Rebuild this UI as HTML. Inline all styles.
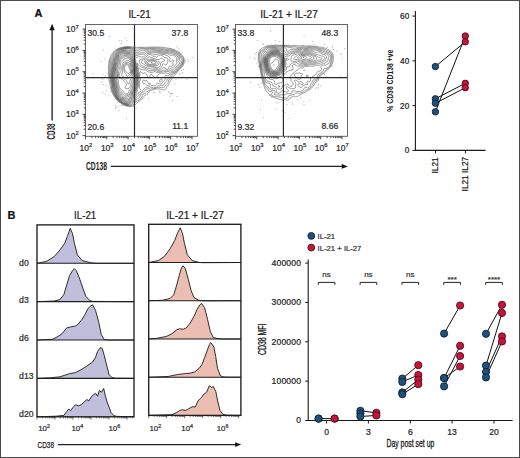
<!DOCTYPE html><html><head><meta charset="utf-8"><style>html,body{margin:0;padding:0;background:#fff}svg{display:block}text{font-family:"Liberation Sans",sans-serif}</style></head><body><svg width="520" height="458" viewBox="0 0 520 458"><rect x="0.5" y="0.5" width="519" height="457" fill="#fff" stroke="#4a4a4a" stroke-width="1"/><text x="34.6" y="17.4" font-size="11" text-anchor="start" font-weight="bold" fill="#111" stroke="#111" stroke-width="0.22" >A</text><text x="139.5" y="17.7" font-size="10.0" text-anchor="middle" font-weight="normal" fill="#222" stroke="#222" stroke-width="0.22" textLength="22.2" lengthAdjust="spacingAndGlyphs">IL-21</text><text x="289" y="17.6" font-size="10.0" text-anchor="middle" font-weight="normal" fill="#222" stroke="#222" stroke-width="0.22" textLength="57.5" lengthAdjust="spacingAndGlyphs">IL-21 + IL-27</text><path d="M52.1,120.6V29" stroke="#222" stroke-width="1.35"/><path d="M52.1,23.8L49.4,30.2L54.8,30.2Z" fill="#111"/><text transform="translate(55.2,131.6) rotate(-90)" font-size="10.2" font-weight="bold" text-anchor="middle" fill="#222" textLength="16.0" lengthAdjust="spacingAndGlyphs">CD38</text><path d="M110.8,166.4H342" stroke="#222" stroke-width="1.3"/><path d="M347.8,166.4L341.8,164L341.8,168.8Z" fill="#111"/><text x="86.0" y="169.5" font-size="10.6" font-weight="bold" fill="#222" textLength="21.0" lengthAdjust="spacingAndGlyphs">CD138</text><path d="M131.0,106.5L130.5,106.6L130.0,106.7L129.5,106.6L129.2,106.5L128.8,106.4L128.2,106.4L128.0,106.2L127.5,106.2L127.0,106.1L126.5,106.0L126.2,106.0L125.8,105.8L125.5,105.7L125.0,105.5L124.8,105.4L124.2,105.3L124.0,105.1L123.8,105.0L123.3,104.8L123.0,104.6L122.8,104.5L122.3,104.2L122.0,104.0L121.8,103.9L121.5,103.7L121.0,103.5L120.8,103.3L120.5,103.1L120.2,103.0L120.0,102.8L119.7,102.5L119.3,102.2L119.0,102.0L118.8,101.8L118.5,101.6L118.2,101.3L118.0,101.1L117.8,101.0L117.5,100.8L117.2,100.5L117.0,100.2L116.8,100.0L116.5,99.6L116.3,99.2L116.1,99.0L115.8,98.8L115.6,98.5L115.5,98.2L115.2,97.9L115.0,97.6L114.8,97.2L114.6,97.0L114.4,96.8L114.2,96.5L114.0,96.0L113.8,95.8L113.6,95.5L113.5,95.2L113.3,94.8L113.1,94.5L113.0,94.2L112.8,93.8L112.6,93.5L112.5,93.2L112.2,92.8L112.1,92.5L112.0,92.2L111.8,91.8L111.7,91.5L111.5,91.0L111.5,90.8L111.3,90.2L111.1,90.0L111.0,89.5L110.9,89.2L110.8,88.8L110.7,88.5L110.6,88.0L110.5,87.6L110.5,87.2L110.4,86.8L110.3,86.2L110.3,85.8L110.2,85.5L110.1,85.0L110.0,84.6L109.9,84.2L109.8,83.8L109.7,83.5L109.5,83.1L109.5,82.8L109.4,82.2L109.3,81.8L109.2,81.5L109.2,81.0L109.2,80.5L109.1,80.0L109.0,79.8L108.9,79.2L108.9,78.8L108.9,78.2L108.8,77.8L108.7,77.5L108.7,77.0L108.6,76.5L108.6,76.0L108.6,75.5L108.6,75.0L108.5,74.7L108.3,74.2L108.3,73.8L108.3,73.2L108.3,72.8L108.4,72.2L108.4,71.8L108.4,71.2L108.4,70.8L108.5,70.2L108.5,69.8L108.4,69.2L108.4,68.8L108.4,68.2L108.4,67.8L108.4,67.2L108.4,66.8L108.4,66.2L108.5,66.0L108.6,65.5L108.7,65.0L108.7,64.5L108.7,64.0L108.8,63.6L108.9,63.2L108.8,62.8L108.8,62.2L109.0,61.8L109.0,61.5L109.1,61.0L109.2,60.6L109.3,60.2L109.4,59.8L109.5,59.4L109.6,59.0L109.8,58.8L109.8,58.2L110.0,57.9L110.1,57.5L110.2,57.2L110.5,56.8L110.6,56.5L110.8,56.2L111.0,55.8L111.1,55.5L111.2,55.2L111.5,54.8L111.6,54.5L111.8,54.2L112.0,53.9L112.2,53.5L112.4,53.2L112.5,53.0L112.8,52.7L113.0,52.4L113.2,52.1L113.5,51.8L113.7,51.5L114.0,51.3L114.2,51.2L114.5,51.0L114.8,50.7L115.0,50.5L115.4,50.2L115.7,50.0L115.9,49.8L116.2,49.5L116.5,49.4L116.8,49.2L117.2,49.0L117.5,48.8L117.8,48.7L118.2,48.5L118.5,48.4L118.8,48.2L119.2,48.0L119.5,48.0L120.0,47.8L120.2,47.7L120.8,47.7L121.2,47.5L121.5,47.5L122.0,47.4L122.3,47.2L122.8,47.2L123.2,47.1L123.5,47.0L124.0,46.9L124.5,46.9L125.0,46.9L125.5,46.9L126.0,46.8L126.2,46.7L126.8,46.7L127.2,46.7L127.8,46.7L128.2,46.7L128.8,46.7L129.2,46.7L129.8,46.7L130.0,46.8L130.5,46.8L131.0,46.8L131.5,46.8L132.0,46.9L132.5,47.0L132.8,47.1L133.2,47.2L133.8,47.2L134.2,47.2L134.8,47.2L135.0,47.3L135.5,47.3L136.0,47.3L136.5,47.3L136.8,47.2L137.1,47.2L137.5,47.3L138.0,47.4L138.5,47.4L139.0,47.3L139.5,47.3L140.0,47.3L140.5,47.3L141.0,47.3L141.5,47.3L142.0,47.3L142.5,47.3L143.0,47.4L143.5,47.4L144.0,47.4L144.5,47.4L145.0,47.4L145.5,47.4L146.0,47.4L146.4,47.2L146.8,47.2L147.2,47.2L147.8,47.2L148.2,47.1L148.8,47.1L149.2,47.1L149.8,47.1L150.2,47.1L150.8,47.1L151.2,47.1L151.8,47.1L152.2,47.1L152.8,47.1L153.2,47.1L153.8,47.1L154.2,47.1L154.8,47.1L155.2,47.1L155.8,47.1L156.2,47.1L156.8,47.1L157.2,47.1L157.8,47.1L158.2,47.1L158.8,47.1L159.2,47.1L159.8,47.1L160.2,47.1L160.8,47.1L161.2,47.2L161.5,47.3L162.0,47.3L162.5,47.3L163.0,47.3L163.5,47.3L164.0,47.4L164.3,47.5L164.8,47.6L165.2,47.7L165.8,47.7L166.0,47.8L166.5,48.0L166.8,48.0L167.2,48.0L167.8,48.1L168.2,48.2L168.8,48.2L169.0,48.3L169.5,48.3L170.0,48.4L170.4,48.5L170.8,48.6L171.2,48.7L171.5,48.8L172.0,48.9L172.2,49.0L172.8,49.1L173.2,49.2L173.5,49.3L173.9,49.5L174.2,49.7L174.5,49.8L175.0,49.9L175.2,50.1L175.6,50.2L176.0,50.5L176.2,50.6L176.5,50.8L177.0,51.0L177.2,51.1L177.6,51.2L178.0,51.5L178.2,51.6L178.5,51.8L178.9,52.0L179.2,52.2L179.5,52.4L179.8,52.6L180.0,52.9L180.2,53.1L180.5,53.3L180.8,53.5L181.0,53.8L181.2,54.1L181.5,54.4L181.7,54.8L181.9,55.0L182.1,55.2L182.4,55.5L182.5,55.8L182.8,56.0L183.0,56.3L183.2,56.7L183.4,57.0L183.6,57.2L183.7,57.8L183.9,58.0L184.0,58.5L184.1,58.8L184.2,59.2L184.2,59.8L184.2,60.2L184.2,60.8L184.2,61.2L184.2,61.8L184.1,62.2L184.0,62.5L184.0,63.0L183.9,63.5L183.8,63.9L183.7,64.2L183.5,64.5L183.3,65.0L183.2,65.2L183.0,65.5L182.8,65.9L182.5,66.2L182.3,66.5L182.1,66.8L181.9,67.0L181.7,67.2L181.4,67.5L181.2,67.8L180.9,68.0L180.7,68.2L180.4,68.5L180.2,68.8L179.9,69.0L179.7,69.2L179.4,69.5L179.2,69.8L179.0,70.0L178.8,70.4L178.5,70.7L178.2,70.9L178.0,71.2L177.9,71.5L177.7,71.8L177.4,72.0L177.1,72.2L177.0,72.5L176.8,72.8L176.5,73.1L176.2,73.3L176.0,73.5L175.8,73.9L175.5,74.2L175.2,74.4L175.0,74.6L174.8,74.9L174.5,75.2L174.2,75.4L174.0,75.7L173.8,76.0L173.6,76.2L173.5,76.5L173.2,76.8L173.0,77.1L172.8,77.5L172.6,77.8L172.4,78.0L172.2,78.3L172.0,78.6L171.8,78.9L171.6,79.2L171.4,79.5L171.2,79.8L171.0,80.0L170.8,80.4L170.6,80.8L170.4,81.0L170.2,81.4L170.1,81.8L169.9,82.0L169.8,82.4L169.5,82.7L169.4,83.0L169.2,83.3L169.0,83.8L168.9,84.0L168.7,84.2L168.5,84.7L168.3,85.0L168.2,85.2L168.0,85.5L167.8,85.8L167.5,86.1L167.2,86.3L167.0,86.7L166.8,87.0L166.6,87.2L166.5,87.5L166.3,88.0L166.2,88.2L166.0,88.6L165.8,88.9L165.5,89.2L165.2,89.5L165.0,89.6L164.8,89.8L164.2,89.9L163.8,89.9L163.3,89.8L163.0,89.7L162.5,89.5L162.2,89.4L161.8,89.3L161.2,89.3L161.0,89.2L160.5,89.2L160.0,89.1L159.5,89.0L159.0,89.0L158.5,89.0L158.2,89.0L157.8,88.8L157.2,88.8L156.8,88.8L156.3,89.0L156.0,89.1L155.5,89.1L155.0,89.2L154.8,89.3L154.2,89.4L153.9,89.5L153.5,89.6L153.0,89.8L152.8,89.8L152.2,90.0L152.0,90.1L151.7,90.2L151.3,90.5L151.0,90.7L150.8,90.8L150.5,91.0L150.2,91.2L149.8,91.5L149.5,91.7L149.2,91.9L149.0,92.1L148.8,92.3L148.4,92.5L148.1,92.8L147.9,93.0L147.6,93.2L147.3,93.5L147.0,93.7L146.8,93.9L146.5,94.1L146.2,94.3L146.0,94.5L145.7,94.8L145.3,95.0L145.0,95.2L144.8,95.5L144.5,95.7L144.3,96.0L144.1,96.2L143.8,96.5L143.5,96.8L143.3,97.0L143.2,97.2L143.0,97.5L142.7,97.8L142.5,98.0L142.2,98.3L142.0,98.6L141.8,98.8L141.5,99.1L141.2,99.3L141.0,99.6L140.8,99.8L140.5,100.1L140.2,100.3L140.0,100.5L139.8,100.8L139.5,101.0L139.2,101.2L139.0,101.5L138.6,101.8L138.2,101.9L138.0,102.1L137.8,102.3L137.5,102.5L137.1,102.8L136.9,103.0L136.6,103.2L136.4,103.5L136.0,103.8L135.8,104.0L135.6,104.2L135.4,104.5L135.2,104.8L134.8,105.0L134.5,105.1L134.2,105.3L134.0,105.5L133.6,105.8L133.2,105.9L132.8,106.0L132.5,106.1L132.2,106.3L131.8,106.4L131.2,106.4L131.0,106.5ZM130.5,105.8L130.0,105.9L129.5,105.8L129.2,105.7L128.8,105.7L128.2,105.6L127.8,105.6L127.2,105.5L126.8,105.5L126.5,105.5L126.0,105.3L125.7,105.2L125.2,105.1L125.0,105.0L124.5,104.8L124.2,104.7L123.9,104.5L123.5,104.3L123.2,104.2L122.9,104.0L122.5,103.8L122.2,103.6L122.0,103.4L121.7,103.2L121.2,103.0L121.0,102.8L120.8,102.7L120.4,102.5L120.1,102.2L119.8,102.0L119.5,101.8L119.2,101.6L119.0,101.4L118.8,101.2L118.5,100.9L118.2,100.7L117.9,100.5L117.6,100.2L117.4,100.0L117.2,99.8L117.0,99.4L116.8,99.0L116.6,98.8L116.4,98.5L116.2,98.2L116.0,97.9L115.8,97.6L115.5,97.3L115.3,97.0L115.2,96.8L115.0,96.5L114.8,96.1L114.6,95.8L114.4,95.5L114.2,95.2L114.0,94.8L113.9,94.5L113.7,94.2L113.5,93.8L113.3,93.5L113.2,93.2L113.0,92.9L112.8,92.5L112.7,92.2L112.5,91.8L112.4,91.5L112.2,91.2L112.1,90.8L112.0,90.3L111.9,90.0L111.8,89.5L111.7,89.2L111.6,88.8L111.5,88.2L111.5,88.0L111.4,87.5L111.4,87.0L111.4,86.5L111.3,86.0L111.3,85.5L111.3,85.0L111.2,84.8L111.1,84.2L111.0,84.0L110.9,83.5L110.8,83.2L110.6,82.8L110.5,82.3L110.5,82.0L110.3,81.5L110.2,81.1L110.2,80.8L110.2,80.2L110.2,79.8L110.1,79.2L110.1,78.8L110.0,78.2L110.0,78.0L109.8,77.5L109.7,77.2L109.6,76.8L109.5,76.3L109.5,76.0L109.4,75.5L109.3,75.0L109.3,74.5L109.2,74.2L109.1,73.8L109.1,73.2L109.2,72.8L109.2,72.2L109.3,72.0L109.3,71.5L109.4,71.0L109.5,70.5L109.5,70.0L109.5,69.5L109.5,69.0L109.4,68.5L109.3,68.0L109.3,67.5L109.2,67.2L109.2,66.8L109.3,66.5L109.5,66.0L109.5,65.8L109.6,65.2L109.6,64.8L109.7,64.2L109.7,63.8L109.8,63.5L109.7,63.2L109.7,62.8L109.7,62.2L109.7,61.8L109.8,61.5L109.9,61.0L110.0,60.5L110.0,60.2L110.2,59.8L110.3,59.5L110.5,59.1L110.6,58.8L110.8,58.3L110.9,58.0L111.1,57.8L111.2,57.5L111.5,57.1L111.7,56.8L111.9,56.5L112.0,56.2L112.2,55.8L112.4,55.5L112.5,55.2L112.8,54.8L112.8,54.5L113.0,54.1L113.2,53.8L113.3,53.5L113.5,53.1L113.8,52.8L114.0,52.5L114.2,52.2L114.5,52.0L114.8,51.9L115.0,51.6L115.2,51.4L115.5,51.2L115.8,51.0L116.0,50.8L116.3,50.5L116.5,50.2L116.9,50.0L117.2,49.8L117.5,49.6L117.8,49.4L118.0,49.2L118.5,49.0L118.8,48.9L119.1,48.8L119.5,48.5L119.8,48.5L120.2,48.3L120.5,48.2L121.0,48.1L121.4,48.0L121.8,47.9L122.2,47.8L122.5,47.7L123.0,47.6L123.5,47.5L123.8,47.4L124.2,47.3L124.8,47.3L125.2,47.3L125.8,47.3L126.0,47.2L126.5,47.1L127.0,47.1L127.5,47.1L128.0,47.2L128.5,47.2L129.0,47.2L129.4,47.2L129.8,47.3L130.2,47.3L130.8,47.4L131.2,47.5L131.5,47.5L132.0,47.7L132.2,47.8L132.8,48.0L133.0,48.0L133.5,48.1L133.8,48.2L134.2,48.4L134.5,48.5L134.9,48.8L135.2,48.9L135.5,49.0L136.0,49.1L136.5,49.1L137.0,49.1L137.5,49.0L137.8,48.9L138.1,48.8L138.5,48.5L138.8,48.4L139.1,48.2L139.5,48.1L140.0,48.0L140.5,48.0L141.0,48.0L141.5,48.0L142.0,48.1L142.5,48.1L143.0,48.2L143.5,48.2L143.9,48.2L144.2,48.3L144.8,48.3L145.2,48.3L145.8,48.3L146.2,48.3L146.5,48.2L147.0,48.1L147.5,48.1L148.0,48.0L148.4,48.0L148.8,48.0L149.2,47.9L149.8,47.9L150.2,47.9L150.8,47.9L151.2,47.9L151.8,47.9L152.2,47.9L152.8,47.9L153.2,47.9L153.8,47.9L154.2,47.9L154.8,47.9L155.2,48.0L155.8,47.9L156.2,47.9L156.8,47.9L157.2,47.9L157.8,47.9L158.2,47.9L158.8,48.0L159.1,48.0L159.5,48.0L160.0,48.1L160.5,48.1L161.0,48.2L161.2,48.3L161.8,48.3L162.2,48.3L162.8,48.3L163.2,48.3L163.8,48.3L164.1,48.5L164.5,48.7L164.8,48.8L165.2,48.9L165.6,49.0L166.0,49.2L166.5,49.2L167.0,49.2L167.5,49.2L168.0,49.2L168.5,49.1L169.0,49.2L169.5,49.2L169.9,49.2L170.2,49.3L170.8,49.4L171.0,49.5L171.5,49.6L171.9,49.8L172.2,49.8L172.8,49.9L173.1,50.0L173.5,50.1L173.8,50.2L174.2,50.5L174.5,50.6L174.8,50.8L175.2,51.0L175.5,51.2L175.8,51.4L176.0,51.5L176.4,51.8L176.8,51.9L177.0,52.0L177.5,52.2L177.8,52.3L178.1,52.5L178.5,52.7L178.8,52.8L179.1,53.0L179.4,53.2L179.6,53.5L179.8,53.8L180.1,54.0L180.4,54.2L180.5,54.5L180.8,54.9L180.9,55.2L181.1,55.5L181.2,55.8L181.5,56.0L181.8,56.3L182.0,56.6L182.2,56.8L182.5,57.1L182.8,57.4L182.9,57.8L183.0,58.0L183.2,58.5L183.3,58.8L183.5,59.2L183.5,59.8L183.5,60.2L183.4,60.8L183.4,61.2L183.4,61.8L183.3,62.2L183.3,62.8L183.2,63.1L183.1,63.5L183.0,64.0L182.9,64.2L182.8,64.6L182.5,65.0L182.4,65.2L182.2,65.5L182.0,65.8L181.8,66.1L181.5,66.5L181.3,66.8L181.0,67.0L180.8,67.2L180.5,67.5L180.3,67.8L180.0,68.0L179.8,68.2L179.5,68.5L179.2,68.7L179.0,68.9L178.8,69.2L178.5,69.4L178.3,69.8L178.1,70.0L177.9,70.2L177.7,70.5L177.5,70.8L177.2,71.1L177.0,71.4L176.8,71.7L176.5,71.9L176.2,72.2L176.0,72.5L175.8,72.7L175.5,72.8L175.2,73.0L175.0,73.2L174.5,73.5L174.2,73.6L173.9,73.8L173.5,73.9L173.2,74.1L173.0,74.3L172.7,74.5L172.5,74.8L172.2,75.1L172.1,75.5L172.0,75.8L171.8,76.2L171.6,76.5L171.5,76.8L171.2,77.2L171.1,77.5L170.9,77.8L170.6,78.0L170.4,78.2L170.2,78.5L169.9,78.8L169.5,79.0L169.3,79.2L169.1,79.5L168.9,79.8L168.8,80.1L168.6,80.5L168.5,81.0L168.5,81.3L168.4,81.8L168.3,82.2L168.2,82.5L168.0,82.8L167.8,83.2L167.5,83.5L167.2,83.7L167.0,83.9L166.8,84.0L166.5,84.3L166.2,84.5L166.0,84.8L165.8,85.1L165.5,85.5L165.3,85.8L165.1,86.0L165.0,86.2L164.8,86.5L164.5,87.0L164.3,87.2L164.1,87.5L163.9,87.8L163.5,87.8L163.2,87.7L162.8,87.5L162.5,87.5L162.0,87.4L161.5,87.4L161.0,87.5L160.8,87.5L160.2,87.5L159.8,87.6L159.2,87.6L158.8,87.7L158.2,87.6L157.8,87.6L157.2,87.7L157.0,87.8L156.5,87.9L156.2,88.0L155.8,88.2L155.5,88.3L155.0,88.3L154.5,88.5L154.2,88.5L153.8,88.6L153.2,88.7L152.8,88.7L152.2,88.7L152.0,88.8L151.5,88.9L151.2,89.0L150.9,89.2L150.6,89.5L150.2,89.7L150.0,89.8L149.7,90.0L149.3,90.2L149.0,90.4L148.8,90.5L148.3,90.8L148.0,90.9L147.8,91.0L147.3,91.2L147.0,91.5L146.9,91.8L146.7,92.0L146.4,92.2L146.0,92.5L145.8,92.7L145.5,92.9L145.2,93.1L144.8,93.2L144.5,93.4L144.2,93.5L143.8,93.7L143.5,93.9L143.2,94.1L143.0,94.3L142.8,94.5L142.5,94.8L142.2,95.1L142.1,95.5L142.0,96.0L142.0,96.2L141.9,96.8L141.8,97.2L141.7,97.5L141.5,97.8L141.2,98.1L141.0,98.4L140.8,98.7L140.5,98.9L140.2,99.1L140.0,99.3L139.8,99.5L139.4,99.8L139.1,100.0L138.8,100.2L138.5,100.4L138.2,100.5L137.8,100.7L137.5,100.8L137.0,101.0L136.8,101.1L136.5,101.3L136.2,101.5L135.9,101.8L135.6,102.0L135.2,102.2L135.0,102.5L134.8,102.7L134.6,103.0L134.5,103.2L134.2,103.7L134.0,104.0L133.8,104.2L133.5,104.5L133.3,104.8L133.0,104.9L132.8,105.0L132.2,105.2L132.0,105.4L131.7,105.5L131.2,105.6L130.8,105.7L130.5,105.8ZM130.2,105.1L129.8,105.1L129.2,105.1L128.8,105.1L128.2,105.1L127.8,105.1L127.2,105.0L126.8,105.0L126.5,105.0L126.0,104.9L125.5,104.8L125.2,104.6L124.9,104.5L124.5,104.4L124.2,104.2L123.8,104.0L123.5,103.8L123.2,103.7L122.9,103.5L122.5,103.2L122.2,103.1L122.0,102.9L121.7,102.8L121.3,102.5L121.0,102.3L120.8,102.2L120.5,102.0L120.2,101.8L119.8,101.5L119.5,101.3L119.2,101.1L119.0,100.9L118.8,100.7L118.5,100.4L118.2,100.2L117.9,100.0L117.7,99.8L117.5,99.5L117.2,99.1L117.1,98.8L116.9,98.5L116.7,98.2L116.5,98.0L116.2,97.6L116.0,97.2L115.8,97.0L115.7,96.8L115.5,96.4L115.2,96.0L115.1,95.8L115.0,95.5L114.8,95.1L114.5,94.8L114.4,94.5L114.2,94.1L114.1,93.8L113.9,93.5L113.8,93.1L113.5,92.8L113.4,92.5L113.2,92.2L113.0,91.8L113.0,91.5L112.8,91.0L112.7,90.8L112.6,90.2L112.5,90.0L112.4,89.5L112.3,89.0L112.2,88.7L112.2,88.2L112.1,87.8L112.0,87.2L112.0,87.0L112.0,86.5L112.0,86.0L111.9,85.5L111.9,85.0L111.8,84.5L111.7,84.2L111.6,83.8L111.5,83.4L111.4,83.0L111.2,82.6L111.2,82.2L111.1,81.8L111.0,81.2L111.0,81.0L110.9,80.5L110.9,80.0L110.9,79.5L110.8,79.0L110.8,78.7L110.7,78.2L110.6,77.8L110.5,77.4L110.4,77.0L110.2,76.6L110.2,76.2L110.1,75.8L110.0,75.2L110.0,75.0L110.0,74.5L109.9,74.0L109.8,73.5L109.9,73.0L110.0,72.5L110.0,72.2L110.1,71.8L110.2,71.2L110.2,70.8L110.3,70.5L110.3,70.0L110.4,69.5L110.3,69.0L110.3,68.5L110.3,68.0L110.2,67.8L110.2,67.2L110.2,66.8L110.2,66.4L110.4,66.0L110.5,65.5L110.5,65.2L110.6,64.8L110.6,64.2L110.6,63.8L110.6,63.2L110.5,62.8L110.5,62.5L110.5,62.2L110.5,61.8L110.6,61.2L110.7,60.8L110.8,60.5L111.0,60.1L111.2,59.8L111.4,59.5L111.5,59.2L111.7,58.8L111.9,58.5L112.0,58.2L112.2,57.9L112.5,57.5L112.7,57.2L112.8,57.0L113.0,56.6L113.2,56.2L113.3,56.0L113.5,55.7L113.7,55.2L113.8,55.0L113.9,54.5L114.0,54.1L114.1,53.8L114.3,53.5L114.5,53.2L114.8,52.8L115.0,52.6L115.2,52.4L115.5,52.1L115.8,51.9L116.0,51.7L116.2,51.5L116.5,51.2L116.8,50.9L117.0,50.7L117.2,50.5L117.6,50.2L117.9,50.0L118.2,49.8L118.5,49.6L118.8,49.4L119.1,49.2L119.5,49.1L119.8,48.9L120.2,48.8L120.5,48.7L121.0,48.6L121.3,48.5L121.8,48.4L122.2,48.3L122.5,48.2L123.0,48.1L123.3,48.0L123.8,47.9L124.1,47.8L124.5,47.7L125.0,47.7L125.5,47.7L126.0,47.7L126.5,47.5L127.0,47.5L127.5,47.6L128.0,47.6L128.5,47.6L129.0,47.7L129.5,47.7L129.8,47.8L130.2,47.9L130.8,48.0L131.0,48.0L131.5,48.2L131.8,48.2L132.2,48.5L132.5,48.6L132.9,48.8L133.2,48.9L133.5,49.0L133.8,49.2L134.2,49.5L134.5,49.7L134.8,49.9L135.0,50.2L135.2,50.4L135.5,50.6L135.8,50.8L136.2,50.9L136.8,50.9L137.2,50.8L137.5,50.7L138.0,50.5L138.2,50.4L138.6,50.2L139.0,50.0L139.2,49.8L139.5,49.6L139.8,49.3L140.0,49.1L140.2,49.0L140.8,48.9L141.2,48.8L141.8,48.8L142.2,48.9L142.8,48.9L143.2,49.0L143.5,49.0L144.0,49.1L144.5,49.1L145.0,49.1L145.5,49.1L146.0,49.0L146.4,49.0L146.8,48.9L147.2,48.9L147.8,48.9L148.2,48.8L148.8,48.8L149.0,48.7L149.5,48.7L150.0,48.6L150.5,48.6L151.0,48.6L151.5,48.6L152.0,48.6L152.5,48.6L153.0,48.6L153.5,48.6L154.0,48.6L154.5,48.7L155.0,48.7L155.5,48.7L155.8,48.8L156.2,48.8L156.8,48.8L157.2,48.8L157.8,48.9L158.2,48.9L158.8,49.0L159.1,49.0L159.5,49.0L160.0,49.1L160.5,49.1L160.9,49.2L161.2,49.3L161.8,49.4L162.2,49.4L162.8,49.4L163.2,49.4L163.8,49.5L164.0,49.6L164.5,49.7L164.8,49.8L165.2,49.9L165.8,50.0L166.0,50.0L166.5,50.1L167.0,50.1L167.5,50.1L168.0,50.0L168.2,50.0L168.6,50.0L169.0,50.0L169.5,50.0L170.0,50.1L170.5,50.2L170.8,50.3L171.2,50.4L171.8,50.5L172.0,50.5L172.5,50.6L173.0,50.7L173.3,50.8L173.8,51.0L174.0,51.1L174.3,51.2L174.7,51.5L175.0,51.8L175.2,52.0L175.5,52.1L175.8,52.3L176.1,52.5L176.5,52.7L176.8,52.8L177.2,53.0L177.5,53.1L178.0,53.2L178.2,53.4L178.6,53.5L179.0,53.8L179.2,54.0L179.4,54.2L179.7,54.5L179.9,54.8L180.1,55.0L180.2,55.4L180.4,55.8L180.6,56.0L180.8,56.3L181.0,56.6L181.2,57.0L181.5,57.2L181.8,57.5L182.0,57.8L182.1,58.0L182.3,58.2L182.5,58.7L182.6,59.0L182.8,59.4L182.8,59.8L182.8,60.2L182.8,60.8L182.8,61.2L182.8,61.8L182.7,62.0L182.7,62.5L182.6,63.0L182.5,63.5L182.5,63.8L182.2,64.2L182.1,64.5L182.0,64.8L181.8,65.1L181.5,65.4L181.2,65.7L181.1,66.0L180.9,66.2L180.6,66.5L180.4,66.8L180.1,67.0L179.9,67.2L179.6,67.5L179.3,67.8L179.0,68.0L178.8,68.2L178.5,68.4L178.2,68.7L178.0,68.9L177.8,69.2L177.6,69.5L177.4,69.8L177.2,70.0L177.0,70.2L176.8,70.7L176.5,71.0L176.3,71.2L176.0,71.5L175.8,71.8L175.5,72.0L175.2,72.2L175.0,72.3L174.6,72.5L174.2,72.7L174.0,72.8L173.5,72.9L173.1,73.0L172.8,73.1L172.5,73.2L172.1,73.5L171.8,73.8L171.5,74.0L171.3,74.2L171.2,74.5L171.0,74.9L170.8,75.2L170.6,75.5L170.5,75.8L170.2,76.2L170.1,76.5L169.9,76.8L169.7,77.0L169.4,77.2L169.2,77.5L168.9,77.8L168.6,78.0L168.3,78.2L168.1,78.5L167.9,78.8L167.7,79.0L167.5,79.2L167.2,79.7L167.1,80.0L167.0,80.2L166.8,80.7L166.6,81.0L166.4,81.2L166.2,81.5L166.0,81.8L165.7,82.0L165.4,82.2L165.1,82.5L164.8,82.8L164.6,83.0L164.5,83.2L164.2,83.7L164.1,84.0L164.0,84.3L163.8,84.8L163.7,85.0L163.4,85.2L163.0,85.4L162.5,85.3L162.0,85.3L161.5,85.4L161.1,85.5L160.8,85.6L160.2,85.7L159.9,85.8L159.5,85.8L159.0,85.8L158.5,85.8L158.1,86.0L157.8,86.2L157.5,86.3L157.2,86.5L156.8,86.8L156.5,86.9L156.2,87.1L155.9,87.2L155.5,87.4L155.1,87.5L154.8,87.6L154.2,87.7L153.8,87.7L153.2,87.6L153.0,87.5L152.5,87.4L152.0,87.3L151.5,87.3L151.0,87.5L150.8,87.6L150.5,87.8L150.2,88.0L149.9,88.2L149.5,88.5L149.2,88.5L148.8,88.7L148.2,88.7L148.0,88.8L147.5,88.8L147.0,88.9L146.8,89.0L146.2,89.2L146.0,89.4L145.8,89.5L145.4,89.8L145.1,90.0L144.9,90.2L144.7,90.5L144.5,90.8L144.2,91.1L144.0,91.5L143.8,91.8L143.6,92.0L143.3,92.2L143.0,92.5L142.8,92.7L142.5,92.9L142.2,93.2L142.0,93.4L141.8,93.6L141.5,93.8L141.2,94.0L141.0,94.3L140.8,94.6L140.5,94.9L140.3,95.2L140.2,95.5L140.0,96.0L140.0,96.2L139.9,96.8L139.8,97.2L139.7,97.5L139.5,97.8L139.1,98.0L138.8,98.2L138.5,98.3L138.1,98.5L137.8,98.8L137.5,99.0L137.2,99.2L137.0,99.4L136.8,99.6L136.5,99.8L136.2,100.1L136.0,100.3L135.8,100.6L135.5,100.8L135.2,101.0L134.9,101.2L134.6,101.5L134.2,101.7L134.0,102.0L133.8,102.2L133.6,102.5L133.4,102.8L133.2,103.0L133.0,103.2L132.8,103.6L132.5,103.8L132.2,104.0L131.9,104.2L131.6,104.5L131.2,104.7L131.0,104.8L130.5,105.0L130.2,105.1ZM129.0,104.5L128.5,104.6L128.0,104.6L127.5,104.6L127.0,104.6L126.5,104.6L126.1,104.5L125.8,104.4L125.3,104.2L125.0,104.2L124.6,104.0L124.2,103.8L124.0,103.7L123.6,103.5L123.2,103.3L123.0,103.1L122.8,103.0L122.5,102.8L122.0,102.5L121.8,102.4L121.5,102.2L121.2,102.0L120.8,101.8L120.5,101.5L120.2,101.4L120.0,101.2L119.6,101.0L119.3,100.8L119.1,100.5L118.8,100.2L118.5,100.0L118.2,99.8L118.0,99.6L117.8,99.3L117.6,99.0L117.5,98.8L117.2,98.4L117.0,98.1L116.8,97.8L116.6,97.5L116.4,97.2L116.2,97.0L116.0,96.6L115.8,96.2L115.6,96.0L115.5,95.7L115.3,95.2L115.1,95.0L115.0,94.8L114.8,94.3L114.6,94.0L114.5,93.7L114.3,93.2L114.2,93.0L114.0,92.6L113.8,92.2L113.7,92.0L113.5,91.6L113.4,91.2L113.2,91.0L113.1,90.5L113.0,90.0L113.0,89.8L112.9,89.2L112.8,88.8L112.8,88.2L112.7,88.0L112.6,87.5L112.6,87.0L112.5,86.5L112.5,86.2L112.5,85.8L112.4,85.2L112.3,84.8L112.2,84.4L112.2,84.0L112.0,83.5L112.0,83.2L111.8,82.8L111.8,82.3L111.7,82.0L111.6,81.5L111.5,81.0L111.5,80.7L111.5,80.2L111.4,79.8L111.4,79.2L111.3,78.8L111.2,78.5L111.2,78.0L111.1,77.5L111.0,77.2L110.9,76.8L110.8,76.2L110.7,76.0L110.7,75.5L110.6,75.0L110.6,74.5L110.6,74.0L110.6,73.5L110.7,73.0L110.8,72.5L110.8,72.2L110.9,71.8L110.9,71.2L111.0,70.9L111.0,70.5L111.1,70.0L111.1,69.5L111.1,69.0L111.1,68.5L111.1,68.0L111.1,67.5L111.1,67.0L111.2,66.5L111.3,66.2L111.4,65.8L111.5,65.2L111.5,65.0L111.6,64.5L111.6,64.0L111.6,63.5L111.5,63.0L111.5,62.5L111.5,62.0L111.6,61.5L111.8,61.1L111.9,60.8L112.0,60.5L112.2,60.1L112.5,59.8L112.6,59.5L112.8,59.1L112.9,58.8L113.0,58.5L113.2,58.0L113.4,57.8L113.5,57.5L113.8,57.0L113.9,56.8L114.1,56.5L114.2,56.2L114.5,55.8L114.6,55.5L114.8,55.2L114.9,54.8L115.0,54.5L115.2,54.0L115.3,53.8L115.5,53.4L115.8,53.0L116.0,52.8L116.2,52.5L116.4,52.2L116.6,52.0L116.8,51.8L117.1,51.5L117.3,51.2L117.5,51.0L117.8,50.8L118.0,50.5L118.3,50.2L118.7,50.0L119.0,49.8L119.2,49.7L119.6,49.5L120.0,49.3L120.2,49.2L120.8,49.1L121.1,49.0L121.5,48.9L122.0,48.8L122.2,48.7L122.8,48.6L123.0,48.5L123.5,48.4L123.8,48.2L124.2,48.1L124.8,48.1L125.2,48.1L125.8,48.1L126.2,48.0L126.5,47.9L127.0,47.9L127.5,47.9L128.0,48.0L128.3,48.0L128.8,48.0L129.2,48.1L129.8,48.2L130.0,48.3L130.5,48.4L130.8,48.5L131.2,48.7L131.5,48.9L131.8,49.0L132.1,49.2L132.5,49.5L132.8,49.6L133.0,49.8L133.4,50.0L133.8,50.2L134.0,50.5L134.2,50.7L134.5,51.0L134.7,51.2L134.9,51.5L135.0,51.8L135.2,52.0L135.5,52.3L135.8,52.5L136.2,52.5L136.5,52.5L137.0,52.4L137.5,52.3L137.8,52.2L138.2,52.1L138.5,52.0L139.0,51.9L139.3,51.8L139.8,51.5L140.0,51.4L140.2,51.2L140.5,51.0L140.8,50.8L141.1,50.5L141.5,50.3L142.0,50.3L142.5,50.3L143.0,50.5L143.2,50.5L143.8,50.6L144.2,50.5L144.5,50.4L144.9,50.2L145.2,50.1L145.7,50.0L146.0,50.0L146.5,49.9L147.0,49.8L147.5,49.8L148.0,49.9L148.5,49.9L149.0,49.9L149.5,49.9L150.0,49.8L150.5,49.8L150.8,49.7L151.2,49.6L151.8,49.6L152.2,49.5L152.5,49.5L153.0,49.5L153.5,49.5L153.9,49.5L154.2,49.5L154.8,49.6L155.2,49.7L155.5,49.8L156.0,49.8L156.5,49.9L157.0,49.9L157.5,50.0L157.9,50.0L158.2,50.0L158.8,50.0L159.2,50.0L159.8,50.0L160.2,50.0L160.8,50.1L161.2,50.2L161.5,50.2L162.0,50.3L162.5,50.4L163.0,50.4L163.3,50.5L163.8,50.6L164.2,50.7L164.7,50.8L165.0,50.8L165.5,50.8L166.0,50.9L166.5,50.9L167.0,50.9L167.5,50.9L168.0,50.9L168.5,51.0L168.9,51.0L169.2,51.1L169.8,51.2L170.1,51.2L170.5,51.3L171.0,51.4L171.5,51.4L172.0,51.4L172.5,51.4L173.0,51.5L173.2,51.6L173.6,51.8L174.0,52.0L174.2,52.2L174.5,52.4L174.8,52.6L175.0,52.8L175.3,53.0L175.6,53.2L176.0,53.5L176.2,53.6L176.6,53.8L177.0,53.9L177.4,54.0L177.8,54.1L178.2,54.2L178.5,54.4L178.8,54.6L179.0,54.9L179.2,55.2L179.5,55.5L179.6,55.8L179.8,56.1L180.0,56.5L180.1,56.8L180.2,57.0L180.5,57.5L180.6,57.8L180.8,58.0L181.0,58.5L181.1,58.8L181.2,59.1L181.4,59.5L181.5,59.8L181.7,60.2L181.8,60.6L181.9,61.0L181.9,61.5L182.0,62.0L182.0,62.3L182.0,62.8L182.0,63.0L181.9,63.5L181.8,63.9L181.6,64.2L181.4,64.5L181.2,64.8L181.0,65.0L180.8,65.3L180.5,65.6L180.2,65.9L180.0,66.2L179.8,66.4L179.5,66.6L179.2,66.8L179.0,67.1L178.7,67.2L178.4,67.5L178.1,67.8L177.8,68.0L177.5,68.2L177.2,68.5L177.0,68.8L176.8,69.0L176.7,69.2L176.5,69.5L176.2,69.9L176.1,70.2L176.0,70.5L175.7,70.8L175.5,71.0L175.2,71.2L174.9,71.5L174.5,71.7L174.2,71.8L173.8,71.9L173.5,72.0L173.0,72.1L172.5,72.2L172.2,72.3L171.8,72.5L171.5,72.7L171.2,72.9L171.0,73.1L170.8,73.3L170.5,73.6L170.2,73.9L170.0,74.2L169.8,74.5L169.6,74.8L169.5,75.0L169.2,75.2L169.0,75.5L168.6,75.8L168.2,75.9L167.8,75.9L167.2,75.8L167.0,75.8L166.5,75.6L166.0,75.5L165.5,75.6L165.2,75.8L165.0,76.0L164.8,76.5L164.7,76.8L164.8,77.0L164.9,77.5L165.0,77.9L165.1,78.2L165.2,78.8L165.2,79.2L165.0,79.7L164.8,80.0L164.6,80.2L164.4,80.5L164.2,80.8L164.0,81.0L163.7,81.2L163.4,81.5L163.2,81.8L163.0,82.0L162.8,82.3L162.5,82.6L162.2,82.9L162.0,83.2L161.8,83.4L161.5,83.5L161.0,83.8L160.8,83.8L160.2,83.9L159.8,83.9L159.3,83.8L159.0,83.6L158.8,83.5L158.2,83.3L158.0,83.2L157.5,83.2L157.2,83.3L157.0,83.5L156.8,83.9L156.6,84.2L156.5,84.6L156.3,85.0L156.1,85.2L155.8,85.5L155.5,85.7L155.2,85.8L154.8,85.8L154.2,85.8L154.0,85.8L153.5,85.6L153.0,85.5L152.5,85.5L152.0,85.6L151.5,85.7L151.2,85.8L150.8,86.0L150.5,86.2L150.2,86.3L149.9,86.5L149.5,86.7L149.2,86.8L148.8,87.0L148.5,87.0L148.0,87.1L147.5,87.2L147.0,87.2L146.8,87.3L146.2,87.4L146.0,87.5L145.5,87.7L145.2,87.9L145.0,88.0L144.6,88.2L144.3,88.5L144.0,88.8L143.8,89.0L143.5,89.2L143.3,89.5L143.2,89.8L143.0,90.1L142.8,90.5L142.7,90.8L142.5,91.1L142.2,91.5L142.0,91.8L141.8,92.0L141.6,92.2L141.3,92.5L141.0,92.8L140.8,93.0L140.5,93.2L140.2,93.4L140.0,93.6L139.8,93.9L139.5,94.1L139.2,94.4L139.0,94.7L138.8,95.0L138.6,95.2L138.4,95.5L138.2,95.8L138.0,96.0L137.8,96.3L137.5,96.5L137.2,96.8L137.0,97.0L136.8,97.3L136.5,97.6L136.3,98.0L136.1,98.2L136.0,98.5L135.8,98.9L135.6,99.2L135.4,99.5L135.2,99.8L135.0,100.0L134.7,100.2L134.4,100.5L134.1,100.8L133.8,101.0L133.5,101.2L133.2,101.5L133.0,101.7L132.8,102.0L132.5,102.2L132.3,102.5L132.0,102.8L131.8,103.0L131.5,103.2L131.2,103.4L131.0,103.6L130.7,103.8L130.4,104.0L130.0,104.2L129.8,104.3L129.2,104.4L129.0,104.5ZM128.0,104.0L127.5,104.1L127.0,104.2L126.5,104.2L126.0,104.1L125.7,104.0L125.2,103.9L124.9,103.8L124.5,103.6L124.2,103.5L123.9,103.2L123.5,103.0L123.2,102.9L123.0,102.7L122.7,102.5L122.3,102.2L122.0,102.1L121.8,101.9L121.5,101.8L121.0,101.5L120.8,101.3L120.5,101.1L120.2,101.0L119.8,100.8L119.5,100.5L119.2,100.3L119.0,100.0L118.8,99.8L118.5,99.7L118.2,99.4L118.0,99.1L117.8,98.8L117.6,98.5L117.5,98.2L117.2,98.0L117.0,97.6L116.8,97.2L116.6,97.0L116.5,96.8L116.2,96.4L116.0,96.0L115.9,95.8L115.8,95.4L115.6,95.0L115.4,94.8L115.2,94.3L115.1,94.0L115.0,93.7L114.8,93.2L114.7,93.0L114.5,92.5L114.4,92.2L114.2,92.0L114.0,91.5L114.0,91.2L113.8,90.8L113.7,90.5L113.7,90.0L113.6,89.5L113.5,89.1L113.4,88.8L113.3,88.2L113.2,87.8L113.2,87.5L113.1,87.0L113.0,86.5L113.0,86.2L112.9,85.8L112.9,85.2L112.8,84.8L112.7,84.5L112.6,84.0L112.5,83.5L112.4,83.2L112.3,82.8L112.2,82.5L112.2,82.0L112.1,81.5L112.0,81.0L112.0,80.8L111.9,80.2L111.9,79.8L111.8,79.2L111.8,78.8L111.7,78.5L111.6,78.0L111.5,77.5L111.5,77.2L111.4,76.8L111.3,76.2L111.2,76.0L111.2,75.5L111.2,75.0L111.2,74.5L111.3,74.2L111.3,73.8L111.3,73.2L111.4,72.8L111.4,72.2L111.5,71.8L111.5,71.5L111.6,71.0L111.7,70.5L111.7,70.0L111.7,69.5L111.8,69.2L111.8,68.8L111.8,68.2L111.8,67.8L111.9,67.2L112.0,66.8L112.0,66.5L112.2,66.0L112.2,65.6L112.3,65.2L112.4,64.8L112.4,64.2L112.4,63.8L112.4,63.2L112.4,62.8L112.5,62.2L112.5,62.0L112.6,61.5L112.8,61.1L112.9,60.8L113.0,60.5L113.2,60.0L113.3,59.8L113.5,59.2L113.6,59.0L113.8,58.6L113.9,58.2L114.0,58.0L114.2,57.6L114.5,57.2L114.6,57.0L114.8,56.8L115.0,56.4L115.2,56.0L115.4,55.8L115.5,55.5L115.7,55.0L115.8,54.8L116.0,54.3L116.1,54.0L116.2,53.7L116.5,53.3L116.7,53.0L116.8,52.8L117.1,52.5L117.3,52.2L117.5,51.9L117.8,51.7L118.0,51.4L118.2,51.1L118.5,50.9L118.8,50.6L119.0,50.4L119.2,50.2L119.6,50.0L120.0,49.8L120.2,49.7L120.7,49.5L121.0,49.4L121.5,49.3L121.8,49.2L122.2,49.2L122.7,49.0L123.0,48.9L123.5,48.8L123.8,48.7L124.2,48.5L124.5,48.5L125.0,48.4L125.5,48.4L126.0,48.4L126.5,48.3L127.0,48.3L127.5,48.3L128.0,48.4L128.5,48.4L128.9,48.5L129.2,48.6L129.6,48.8L130.0,49.0L130.2,49.1L130.5,49.3L130.9,49.5L131.2,49.7L131.5,49.8L131.8,50.0L132.2,50.2L132.5,50.4L132.8,50.5L133.1,50.8L133.4,51.0L133.6,51.2L133.8,51.5L134.0,51.8L134.2,52.2L134.4,52.5L134.6,52.8L134.8,53.0L135.0,53.4L135.2,53.7L135.5,53.9L135.8,54.1L136.2,54.1L136.6,54.0L137.0,53.9L137.4,53.8L137.8,53.6L138.2,53.5L138.5,53.4L139.0,53.4L139.5,53.3L139.8,53.2L140.2,53.1L140.7,53.0L141.0,52.9L141.5,52.8L141.8,52.7L142.2,52.6L142.8,52.6L143.2,52.6L143.8,52.6L144.2,52.5L144.5,52.4L144.8,52.2L145.0,52.0L145.3,51.8L145.6,51.5L145.9,51.2L146.2,51.1L146.7,51.0L147.0,51.0L147.5,51.0L147.8,51.0L148.2,51.2L148.6,51.2L149.0,51.3L149.5,51.3L150.0,51.3L150.2,51.2L150.8,51.1L151.1,51.0L151.5,50.9L151.9,50.8L152.2,50.6L152.8,50.5L153.2,50.5L153.8,50.5L154.2,50.6L154.8,50.7L155.2,50.7L155.5,50.8L156.0,50.8L156.5,50.9L157.0,50.9L157.5,50.9L158.0,50.9L158.5,50.9L159.0,50.8L159.5,50.8L160.0,50.8L160.5,50.9L161.0,51.0L161.2,51.0L161.8,51.2L162.0,51.3L162.5,51.4L162.8,51.5L163.2,51.6L163.7,51.8L164.0,51.8L164.5,51.8L165.0,51.8L165.5,51.8L165.8,51.8L166.2,51.7L166.8,51.7L167.1,51.8L167.5,51.8L168.0,51.8L168.5,51.9L168.8,52.0L169.2,52.1L169.7,52.2L170.0,52.4L170.5,52.5L170.8,52.5L171.2,52.6L171.8,52.5L172.1,52.5L172.4,52.5L172.8,52.5L173.2,52.7L173.5,52.8L173.9,53.0L174.2,53.2L174.5,53.4L174.8,53.6L175.0,53.8L175.3,54.0L175.7,54.2L176.0,54.4L176.2,54.6L176.6,54.8L177.0,54.9L177.2,55.0L177.8,55.2L178.0,55.4L178.2,55.6L178.5,55.8L178.8,56.1L179.0,56.5L179.1,56.8L179.2,57.1L179.4,57.5L179.5,58.0L179.5,58.5L179.5,59.0L179.4,59.5L179.5,60.0L179.5,60.2L179.8,60.6L180.0,60.9L180.2,61.2L180.5,61.5L180.7,61.8L180.8,62.0L181.0,62.5L181.0,62.8L181.0,63.0L180.9,63.5L180.8,63.8L180.5,64.2L180.2,64.5L180.0,64.7L179.8,65.0L179.5,65.2L179.2,65.5L179.0,65.7L178.8,65.9L178.5,66.1L178.2,66.3L178.0,66.5L177.7,66.8L177.4,67.0L177.2,67.2L176.9,67.5L176.6,67.8L176.4,68.0L176.1,68.2L175.9,68.5L175.7,68.8L175.5,69.1L175.3,69.5L175.1,69.8L175.0,70.0L174.7,70.2L174.5,70.5L174.2,70.8L173.8,71.0L173.5,71.1L173.0,71.2L172.6,71.2L172.2,71.3L171.8,71.4L171.5,71.5L171.0,71.7L170.8,71.9L170.5,72.1L170.2,72.3L170.0,72.5L169.7,72.8L169.4,73.0L169.0,73.2L168.8,73.4L168.3,73.5L168.1,73.5L167.8,73.4L167.2,73.3L167.0,73.2L166.5,73.0L166.2,72.9L165.8,72.9L165.2,73.0L165.0,73.0L164.5,73.2L164.0,73.2L163.8,73.3L163.2,73.3L163.0,73.2L162.5,73.2L162.0,73.1L161.5,73.1L161.0,73.2L160.8,73.3L160.2,73.5L160.0,73.6L159.6,73.8L159.2,73.9L159.0,74.1L158.7,74.2L158.4,74.5L158.2,74.8L158.0,75.0L157.8,75.5L157.7,75.8L157.5,76.2L157.3,76.5L157.1,76.8L156.9,77.0L156.6,77.2L156.2,77.5L156.0,77.5L155.5,77.6L155.2,77.5L154.8,77.3L154.5,77.2L154.2,77.0L153.9,76.8L153.5,76.5L153.3,76.2L153.0,76.0L152.8,75.8L152.6,75.5L152.4,75.2L152.1,75.0L151.8,74.8L151.5,74.7L151.0,74.6L150.5,74.8L150.3,75.0L150.1,75.2L150.0,75.6L149.9,76.0L149.8,76.5L149.8,76.8L149.5,77.2L149.3,77.5L149.1,77.8L148.8,78.0L148.5,78.0L148.4,77.8L148.3,77.2L148.2,77.0L148.0,76.6L147.8,76.3L147.5,76.1L147.2,75.8L147.0,75.6L146.8,75.2L146.7,75.0L146.5,74.5L146.4,74.2L146.2,73.8L146.1,73.5L145.8,73.2L145.6,73.0L145.2,72.8L145.0,72.7L144.5,72.7L144.2,72.8L143.8,72.9L143.5,73.1L143.1,73.2L142.8,73.3L142.4,73.2L142.0,73.0L141.8,72.8L141.7,72.5L141.4,72.2L141.2,72.0L140.8,71.8L140.5,71.7L140.0,71.7L139.8,72.0L139.7,72.2L139.8,72.6L139.8,73.0L139.9,73.5L139.9,74.0L139.9,74.5L139.8,75.0L139.8,75.4L139.7,75.8L139.7,76.2L139.7,76.8L139.8,77.0L139.9,77.5L140.0,77.8L140.2,78.2L140.4,78.5L140.5,78.8L140.6,79.2L140.5,79.5L140.2,80.0L140.1,80.2L140.0,80.5L139.8,81.0L139.7,81.2L139.6,81.8L139.6,82.2L139.6,82.8L139.7,83.2L139.7,83.8L139.8,84.0L139.8,84.5L139.7,84.8L139.6,85.2L139.5,85.8L139.5,86.0L139.4,86.5L139.4,87.0L139.4,87.5L139.5,88.0L139.6,88.2L139.8,88.6L140.0,88.9L140.2,89.1L140.5,89.4L140.7,89.8L140.8,90.0L140.8,90.5L140.8,90.9L140.6,91.2L140.4,91.5L140.1,91.8L139.8,92.0L139.5,92.2L139.2,92.4L139.0,92.6L138.7,92.8L138.5,93.0L138.2,93.2L138.0,93.5L137.8,93.8L137.5,94.2L137.2,94.5L137.1,94.8L136.9,95.0L136.7,95.2L136.5,95.5L136.2,95.8L136.0,96.1L135.8,96.5L135.6,96.8L135.5,97.0L135.3,97.5L135.2,97.8L135.0,98.2L134.9,98.5L134.7,98.8L134.5,99.1L134.2,99.4L134.0,99.7L133.8,99.9L133.5,100.1L133.2,100.4L133.0,100.6L132.8,100.9L132.5,101.1L132.2,101.4L132.0,101.6L131.8,101.9L131.5,102.1L131.2,102.3L131.0,102.5L130.7,102.8L130.3,103.0L130.0,103.2L129.8,103.3L129.4,103.5L129.0,103.7L128.8,103.8L128.2,104.0L128.0,104.0ZM160.8,81.8L160.2,81.9L159.8,81.8L159.5,81.6L159.3,81.2L159.3,80.8L159.5,80.3L159.7,80.0L159.9,79.8L160.2,79.5L160.5,79.2L160.8,79.1L161.0,79.0L161.5,78.9L161.8,79.1L161.9,79.5L162.0,80.0L161.9,80.5L161.8,80.8L161.5,81.2L161.3,81.5L161.0,81.7L160.8,81.8ZM148.8,85.3L148.2,85.4L147.8,85.4L147.2,85.3L146.9,85.2L146.5,85.1L146.2,84.9L146.0,84.7L145.8,84.5L145.5,84.2L145.2,83.9L145.0,83.7L144.5,83.5L144.2,83.4L143.8,83.4L143.2,83.3L143.0,83.2L142.8,82.9L142.7,82.5L142.6,82.0L142.6,81.5L142.7,81.0L142.8,80.6L143.0,80.3L143.2,80.1L143.8,80.2L144.0,80.3L144.5,80.5L144.8,80.6L145.2,80.7L145.5,80.8L145.9,80.8L146.2,80.7L146.8,80.6L147.1,80.8L147.3,81.0L147.4,81.5L147.5,82.0L147.6,82.2L147.8,82.6L148.0,82.9L148.2,83.1L148.5,83.3L149.0,83.4L149.5,83.5L149.8,83.5L150.2,83.5L150.7,83.8L150.5,84.2L150.2,84.5L150.0,84.7L149.8,84.8L149.5,85.0L149.0,85.2L148.8,85.3ZM127.2,103.6L126.8,103.6L126.2,103.7L125.8,103.6L125.4,103.5L125.0,103.4L124.7,103.2L124.2,103.0L124.0,102.9L123.8,102.7L123.4,102.5L123.1,102.2L122.8,102.0L122.5,101.8L122.2,101.7L122.0,101.5L121.5,101.3L121.2,101.1L121.0,101.0L120.5,100.8L120.2,100.6L120.0,100.5L119.7,100.2L119.4,100.0L119.1,99.8L118.8,99.5L118.5,99.2L118.3,99.0L118.1,98.8L118.0,98.5L117.8,98.1L117.5,97.8L117.3,97.5L117.2,97.2L117.0,96.9L116.8,96.5L116.6,96.2L116.5,96.0L116.3,95.5L116.1,95.2L116.0,94.9L115.8,94.5L115.7,94.2L115.5,93.8L115.5,93.5L115.3,93.0L115.2,92.8L115.0,92.3L114.9,92.0L114.8,91.7L114.6,91.2L114.5,90.9L114.4,90.5L114.3,90.0L114.2,89.8L114.1,89.2L114.0,88.8L114.0,88.5L113.8,88.0L113.8,87.7L113.6,87.2L113.5,86.8L113.5,86.5L113.4,86.0L113.3,85.5L113.3,85.0L113.2,84.8L113.1,84.2L113.0,83.8L112.9,83.5L112.8,83.0L112.8,82.7L112.6,82.2L112.6,81.8L112.5,81.3L112.4,81.0L112.4,80.5L112.3,80.0L112.3,79.5L112.2,79.2L112.2,78.8L112.1,78.2L112.0,77.8L112.0,77.5L111.9,77.0L111.8,76.5L111.7,76.2L111.7,75.8L111.7,75.2L111.8,74.8L111.8,74.5L111.8,74.0L111.9,73.5L111.9,73.0L112.0,72.5L112.0,72.2L112.1,71.8L112.1,71.2L112.2,70.8L112.2,70.3L112.3,70.0L112.3,69.5L112.3,69.0L112.4,68.5L112.4,68.0L112.5,67.5L112.5,67.2L112.6,66.8L112.7,66.2L112.8,66.0L112.9,65.5L113.0,65.0L113.0,64.8L113.1,64.2L113.1,63.8L113.2,63.2L113.2,62.8L113.2,62.2L113.3,62.0L113.4,61.5L113.5,61.2L113.6,60.8L113.8,60.5L113.9,60.0L114.0,59.8L114.2,59.2L114.3,59.0L114.5,58.5L114.6,58.2L114.8,58.0L115.0,57.6L115.2,57.2L115.4,57.0L115.6,56.8L115.8,56.5L116.0,56.1L116.2,55.8L116.3,55.5L116.5,55.0L116.6,54.8L116.8,54.3L116.9,54.0L117.0,53.7L117.2,53.3L117.4,53.0L117.6,52.8L117.8,52.5L118.0,52.2L118.3,52.0L118.5,51.8L118.8,51.5L119.0,51.2L119.3,51.0L119.6,50.8L120.0,50.5L120.2,50.3L120.5,50.2L121.0,50.1L121.4,50.0L121.8,49.9L122.2,49.8L122.5,49.7L123.0,49.5L123.2,49.4L123.7,49.2L124.0,49.1L124.3,49.0L124.8,48.9L125.2,48.9L125.8,48.9L126.2,48.9L126.8,48.9L127.2,48.9L127.6,49.0L128.0,49.1L128.5,49.2L128.8,49.4L129.0,49.5L129.4,49.8L129.8,49.9L130.0,50.1L130.4,50.2L130.8,50.4L131.0,50.5L131.4,50.8L131.8,50.9L132.0,51.0L132.3,51.2L132.7,51.5L132.9,51.8L133.2,52.0L133.3,52.2L133.5,52.5L133.8,52.9L133.9,53.2L134.1,53.5L134.3,53.8L134.5,54.1L134.8,54.4L135.0,54.7L135.2,55.0L135.5,55.2L135.8,55.5L136.0,55.6L136.5,55.6L137.0,55.5L137.2,55.4L137.8,55.3L138.0,55.2L138.4,55.0L138.8,54.9L139.2,54.8L139.5,54.7L140.0,54.6L140.5,54.5L140.8,54.5L141.2,54.4L141.8,54.3L142.2,54.2L142.5,54.2L143.0,54.2L143.5,54.2L144.0,54.2L144.5,54.1L144.8,54.0L145.2,53.8L145.5,53.5L145.7,53.2L145.9,53.0L146.2,52.8L146.5,52.5L146.8,52.4L147.1,52.2L147.5,52.2L147.8,52.2L148.2,52.3L148.8,52.4L149.2,52.4L149.8,52.4L150.2,52.3L150.8,52.3L151.0,52.2L151.5,52.1L151.8,52.0L152.2,51.8L152.5,51.8L153.0,51.6L153.5,51.6L154.0,51.6L154.5,51.7L155.0,51.7L155.3,51.8L155.8,51.8L156.2,51.8L156.8,51.8L157.2,51.8L157.8,51.8L158.2,51.8L158.5,51.7L159.0,51.7L159.5,51.6L160.0,51.6L160.5,51.7L160.8,51.8L161.2,51.9L161.5,52.1L161.9,52.2L162.2,52.4L162.5,52.5L163.0,52.7L163.4,52.8L163.8,52.8L164.2,52.8L164.8,52.8L165.0,52.7L165.5,52.7L166.0,52.7L166.5,52.7L167.0,52.7L167.5,52.8L167.8,52.8L168.2,52.9L168.6,53.0L169.0,53.1L169.3,53.2L169.8,53.5L170.0,53.6L170.5,53.7L170.8,53.8L171.2,53.8L171.5,53.7L172.0,53.7L172.5,53.7L173.0,53.7L173.2,53.8L173.8,54.0L174.0,54.1L174.2,54.3L174.5,54.5L174.9,54.8L175.2,55.0L175.5,55.2L175.8,55.3L176.0,55.5L176.4,55.8L176.8,55.9L177.0,56.1L177.3,56.2L177.6,56.5L177.8,56.8L178.0,57.0L178.2,57.5L178.2,58.0L178.2,58.5L178.1,59.0L178.0,59.2L177.9,59.8L177.8,60.2L177.9,60.8L178.0,61.1L178.2,61.4L178.5,61.7L178.8,61.9L179.0,62.1L179.2,62.3L179.5,62.7L179.6,63.0L179.5,63.5L179.3,63.8L179.2,64.0L178.9,64.2L178.7,64.5L178.4,64.8L178.1,65.0L177.8,65.2L177.5,65.5L177.2,65.7L177.0,65.9L176.8,66.1L176.5,66.4L176.2,66.6L176.0,66.8L175.8,67.1L175.5,67.3L175.2,67.5L175.0,67.8L174.8,68.0L174.5,68.3L174.2,68.6L174.0,68.9L173.8,69.2L173.5,69.4L173.2,69.6L173.0,69.8L172.5,69.9L172.0,70.0L171.8,70.0L171.2,70.2L171.0,70.3L170.6,70.5L170.2,70.7L170.0,70.8L169.7,71.0L169.2,71.2L169.0,71.3L168.5,71.5L168.2,71.5L167.8,71.5L167.5,71.5L167.0,71.4L166.5,71.4L166.0,71.3L165.5,71.3L165.0,71.4L164.7,71.5L164.2,71.6L163.8,71.8L163.5,71.8L163.0,71.9L162.5,71.9L162.0,71.9L161.5,71.9L161.1,72.0L160.8,72.1L160.2,72.2L159.9,72.2L159.5,72.4L159.0,72.5L158.8,72.5L158.2,72.6L157.8,72.6L157.2,72.5L157.0,72.4L156.5,72.3L156.2,72.2L155.9,72.0L155.5,71.8L155.2,71.7L154.8,71.6L154.2,71.7L154.0,71.8L153.5,72.0L153.2,72.1L152.9,72.2L152.5,72.4L152.0,72.4L151.5,72.4L151.0,72.4L150.5,72.3L150.0,72.3L149.8,72.2L149.2,72.1L148.8,72.0L148.5,72.0L148.0,71.8L147.8,71.7L147.4,71.5L147.0,71.2L146.8,71.0L146.5,70.8L146.2,70.6L146.0,70.4L145.7,70.2L145.2,70.1L145.0,70.0L144.5,69.9L144.0,69.9L143.5,69.9L143.0,69.9L142.5,69.8L142.2,69.7L141.8,69.6L141.4,69.5L141.0,69.3L140.8,69.2L140.4,69.0L140.1,68.8L139.8,68.5L139.6,68.2L139.2,68.0L139.0,67.9L138.5,67.8L138.3,68.2L138.3,68.8L138.3,69.2L138.4,69.8L138.4,70.2L138.5,70.6L138.6,71.0L138.6,71.5L138.7,72.0L138.8,72.2L138.8,72.8L138.9,73.2L139.0,73.8L139.0,74.2L139.0,74.8L138.9,75.2L138.9,75.8L138.8,76.2L138.8,76.8L138.8,77.2L138.9,77.8L139.0,78.2L139.0,78.5L139.1,79.0L139.0,79.5L139.0,79.8L138.9,80.2L138.8,80.8L138.7,81.0L138.7,81.5L138.6,82.0L138.6,82.5L138.6,83.0L138.7,83.5L138.7,84.0L138.7,84.5L138.6,85.0L138.5,85.5L138.5,85.8L138.4,86.2L138.3,86.8L138.2,87.0L138.1,87.5L138.0,87.8L137.8,88.2L137.7,88.5L137.6,89.0L137.5,89.3L137.4,89.8L137.3,90.2L137.2,90.7L137.2,91.0L137.1,91.5L137.0,91.8L136.9,92.2L136.8,92.5L136.6,93.0L136.4,93.2L136.2,93.7L136.1,94.0L136.0,94.2L135.8,94.6L135.5,95.0L135.4,95.2L135.2,95.5L135.0,96.0L134.9,96.2L134.7,96.5L134.5,97.0L134.4,97.2L134.2,97.6L134.0,98.0L133.9,98.2L133.8,98.5L133.5,98.9L133.2,99.2L133.0,99.5L132.8,99.7L132.5,100.0L132.3,100.2L132.1,100.5L131.8,100.8L131.6,101.0L131.3,101.2L131.0,101.5L130.8,101.7L130.5,101.9L130.2,102.1L130.0,102.2L129.6,102.5L129.2,102.7L129.0,102.9L128.7,103.0L128.2,103.2L128.0,103.3L127.5,103.5L127.2,103.6ZM126.5,103.0L126.0,103.0L125.8,103.0L125.2,102.9L125.0,102.8L124.5,102.5L124.2,102.3L124.0,102.2L123.8,102.0L123.5,101.8L123.2,101.5L122.8,101.2L122.5,101.0L122.2,100.9L121.9,100.8L121.5,100.6L121.2,100.5L120.8,100.3L120.5,100.2L120.2,100.0L119.8,99.8L119.5,99.5L119.2,99.3L119.0,99.1L118.8,98.9L118.5,98.5L118.3,98.2L118.2,98.0L118.0,97.8L117.8,97.4L117.5,97.0L117.4,96.8L117.2,96.5L117.0,96.0L116.9,95.8L116.8,95.4L116.6,95.0L116.5,94.8L116.3,94.2L116.2,94.0L116.0,93.6L115.9,93.2L115.8,92.9L115.6,92.5L115.5,92.2L115.3,91.8L115.2,91.5L115.1,91.0L115.0,90.6L114.9,90.2L114.8,89.8L114.7,89.5L114.6,89.0L114.5,88.6L114.4,88.2L114.3,87.8L114.2,87.5L114.1,87.0L114.0,86.7L113.9,86.2L113.8,85.8L113.8,85.4L113.7,85.0L113.6,84.5L113.5,84.1L113.4,83.8L113.3,83.2L113.2,83.0L113.1,82.5L113.0,82.0L113.0,81.8L112.9,81.2L112.8,80.8L112.8,80.2L112.8,80.0L112.7,79.5L112.6,79.0L112.6,78.5L112.5,78.1L112.4,77.8L112.3,77.2L112.2,76.8L112.2,76.5L112.2,76.0L112.2,75.5L112.2,75.0L112.2,74.6L112.3,74.2L112.3,73.8L112.4,73.2L112.4,72.8L112.5,72.2L112.5,72.0L112.6,71.5L112.7,71.0L112.7,70.5L112.8,70.2L112.8,69.8L112.9,69.2L112.9,68.8L112.9,68.2L113.0,67.8L113.0,67.5L113.1,67.0L113.2,66.5L113.3,66.2L113.4,65.8L113.5,65.4L113.6,65.0L113.7,64.5L113.7,64.0L113.8,63.8L113.8,63.2L113.9,62.8L113.9,62.2L114.0,61.9L114.1,61.5L114.2,61.0L114.3,60.8L114.5,60.2L114.6,60.0L114.7,59.5L114.8,59.2L115.0,58.8L115.2,58.5L115.3,58.2L115.5,57.9L115.8,57.5L115.9,57.2L116.1,57.0L116.3,56.8L116.5,56.3L116.7,56.0L116.8,55.8L117.0,55.2L117.1,55.0L117.2,54.6L117.4,54.2L117.5,54.0L117.8,53.5L117.9,53.2L118.1,53.0L118.3,52.8L118.6,52.5L118.8,52.2L119.1,52.0L119.4,51.8L119.7,51.5L120.0,51.3L120.2,51.2L120.6,51.0L121.0,50.8L121.2,50.7L121.8,50.6L122.1,50.5L122.5,50.4L122.9,50.2L123.2,50.1L123.7,50.0L124.0,49.9L124.5,49.8L124.8,49.7L125.2,49.7L125.8,49.7L126.1,49.8L126.5,49.8L127.0,49.9L127.4,50.0L127.8,50.1L128.0,50.2L128.5,50.5L128.8,50.6L129.1,50.8L129.5,50.9L129.8,51.0L130.2,51.2L130.5,51.3L131.0,51.5L131.2,51.6L131.6,51.8L132.0,52.0L132.2,52.2L132.5,52.5L132.7,52.8L132.9,53.0L133.0,53.2L133.2,53.6L133.5,54.0L133.7,54.2L133.9,54.5L134.1,54.8L134.3,55.0L134.5,55.2L134.8,55.6L135.0,55.9L135.2,56.2L135.4,56.5L135.6,56.8L135.8,57.0L136.0,57.4L136.5,57.4L137.0,57.3L137.2,57.2L137.8,57.1L138.1,57.0L138.5,56.9L138.9,56.8L139.2,56.7L139.8,56.6L140.2,56.7L140.7,56.8L141.0,56.8L141.5,57.0L141.8,57.0L142.2,57.1L142.8,57.0L143.0,57.0L143.5,56.8L143.8,56.7L144.0,56.5L144.4,56.2L144.7,56.0L145.0,55.8L145.2,55.6L145.5,55.4L145.8,55.2L146.0,54.9L146.2,54.7L146.5,54.4L146.8,54.1L147.0,53.9L147.2,53.7L147.8,53.5L148.0,53.5L148.5,53.5L149.0,53.4L149.5,53.4L150.0,53.3L150.5,53.3L151.0,53.3L151.5,53.2L151.8,53.2L152.2,53.1L152.8,53.0L153.0,53.0L153.5,52.9L154.0,52.9L154.5,52.9L155.0,52.9L155.5,52.9L156.0,53.0L156.5,53.0L157.0,53.0L157.5,52.9L158.0,52.8L158.2,52.7L158.8,52.6L159.2,52.5L159.5,52.5L159.9,52.5L160.2,52.6L160.8,52.7L161.0,52.9L161.3,53.0L161.7,53.2L162.0,53.4L162.4,53.5L162.8,53.6L163.2,53.7L163.8,53.7L164.2,53.7L164.8,53.7L165.2,53.7L165.8,53.7L166.0,53.8L166.5,53.8L167.0,53.9L167.5,53.9L167.8,54.0L168.2,54.1L168.6,54.2L169.0,54.5L169.2,54.7L169.5,54.8L169.8,55.0L170.2,55.2L170.5,55.4L171.0,55.4L171.5,55.3L171.8,55.2L172.2,55.1L172.8,55.1L173.2,55.1L173.6,55.2L174.0,55.5L174.2,55.6L174.5,55.8L174.8,56.0L175.1,56.2L175.4,56.5L175.8,56.7L176.0,56.9L176.2,57.2L176.5,57.5L176.7,57.8L176.8,58.0L176.8,58.5L176.7,58.8L176.6,59.2L176.5,59.7L176.4,60.0L176.4,60.5L176.3,61.0L176.4,61.5L176.5,61.8L176.7,62.2L176.8,62.5L177.0,62.9L177.0,63.2L176.9,63.5L176.6,63.8L176.3,64.0L176.0,64.2L175.8,64.4L175.5,64.8L175.3,65.0L175.2,65.2L175.0,65.6L174.8,66.0L174.5,66.2L174.3,66.5L174.1,66.8L173.8,67.0L173.5,67.2L173.2,67.4L173.0,67.6L172.7,67.8L172.2,67.9L171.9,68.0L171.5,68.1L171.1,68.2L170.8,68.4L170.5,68.6L170.2,68.8L170.0,69.1L169.8,69.3L169.5,69.6L169.2,69.8L168.9,70.0L168.5,70.2L168.2,70.3L167.8,70.4L167.2,70.4L166.8,70.3L166.3,70.2L166.0,70.2L165.5,70.1L165.0,70.1L164.5,70.0L164.0,70.1L163.6,70.2L163.2,70.4L163.0,70.5L162.5,70.7L162.2,70.8L161.8,70.9L161.2,71.0L161.0,71.0L160.5,71.1L160.0,71.2L159.8,71.3L159.2,71.4L158.8,71.4L158.2,71.4L157.8,71.3L157.5,71.2L157.0,71.0L156.8,70.9L156.4,70.8L156.0,70.6L155.8,70.5L155.2,70.3L154.8,70.3L154.2,70.3L153.8,70.4L153.2,70.5L153.0,70.6L152.5,70.7L152.2,70.8L151.8,70.8L151.2,70.8L150.8,70.8L150.5,70.7L150.0,70.6L149.6,70.5L149.2,70.4L148.8,70.3L148.5,70.2L148.1,70.0L147.8,69.8L147.5,69.6L147.2,69.5L146.8,69.2L146.5,69.1L146.2,68.9L145.9,68.8L145.5,68.6L145.2,68.5L144.8,68.3L144.5,68.2L144.0,68.0L143.8,67.9L143.2,67.8L143.0,67.8L142.5,67.6L142.2,67.5L141.8,67.3L141.5,67.2L141.2,67.0L140.8,66.8L140.5,66.5L140.2,66.3L140.0,66.2L139.8,66.0L139.3,65.8L139.0,65.6L138.8,65.5L138.4,65.2L138.1,65.0L137.9,64.8L137.8,64.4L137.6,64.0L137.5,63.8L137.3,63.2L137.1,63.2L137.1,63.8L137.2,64.2L137.2,64.6L137.4,65.0L137.5,65.5L137.5,65.8L137.6,66.2L137.6,66.8L137.6,67.2L137.6,67.8L137.6,68.2L137.6,68.8L137.5,69.2L137.6,69.8L137.6,70.2L137.7,70.8L137.8,71.1L137.8,71.5L138.0,72.0L138.0,72.2L138.1,72.8L138.2,73.2L138.3,73.5L138.3,74.0L138.3,74.5L138.3,75.0L138.3,75.5L138.3,76.0L138.2,76.2L138.2,76.8L138.2,77.2L138.2,77.8L138.2,78.2L138.3,78.5L138.3,79.0L138.2,79.3L138.2,79.8L138.1,80.2L138.1,80.8L138.0,81.2L138.0,81.5L137.9,82.0L137.9,82.5L137.9,83.0L137.9,83.5L137.9,84.0L137.9,84.5L137.9,85.0L137.8,85.5L137.8,85.8L137.6,86.2L137.5,86.7L137.4,87.0L137.2,87.4L137.1,87.8L137.0,88.1L136.9,88.5L136.8,88.8L136.6,89.2L136.5,89.8L136.5,90.0L136.3,90.5L136.2,90.8L136.1,91.2L136.0,91.6L135.8,92.0L135.7,92.2L135.5,92.7L135.4,93.0L135.2,93.3L135.1,93.8L135.0,94.0L134.8,94.5L134.7,94.8L134.5,95.2L134.3,95.5L134.2,95.8L134.0,96.2L133.8,96.5L133.7,96.8L133.5,97.1L133.3,97.5L133.1,97.8L133.0,98.0L132.8,98.3L132.5,98.7L132.3,99.0L132.1,99.2L131.9,99.5L131.7,99.8L131.5,100.0L131.2,100.3L131.0,100.6L130.8,100.8L130.5,101.0L130.1,101.2L129.8,101.5L129.5,101.6L129.2,101.8L128.9,102.0L128.5,102.2L128.2,102.4L128.0,102.6L127.6,102.8L127.2,102.9L126.8,103.0L126.5,103.0ZM126.8,102.3L126.2,102.3L125.8,102.3L125.5,102.2L125.0,102.0L124.8,101.9L124.5,101.7L124.2,101.5L123.9,101.2L123.6,101.0L123.3,100.8L123.0,100.6L122.8,100.4L122.4,100.2L122.0,100.1L121.7,100.0L121.2,99.8L121.0,99.8L120.5,99.5L120.2,99.4L120.0,99.2L119.7,99.0L119.4,98.8L119.1,98.5L118.9,98.2L118.7,98.0L118.5,97.7L118.2,97.3L118.1,97.0L117.9,96.8L117.8,96.4L117.6,96.0L117.4,95.8L117.2,95.3L117.1,95.0L117.0,94.7L116.8,94.2L116.7,94.0L116.5,93.5L116.4,93.2L116.2,92.8L116.1,92.5L116.0,92.2L115.8,91.8L115.8,91.4L115.6,91.0L115.5,90.5L115.4,90.2L115.3,89.8L115.2,89.4L115.1,89.0L115.0,88.5L114.9,88.2L114.8,87.8L114.7,87.5L114.6,87.0L114.5,86.8L114.4,86.2L114.3,85.8L114.2,85.5L114.1,85.0L114.0,84.5L114.0,84.2L113.8,83.8L113.8,83.4L113.7,83.0L113.5,82.5L113.5,82.2L113.4,81.8L113.3,81.2L113.3,80.8L113.2,80.5L113.2,80.0L113.1,79.5L113.0,79.0L113.0,78.6L113.0,78.2L112.9,77.8L112.8,77.2L112.7,77.0L112.7,76.5L112.6,76.0L112.6,75.5L112.7,75.0L112.7,74.5L112.8,74.2L112.8,73.8L112.9,73.2L112.9,72.8L113.0,72.2L113.0,72.0L113.1,71.5L113.2,71.0L113.2,70.5L113.3,70.2L113.4,69.8L113.4,69.2L113.4,68.8L113.5,68.2L113.5,67.8L113.5,67.5L113.6,67.0L113.7,66.5L113.8,66.2L113.9,65.8L114.0,65.5L114.1,65.0L114.2,64.5L114.3,64.2L114.3,63.8L114.4,63.2L114.5,62.8L114.5,62.5L114.6,62.0L114.7,61.5L114.8,61.2L114.9,60.8L115.0,60.5L115.2,60.0L115.3,59.8L115.5,59.2L115.6,59.0L115.8,58.6L116.0,58.2L116.1,58.0L116.3,57.8L116.5,57.4L116.7,57.0L116.9,56.8L117.0,56.5L117.2,56.0L117.4,55.8L117.5,55.4L117.7,55.0L117.8,54.8L118.0,54.2L118.1,54.0L118.3,53.8L118.5,53.4L118.8,53.1L119.0,52.9L119.2,52.7L119.5,52.5L119.8,52.2L120.2,52.0L120.5,51.8L120.8,51.7L121.1,51.5L121.5,51.4L121.9,51.2L122.2,51.1L122.6,51.0L123.0,50.9L123.4,50.8L123.8,50.6L124.2,50.5L124.5,50.5L125.0,50.4L125.5,50.5L125.8,50.5L126.2,50.7L126.5,50.8L127.0,50.9L127.2,51.0L127.8,51.2L128.0,51.3L128.5,51.5L128.8,51.6L129.2,51.7L129.5,51.8L130.0,51.9L130.2,52.0L130.8,52.2L131.0,52.3L131.3,52.5L131.6,52.8L131.8,53.0L132.1,53.2L132.2,53.5L132.5,53.8L132.8,54.2L133.0,54.5L133.2,54.8L133.4,55.0L133.6,55.2L133.8,55.5L134.0,55.8L134.2,56.1L134.5,56.5L134.6,56.8L134.8,57.0L135.0,57.5L135.0,57.8L135.2,58.2L135.3,58.5L135.4,59.0L135.5,59.4L135.6,59.8L135.7,60.2L135.8,60.6L135.8,61.0L135.9,61.5L136.0,62.0L136.0,62.2L136.1,62.8L136.1,63.2L136.2,63.8L136.2,64.1L136.4,64.5L136.5,65.0L136.6,65.2L136.7,65.8L136.8,66.0L136.9,66.5L137.0,67.0L137.0,67.2L137.0,67.8L137.0,68.2L137.0,68.6L137.0,69.0L136.9,69.5L136.9,70.0L136.9,70.5L137.0,70.9L137.1,71.2L137.2,71.8L137.3,72.0L137.4,72.5L137.5,72.8L137.6,73.2L137.7,73.8L137.8,74.1L137.8,74.5L137.8,75.0L137.8,75.5L137.8,76.0L137.7,76.2L137.7,76.8L137.7,77.2L137.7,77.8L137.6,78.2L137.6,78.8L137.6,79.2L137.6,79.8L137.5,80.2L137.5,80.5L137.4,81.0L137.4,81.5L137.3,82.0L137.3,82.5L137.3,83.0L137.3,83.5L137.3,84.0L137.3,84.5L137.3,85.0L137.2,85.2L137.1,85.8L137.0,86.2L136.9,86.5L136.8,86.9L136.6,87.2L136.5,87.6L136.4,88.0L136.2,88.3L136.1,88.8L136.0,89.2L135.9,89.5L135.8,90.0L135.7,90.2L135.5,90.8L135.4,91.0L135.2,91.4L135.1,91.8L134.9,92.0L134.8,92.3L134.6,92.8L134.5,93.0L134.3,93.5L134.2,93.8L134.0,94.2L134.0,94.5L133.8,95.0L133.6,95.2L133.5,95.5L133.2,95.9L133.1,96.2L132.9,96.5L132.7,96.8L132.5,97.1L132.3,97.5L132.1,97.8L132.0,98.0L131.8,98.4L131.5,98.8L131.4,99.0L131.2,99.2L131.0,99.5L130.8,99.8L130.5,100.1L130.2,100.3L129.9,100.5L129.5,100.7L129.2,100.8L129.0,101.0L128.6,101.2L128.2,101.5L128.0,101.7L127.8,101.8L127.5,102.0L127.0,102.2L126.8,102.3ZM159.2,70.3L158.8,70.3L158.4,70.2L158.0,70.2L157.5,70.0L157.2,69.9L156.9,69.8L156.5,69.6L156.2,69.5L155.8,69.3L155.4,69.2L155.0,69.2L154.5,69.2L154.0,69.2L153.5,69.2L153.0,69.2L152.5,69.2L152.0,69.1L151.5,69.1L151.2,69.0L150.8,68.9L150.2,68.8L149.9,68.8L149.5,68.7L149.0,68.6L148.7,68.5L148.2,68.4L147.9,68.2L147.5,68.1L147.2,68.0L146.8,67.8L146.5,67.7L146.0,67.5L145.8,67.4L145.5,67.2L145.0,67.0L144.8,66.9L144.4,66.8L144.0,66.6L143.7,66.5L143.2,66.3L143.0,66.2L142.5,66.0L142.2,65.9L142.0,65.8L141.6,65.5L141.3,65.2L141.1,65.0L140.8,64.8L140.6,64.5L140.4,64.2L140.2,64.0L140.0,63.7L139.8,63.3L139.6,63.0L139.5,62.8L139.3,62.2L139.3,61.8L139.3,61.2L139.4,60.8L139.5,60.5L139.8,60.0L140.0,59.8L140.2,59.6L140.5,59.5L141.0,59.3L141.3,59.2L141.8,59.2L142.2,59.1L142.5,59.0L143.0,58.9L143.3,58.8L143.8,58.6L144.0,58.4L144.3,58.2L144.7,58.0L145.0,57.8L145.2,57.5L145.5,57.3L145.8,57.0L146.0,56.8L146.2,56.6L146.5,56.4L146.8,56.1L147.0,55.9L147.2,55.7L147.5,55.5L147.8,55.2L148.2,55.0L148.5,54.8L148.8,54.7L149.2,54.6L149.7,54.5L150.0,54.5L150.3,54.5L150.8,54.6L151.1,54.8L151.5,54.9L151.8,55.1L152.2,55.2L152.8,55.2L153.2,55.0L153.5,54.9L153.8,54.8L154.2,54.6L154.8,54.6L155.2,54.6L155.8,54.7L156.2,54.7L156.8,54.7L157.2,54.5L157.5,54.4L157.9,54.2L158.2,54.1L158.5,53.9L158.9,53.8L159.2,53.7L159.8,53.6L160.2,53.7L160.5,53.8L161.0,54.0L161.2,54.1L161.5,54.2L162.0,54.4L162.4,54.5L162.8,54.6L163.2,54.6L163.8,54.7L164.2,54.7L164.5,54.8L165.0,54.9L165.3,55.0L165.8,55.2L166.0,55.3L166.5,55.4L166.8,55.5L167.2,55.6L167.6,55.8L168.0,55.9L168.2,56.1L168.5,56.3L168.8,56.5L169.0,56.8L169.2,57.1L169.5,57.4L169.8,57.7L170.0,58.0L170.1,58.2L170.1,58.8L170.0,59.0L169.8,59.5L169.7,59.8L169.6,60.2L169.6,60.8L169.7,61.2L169.9,61.5L170.2,61.7L170.5,61.8L170.8,61.7L171.1,61.5L171.3,61.2L171.5,61.0L171.8,60.7L172.0,60.4L172.2,60.2L172.8,60.1L173.2,60.2L173.5,60.5L173.6,60.8L173.5,61.2L173.4,61.5L173.2,61.9L173.1,62.2L172.9,62.5L172.8,63.0L172.8,63.5L172.9,64.0L173.0,64.5L173.0,64.8L173.0,65.0L172.8,65.5L172.6,65.8L172.3,66.0L172.0,66.2L171.6,66.2L171.2,66.3L170.8,66.3L170.5,66.2L170.0,66.1L169.5,66.1L169.2,66.2L169.0,66.6L168.9,67.0L168.9,67.5L168.8,68.0L168.7,68.2L168.5,68.6L168.2,68.9L168.0,69.1L167.5,69.2L167.2,69.3L167.0,69.2L166.5,69.1L166.2,69.0L165.8,68.8L165.5,68.6L165.2,68.4L165.0,68.1L164.8,67.9L164.4,67.8L164.0,67.6L163.5,67.6L163.2,67.8L162.8,68.0L162.5,68.2L162.2,68.5L162.0,68.7L161.8,69.0L161.5,69.2L161.2,69.4L161.0,69.6L160.8,69.8L160.3,70.0L160.0,70.1L159.5,70.2L159.2,70.3ZM126.8,101.3L126.2,101.5L125.8,101.5L125.2,101.3L125.0,101.2L124.7,101.0L124.4,100.8L124.0,100.5L123.8,100.3L123.5,100.1L123.2,100.0L122.8,99.8L122.5,99.6L122.1,99.5L121.8,99.4L121.4,99.2L121.0,99.1L120.7,99.0L120.3,98.8L120.0,98.6L119.8,98.4L119.5,98.1L119.2,97.9L119.0,97.5L118.8,97.2L118.7,97.0L118.5,96.7L118.3,96.2L118.2,96.0L118.0,95.6L117.8,95.2L117.7,95.0L117.5,94.5L117.4,94.2L117.2,93.8L117.1,93.5L117.0,93.2L116.8,92.8L116.7,92.5L116.5,92.1L116.4,91.8L116.2,91.4L116.1,91.0L116.0,90.5L116.0,90.2L115.9,89.8L115.8,89.3L115.7,89.0L115.5,88.5L115.5,88.2L115.3,87.8L115.2,87.5L115.1,87.0L115.0,86.8L114.9,86.2L114.8,85.8L114.7,85.5L114.6,85.0L114.5,84.7L114.4,84.2L114.3,83.8L114.2,83.5L114.1,83.0L114.0,82.5L113.9,82.2L113.8,81.8L113.8,81.2L113.7,81.0L113.7,80.5L113.6,80.0L113.6,79.5L113.5,79.0L113.5,78.8L113.4,78.2L113.4,77.8L113.3,77.2L113.2,77.0L113.1,76.5L113.1,76.0L113.1,75.5L113.1,75.0L113.2,74.5L113.2,74.2L113.3,73.8L113.3,73.2L113.4,72.8L113.4,72.2L113.5,71.9L113.6,71.5L113.7,71.0L113.8,70.6L113.8,70.2L113.9,69.8L113.9,69.2L114.0,68.8L114.0,68.2L114.0,68.0L114.1,67.5L114.1,67.0L114.2,66.5L114.3,66.2L114.4,65.8L114.5,65.5L114.6,65.0L114.7,64.5L114.8,64.2L114.9,63.8L115.0,63.2L115.0,63.0L115.1,62.5L115.2,62.0L115.3,61.8L115.4,61.2L115.5,60.8L115.6,60.5L115.8,60.1L115.9,59.8L116.0,59.5L116.2,59.0L116.3,58.8L116.5,58.4L116.8,58.0L116.9,57.8L117.0,57.5L117.2,57.1L117.5,56.8L117.6,56.5L117.8,56.2L117.9,55.8L118.0,55.5L118.2,55.0L118.3,54.8L118.5,54.5L118.8,54.0L119.0,53.8L119.2,53.5L119.5,53.3L119.8,53.1L120.0,52.9L120.2,52.7L120.6,52.5L121.0,52.3L121.2,52.2L121.7,52.0L122.0,51.9L122.3,51.8L122.8,51.6L123.0,51.5L123.5,51.3L123.9,51.2L124.2,51.2L124.8,51.1L125.2,51.2L125.5,51.3L126.0,51.5L126.2,51.5L126.8,51.7L127.0,51.8L127.5,52.0L127.8,52.0L128.2,52.2L128.5,52.2L129.0,52.4L129.4,52.5L129.8,52.6L130.1,52.8L130.5,53.0L130.8,53.1L131.0,53.3L131.2,53.5L131.5,53.8L131.8,54.1L132.0,54.4L132.2,54.7L132.5,55.0L132.7,55.2L132.9,55.5L133.1,55.8L133.3,56.0L133.5,56.3L133.7,56.8L133.9,57.0L134.0,57.4L134.1,57.8L134.2,58.1L134.4,58.5L134.5,59.0L134.6,59.2L134.8,59.7L134.8,60.0L135.0,60.5L135.1,60.8L135.2,61.2L135.2,61.6L135.3,62.0L135.4,62.5L135.4,63.0L135.5,63.5L135.5,63.8L135.6,64.2L135.7,64.8L135.8,65.0L136.0,65.5L136.1,65.8L136.2,66.2L136.3,66.5L136.5,67.0L136.5,67.3L136.5,67.8L136.5,68.2L136.5,68.6L136.5,69.0L136.4,69.5L136.4,70.0L136.3,70.5L136.4,71.0L136.5,71.5L136.6,71.8L136.7,72.2L136.8,72.5L136.9,73.0L137.0,73.2L137.1,73.8L137.2,74.2L137.3,74.5L137.3,75.0L137.3,75.5L137.3,76.0L137.3,76.5L137.2,76.8L137.2,77.2L137.1,77.8L137.1,78.2L137.1,78.8L137.1,79.2L137.0,79.8L137.0,80.0L136.9,80.5L136.9,81.0L136.8,81.5L136.8,82.0L136.8,82.5L136.8,83.0L136.8,83.5L136.8,84.0L136.8,84.3L136.7,84.8L136.6,85.2L136.5,85.8L136.4,86.0L136.2,86.5L136.2,86.8L136.0,87.2L135.9,87.5L135.8,88.0L135.7,88.2L135.6,88.8L135.5,89.0L135.3,89.5L135.2,89.8L135.1,90.2L135.0,90.5L134.8,90.9L134.5,91.2L134.4,91.5L134.2,91.8L134.0,92.2L133.9,92.5L133.8,92.8L133.6,93.2L133.5,93.6L133.4,94.0L133.2,94.3L133.1,94.8L133.0,95.0L132.8,95.4L132.5,95.8L132.4,96.0L132.2,96.2L132.0,96.5L131.8,96.9L131.5,97.2L131.4,97.5L131.2,97.8L131.0,98.2L130.8,98.5L130.7,98.8L130.5,99.0L130.2,99.3L130.0,99.5L129.6,99.8L129.2,100.0L129.0,100.1L128.7,100.2L128.2,100.5L128.0,100.6L127.8,100.8L127.4,101.0L127.0,101.2L126.8,101.3ZM158.8,69.0L158.5,69.0L158.0,68.9L157.5,68.8L157.2,68.7L156.8,68.5L156.5,68.4L156.0,68.3L155.7,68.2L155.2,68.2L154.8,68.1L154.3,68.0L154.0,67.9L153.5,67.8L153.2,67.7L152.8,67.5L152.5,67.4L152.0,67.2L151.8,67.2L151.2,67.1L151.0,67.0L150.5,66.9L150.0,66.9L149.5,66.8L149.0,66.8L148.7,66.8L148.2,66.7L147.8,66.6L147.3,66.5L147.0,66.4L146.7,66.2L146.3,66.0L146.0,65.8L145.8,65.7L145.5,65.5L145.2,65.2L144.8,65.0L144.5,64.8L144.2,64.5L144.0,64.3L143.8,64.1L143.5,64.0L143.2,63.8L142.8,63.5L142.5,63.3L142.2,63.2L142.0,63.0L141.8,62.7L141.5,62.4L141.4,62.0L141.4,61.5L141.5,61.2L141.8,60.9L142.0,60.7L142.4,60.5L142.8,60.3L143.0,60.2L143.5,60.0L143.8,59.9L144.0,59.7L144.4,59.5L144.8,59.3L145.0,59.1L145.2,59.0L145.6,58.8L146.0,58.5L146.2,58.3L146.5,58.2L146.8,58.0L147.2,57.8L147.5,57.6L147.8,57.5L148.2,57.2L148.5,57.1L148.9,57.0L149.2,56.9L149.8,56.9L150.0,57.0L150.5,57.2L150.8,57.3L151.2,57.4L151.8,57.4L152.2,57.3L152.5,57.2L152.8,57.0L153.2,56.8L153.5,56.6L153.9,56.5L154.2,56.4L154.8,56.4L155.0,56.5L155.5,56.7L155.8,56.8L156.2,57.0L156.5,57.0L156.8,57.0L157.2,56.8L157.5,56.6L157.8,56.3L158.0,56.1L158.2,55.8L158.5,55.6L158.8,55.4L159.0,55.2L159.5,55.1L160.0,55.0L160.5,55.2L160.8,55.2L161.2,55.4L161.5,55.5L162.0,55.7L162.2,55.8L162.8,56.0L163.0,56.1L163.2,56.3L163.5,56.5L163.8,56.9L164.0,57.2L164.2,57.4L164.5,57.5L165.0,57.7L165.5,57.7L166.0,57.7L166.5,57.7L166.8,57.8L167.1,58.0L167.3,58.2L167.5,58.5L167.7,59.0L167.8,59.2L167.9,59.8L167.9,60.2L167.9,60.8L167.9,61.2L167.8,61.8L167.8,62.1L167.6,62.5L167.5,62.8L167.3,63.2L167.2,63.5L167.0,63.8L166.8,64.2L166.6,64.5L166.4,64.8L166.2,65.0L165.8,65.1L165.4,65.0L165.1,64.8L164.8,64.5L164.5,64.2L164.2,64.1L164.0,63.9L163.5,63.8L163.0,63.8L162.7,64.0L162.5,64.2L162.3,64.8L162.2,65.2L162.2,65.5L162.1,66.0L162.0,66.2L161.8,66.7L161.6,67.0L161.4,67.2L161.1,67.5L160.9,67.8L160.6,68.0L160.3,68.2L160.0,68.5L159.8,68.7L159.5,68.8L159.0,69.0L158.8,69.0ZM126.5,100.3L126.0,100.4L125.5,100.4L125.2,100.2L124.8,100.0L124.5,99.9L124.2,99.8L123.8,99.5L123.5,99.4L123.2,99.2L122.8,99.1L122.5,99.0L122.0,98.8L121.8,98.7L121.2,98.6L121.0,98.5L120.6,98.2L120.2,98.0L120.0,97.8L119.8,97.6L119.5,97.3L119.3,97.0L119.2,96.8L119.0,96.4L118.8,96.0L118.7,95.8L118.6,95.2L118.5,95.0L118.3,94.5L118.1,94.2L118.0,93.9L117.8,93.5L117.6,93.2L117.5,93.0L117.3,92.5L117.2,92.2L117.0,91.9L116.9,91.5L116.8,91.1L116.6,90.8L116.5,90.2L116.5,90.0L116.4,89.5L116.2,89.1L116.2,88.8L116.0,88.2L115.9,88.0L115.8,87.5L115.7,87.2L115.5,86.8L115.4,86.5L115.3,86.0L115.2,85.8L115.1,85.2L115.0,84.8L115.0,84.5L114.8,84.0L114.8,83.6L114.7,83.2L114.5,82.8L114.5,82.5L114.4,82.0L114.3,81.5L114.2,81.2L114.2,80.8L114.1,80.2L114.0,79.8L114.0,79.2L114.0,79.0L114.0,78.5L113.9,78.0L113.9,77.5L113.8,77.0L113.8,76.7L113.7,76.2L113.6,75.8L113.7,75.2L113.7,74.8L113.8,74.5L113.8,74.0L113.9,73.5L113.9,73.0L113.9,72.5L114.0,72.0L114.0,71.8L114.1,71.2L114.2,70.8L114.3,70.5L114.4,70.0L114.4,69.5L114.5,69.0L114.5,68.7L114.5,68.2L114.6,67.8L114.6,67.2L114.7,66.8L114.8,66.5L114.9,66.0L115.0,65.5L115.1,65.2L115.2,64.8L115.3,64.5L115.4,64.0L115.5,63.5L115.6,63.2L115.7,62.8L115.8,62.4L115.8,62.0L115.9,61.5L116.0,61.2L116.2,60.8L116.3,60.5L116.4,60.0L116.5,59.8L116.8,59.3L116.9,59.0L117.0,58.7L117.2,58.2L117.4,58.0L117.5,57.8L117.8,57.3L117.9,57.0L118.0,56.8L118.2,56.3L118.4,56.0L118.5,55.8L118.7,55.2L118.9,55.0L119.0,54.8L119.2,54.4L119.5,54.1L119.8,53.9L120.0,53.7L120.3,53.5L120.7,53.2L121.0,53.1L121.2,53.0L121.7,52.8L122.0,52.6L122.2,52.5L122.8,52.3L123.0,52.2L123.5,52.0L123.8,51.9L124.2,51.9L124.8,51.9L125.2,52.0L125.5,52.1L126.0,52.2L126.2,52.3L126.8,52.5L127.0,52.6L127.5,52.7L127.8,52.8L128.2,52.9L128.8,53.0L129.0,53.1L129.5,53.2L129.8,53.4L130.0,53.5L130.3,53.8L130.6,54.0L130.9,54.2L131.1,54.5L131.3,54.8L131.5,55.0L131.8,55.2L132.0,55.5L132.2,55.8L132.5,56.1L132.8,56.5L132.9,56.8L133.0,57.0L133.2,57.5L133.3,57.8L133.5,58.2L133.5,58.5L133.7,59.0L133.8,59.2L134.0,59.7L134.1,60.0L134.2,60.4L134.4,60.8L134.5,61.1L134.6,61.5L134.7,62.0L134.8,62.2L134.8,62.8L134.9,63.2L135.0,63.8L135.0,64.1L135.1,64.5L135.2,65.0L135.3,65.2L135.5,65.8L135.6,66.0L135.8,66.4L135.9,66.8L136.0,67.2L136.0,67.5L136.1,68.0L136.0,68.5L136.0,68.9L135.9,69.2L135.9,69.8L135.8,70.2L135.8,70.8L135.8,71.2L135.9,71.8L136.0,72.0L136.2,72.5L136.2,72.8L136.4,73.2L136.5,73.5L136.6,74.0L136.7,74.5L136.8,74.8L136.8,75.2L136.8,75.8L136.8,76.2L136.8,76.8L136.7,77.0L136.7,77.5L136.6,78.0L136.6,78.5L136.5,79.0L136.5,79.5L136.5,79.8L136.4,80.2L136.4,80.8L136.3,81.2L136.3,81.8L136.2,82.1L136.2,82.5L136.2,83.0L136.2,83.5L136.2,84.0L136.2,84.5L136.1,85.0L136.0,85.3L135.9,85.8L135.8,86.1L135.6,86.5L135.5,86.8L135.4,87.2L135.2,87.7L135.2,88.0L135.1,88.5L135.0,88.8L134.8,89.2L134.8,89.5L134.5,90.0L134.4,90.2L134.2,90.5L134.0,90.9L133.8,91.2L133.6,91.5L133.5,91.8L133.3,92.2L133.2,92.5L133.0,92.9L132.9,93.2L132.8,93.7L132.6,94.0L132.5,94.4L132.3,94.8L132.2,95.0L132.0,95.3L131.8,95.7L131.5,96.0L131.3,96.2L131.2,96.5L131.0,96.8L130.8,97.1L130.5,97.5L130.4,97.8L130.2,98.0L130.0,98.4L129.8,98.6L129.5,98.9L129.2,99.0L128.8,99.2L128.5,99.4L128.2,99.5L127.8,99.7L127.5,99.8L127.1,100.0L126.8,100.2L126.5,100.3ZM158.8,67.3L158.2,67.4L157.8,67.4L157.2,67.3L156.9,67.2L156.5,67.2L156.0,67.1L155.5,67.1L155.1,67.0L154.8,66.9L154.2,66.8L154.0,66.7L153.5,66.5L153.2,66.5L152.8,66.3L152.5,66.2L152.0,66.1L151.5,66.0L151.2,66.0L150.8,66.0L150.2,65.9L149.8,65.9L149.2,65.9L148.8,65.8L148.5,65.7L148.0,65.6L147.8,65.5L147.2,65.3L147.0,65.1L146.8,64.9L146.5,64.7L146.2,64.4L146.0,64.2L145.8,63.9L145.5,63.5L145.3,63.2L145.1,63.0L145.0,62.7L144.8,62.2L144.7,62.0L144.6,61.5L144.7,61.0L144.9,60.8L145.1,60.5L145.4,60.2L145.8,60.0L146.0,59.9L146.2,59.7L146.8,59.5L147.0,59.4L147.5,59.3L147.9,59.2L148.2,59.2L148.8,59.2L149.2,59.2L149.8,59.2L150.2,59.2L150.8,59.1L151.2,59.1L151.6,59.0L152.0,58.9L152.5,58.8L152.8,58.7L153.2,58.5L153.5,58.4L154.0,58.4L154.5,58.4L154.8,58.5L155.2,58.7L155.5,58.8L155.8,59.0L156.2,59.2L156.5,59.3L157.0,59.4L157.5,59.5L158.0,59.5L158.5,59.4L159.0,59.3L159.3,59.2L159.7,59.0L160.0,58.8L160.2,58.6L160.5,58.4L160.8,58.2L161.2,58.2L161.6,58.2L162.0,58.4L162.2,58.6L162.5,58.8L162.9,59.0L163.2,59.2L163.5,59.5L163.8,59.6L164.0,59.8L164.3,60.0L164.7,60.2L164.9,60.5L164.7,60.8L164.2,60.9L164.0,61.1L163.6,61.2L163.2,61.4L163.0,61.5L162.5,61.6L162.2,61.8L161.8,61.9L161.5,62.1L161.2,62.2L161.0,62.5L160.8,63.0L160.6,63.2L160.5,63.8L160.5,64.2L160.5,64.8L160.5,65.1L160.4,65.5L160.2,66.0L160.1,66.2L159.9,66.5L159.6,66.8L159.3,67.0L159.0,67.2L158.8,67.3ZM126.5,99.0L126.0,99.2L125.5,99.2L125.0,99.1L124.5,99.0L124.2,98.9L123.8,98.8L123.5,98.6L123.1,98.5L122.8,98.4L122.3,98.2L122.0,98.1L121.6,98.0L121.2,97.8L121.0,97.7L120.7,97.5L120.4,97.2L120.1,97.0L120.0,96.8L119.8,96.3L119.6,96.0L119.5,95.7L119.4,95.2L119.2,94.8L119.1,94.5L119.0,94.2L118.8,93.8L118.6,93.5L118.4,93.2L118.2,93.0L118.0,92.6L117.8,92.2L117.7,92.0L117.5,91.5L117.4,91.2L117.3,90.8L117.2,90.5L117.1,90.0L117.0,89.5L116.9,89.2L116.8,88.8L116.7,88.5L116.5,88.0L116.4,87.8L116.3,87.2L116.2,87.0L116.0,86.5L115.9,86.2L115.8,85.8L115.8,85.5L115.6,85.0L115.5,84.5L115.5,84.2L115.3,83.8L115.2,83.3L115.2,83.0L115.1,82.5L115.0,82.2L114.9,81.8L114.8,81.2L114.7,81.0L114.7,80.5L114.6,80.0L114.6,79.5L114.6,79.0L114.6,78.5L114.6,78.0L114.5,77.5L114.5,77.1L114.5,76.8L114.4,76.2L114.3,75.8L114.3,75.2L114.4,74.8L114.4,74.2L114.5,73.8L114.5,73.2L114.5,73.0L114.5,72.5L114.6,72.0L114.6,71.5L114.7,71.0L114.8,70.8L114.8,70.2L114.9,69.8L115.0,69.2L115.0,69.0L115.1,68.5L115.1,68.0L115.2,67.5L115.2,67.0L115.3,66.8L115.4,66.2L115.5,65.8L115.5,65.5L115.7,65.0L115.8,64.7L115.9,64.2L116.0,63.8L116.1,63.5L116.2,63.0L116.3,62.8L116.4,62.2L116.5,62.0L116.6,61.5L116.8,61.2L116.9,60.8L117.0,60.5L117.2,60.0L117.3,59.8L117.5,59.2L117.6,59.0L117.8,58.6L117.9,58.2L118.0,58.0L118.2,57.6L118.4,57.2L118.6,57.0L118.8,56.6L118.9,56.2L119.1,56.0L119.2,55.6L119.5,55.2L119.7,55.0L119.9,54.8L120.2,54.5L120.5,54.3L120.8,54.2L121.0,54.0L121.5,53.8L121.8,53.6L122.0,53.5L122.4,53.2L122.8,53.1L123.0,53.0L123.5,52.8L123.8,52.7L124.2,52.6L124.8,52.7L125.2,52.8L125.5,52.8L126.0,53.0L126.2,53.1L126.8,53.2L127.1,53.2L127.5,53.3L128.0,53.4L128.2,53.5L128.8,53.7L129.0,53.8L129.4,54.0L129.8,54.2L130.0,54.5L130.2,54.7L130.5,55.0L130.8,55.2L131.0,55.5L131.2,55.8L131.5,56.0L131.7,56.2L131.9,56.5L132.0,56.8L132.2,57.1L132.4,57.5L132.5,57.8L132.7,58.2L132.8,58.5L133.0,59.0L133.1,59.2L133.2,59.6L133.4,60.0L133.5,60.2L133.7,60.8L133.8,61.0L134.0,61.5L134.1,61.8L134.2,62.2L134.2,62.6L134.3,63.0L134.4,63.5L134.4,64.0L134.5,64.4L134.6,64.8L134.7,65.2L134.8,65.5L135.0,66.0L135.1,66.2L135.2,66.6L135.4,67.0L135.5,67.4L135.6,67.8L135.6,68.2L135.6,68.8L135.5,69.1L135.4,69.5L135.4,70.0L135.3,70.5L135.3,71.0L135.3,71.5L135.4,72.0L135.5,72.3L135.6,72.8L135.8,73.0L135.9,73.5L136.0,73.8L136.2,74.2L136.2,74.7L136.3,75.0L136.3,75.5L136.3,76.0L136.3,76.5L136.3,77.0L136.2,77.2L136.1,77.8L136.1,78.2L136.0,78.8L136.0,79.1L136.0,79.5L135.9,80.0L135.9,80.5L135.8,81.0L135.8,81.5L135.7,81.8L135.7,82.2L135.7,82.8L135.6,83.2L135.6,83.8L135.6,84.2L135.5,84.8L135.4,85.0L135.3,85.5L135.2,85.8L135.0,86.2L134.9,86.5L134.8,87.0L134.7,87.2L134.6,87.8L134.5,88.2L134.5,88.5L134.3,89.0L134.2,89.2L134.0,89.8L133.9,90.0L133.7,90.2L133.5,90.6L133.2,90.9L133.1,91.2L132.9,91.5L132.8,91.8L132.6,92.2L132.5,92.5L132.3,93.0L132.2,93.2L132.0,93.8L131.9,94.0L131.8,94.4L131.5,94.8L131.4,95.0L131.2,95.2L131.0,95.5L130.8,95.9L130.5,96.2L130.2,96.5L130.1,96.8L129.9,97.0L129.7,97.2L129.5,97.5L129.2,97.8L128.9,98.0L128.5,98.2L128.2,98.4L128.0,98.5L127.5,98.7L127.2,98.8L126.8,98.9L126.5,99.0ZM156.0,65.8L155.5,65.8L155.0,65.8L154.5,65.8L154.2,65.7L153.8,65.6L153.3,65.5L153.0,65.4L152.5,65.3L152.2,65.2L151.8,65.1L151.2,65.1L150.8,65.1L150.2,65.2L149.8,65.1L149.2,65.1L148.8,65.0L148.5,64.9L148.1,64.8L147.8,64.6L147.5,64.4L147.2,64.2L147.0,63.9L146.8,63.6L146.5,63.3L146.4,63.0L146.2,62.8L146.1,62.2L146.1,61.8L146.2,61.4L146.5,61.0L146.8,60.8L147.0,60.7L147.5,60.5L147.8,60.5L148.2,60.4L148.8,60.4L149.2,60.3L149.8,60.3L150.1,60.2L150.5,60.2L151.0,60.1L151.3,60.0L151.8,59.9L152.2,59.8L152.5,59.7L153.0,59.6L153.5,59.6L154.0,59.6L154.4,59.8L154.8,59.9L155.1,60.0L155.5,60.2L155.8,60.4L156.0,60.5L156.5,60.7L156.8,60.8L157.2,60.9L157.5,61.0L158.0,61.1L158.4,61.2L158.8,61.4L159.0,61.7L159.2,62.0L159.2,62.5L159.2,63.0L159.1,63.5L159.0,63.8L158.8,64.2L158.6,64.5L158.4,64.8L158.1,65.0L157.8,65.2L157.5,65.3L157.1,65.5L156.8,65.6L156.2,65.7L156.0,65.8ZM125.8,98.0L125.2,98.1L124.8,98.1L124.2,98.1L123.9,98.0L123.5,97.9L123.1,97.8L122.8,97.6L122.4,97.5L122.0,97.3L121.8,97.2L121.4,97.0L121.1,96.8L120.8,96.5L120.7,96.2L120.5,95.8L120.5,95.5L120.4,95.0L120.3,94.5L120.2,94.2L120.0,93.9L119.8,93.6L119.5,93.3L119.3,93.0L119.0,92.8L118.8,92.5L118.7,92.2L118.5,92.0L118.3,91.5L118.2,91.2L118.0,90.8L118.0,90.5L117.9,90.0L117.8,89.6L117.7,89.2L117.5,88.8L117.4,88.5L117.2,88.1L117.1,87.8L117.0,87.5L116.8,87.0L116.7,86.8L116.6,86.2L116.5,86.0L116.4,85.5L116.3,85.0L116.2,84.8L116.1,84.2L116.0,83.8L115.9,83.5L115.8,83.0L115.8,82.6L115.7,82.2L115.6,81.8L115.5,81.5L115.4,81.0L115.3,80.5L115.2,80.1L115.2,79.8L115.2,79.2L115.2,78.8L115.2,78.4L115.3,78.0L115.3,77.5L115.3,77.0L115.2,76.7L115.2,76.2L115.2,75.8L115.1,75.2L115.2,74.8L115.2,74.2L115.2,73.8L115.3,73.5L115.2,73.2L115.2,72.8L115.2,72.2L115.2,71.8L115.3,71.5L115.3,71.0L115.4,70.5L115.4,70.0L115.5,69.5L115.5,69.2L115.6,68.8L115.7,68.2L115.7,67.8L115.8,67.5L115.9,67.0L116.0,66.5L116.0,66.2L116.1,65.8L116.2,65.2L116.3,65.0L116.4,64.5L116.5,64.1L116.6,63.8L116.8,63.4L116.9,63.0L117.0,62.7L117.2,62.2L117.3,62.0L117.5,61.5L117.6,61.2L117.7,60.8L117.8,60.5L118.0,60.0L118.0,59.8L118.2,59.2L118.3,59.0L118.5,58.5L118.6,58.2L118.8,58.0L119.0,57.5L119.2,57.2L119.3,57.0L119.5,56.7L119.8,56.3L120.0,56.0L120.2,55.8L120.5,55.5L120.8,55.4L121.0,55.2L121.4,55.0L121.8,54.8L122.0,54.6L122.2,54.4L122.5,54.2L123.0,54.0L123.2,53.8L123.5,53.7L124.0,53.6L124.5,53.5L125.0,53.6L125.5,53.6L126.0,53.7L126.2,53.8L126.8,53.9L127.2,54.0L127.5,54.0L128.0,54.2L128.3,54.2L128.8,54.5L129.0,54.6L129.2,54.8L129.5,55.0L129.8,55.3L130.0,55.5L130.2,55.8L130.5,56.1L130.8,56.3L131.0,56.6L131.2,56.9L131.5,57.2L131.6,57.5L131.8,57.8L132.0,58.2L132.1,58.5L132.2,58.8L132.5,59.2L132.6,59.5L132.8,59.9L132.9,60.2L133.0,60.5L133.2,61.0L133.3,61.2L133.4,61.8L133.5,62.0L133.7,62.5L133.8,63.0L133.8,63.2L133.9,63.8L133.9,64.2L134.0,64.7L134.1,65.0L134.2,65.5L134.3,65.8L134.5,66.2L134.7,66.5L134.8,66.8L134.9,67.2L135.0,67.5L135.1,68.0L135.1,68.5L135.1,69.0L135.0,69.3L134.9,69.8L134.8,70.2L134.8,70.8L134.8,71.2L134.8,71.8L134.9,72.2L135.0,72.6L135.1,73.0L135.2,73.3L135.4,73.8L135.5,74.0L135.7,74.5L135.8,74.9L135.8,75.2L135.8,75.8L135.8,76.2L135.8,76.8L135.7,77.0L135.7,77.5L135.6,78.0L135.5,78.5L135.5,78.8L135.4,79.2L135.4,79.8L135.3,80.2L135.3,80.8L135.2,81.0L135.2,81.5L135.1,82.0L135.1,82.5L135.0,83.0L135.0,83.5L135.0,83.8L134.9,84.2L134.8,84.8L134.7,85.0L134.6,85.5L134.5,85.8L134.3,86.2L134.2,86.5L134.1,87.0L134.0,87.4L134.0,87.8L133.9,88.2L133.8,88.7L133.7,89.0L133.5,89.3L133.3,89.8L133.1,90.0L133.0,90.2L132.8,90.5L132.5,90.9L132.3,91.2L132.2,91.5L132.0,91.9L131.8,92.2L131.8,92.5L131.6,93.0L131.5,93.2L131.3,93.8L131.2,94.0L131.0,94.3L130.8,94.7L130.5,95.0L130.3,95.2L130.0,95.5L129.8,95.7L129.5,96.0L129.2,96.1L129.0,96.3L128.6,96.5L128.2,96.7L128.0,96.8L127.7,97.0L127.3,97.2L127.0,97.4L126.8,97.5L126.4,97.8L126.0,97.9L125.8,98.0ZM155.2,64.8L154.8,64.8L154.2,64.8L153.9,64.8L153.5,64.6L153.0,64.5L152.8,64.4L152.2,64.3L152.0,64.2L151.5,64.2L151.0,64.2L150.8,64.3L150.2,64.3L149.8,64.3L149.2,64.3L149.0,64.2L148.5,64.0L148.2,63.9L148.0,63.7L147.8,63.4L147.5,63.0L147.4,62.8L147.4,62.2L147.5,62.0L147.8,61.8L148.2,61.5L148.5,61.5L149.0,61.4L149.5,61.3L149.8,61.2L150.2,61.2L150.8,61.0L151.0,60.9L151.5,60.8L151.8,60.7L152.2,60.5L152.5,60.5L153.0,60.4L153.5,60.4L154.0,60.5L154.2,60.6L154.7,60.8L155.0,60.9L155.2,61.1L155.5,61.2L155.9,61.5L156.2,61.8L156.5,61.9L156.8,62.1L157.0,62.3L157.2,62.6L157.4,63.0L157.2,63.5L157.1,63.8L156.8,64.0L156.5,64.2L156.2,64.4L156.0,64.6L155.5,64.7L155.2,64.8ZM124.8,97.0L124.2,97.1L123.9,97.0L123.5,96.9L123.2,96.8L122.8,96.5L122.5,96.3L122.2,96.1L122.0,95.8L121.9,95.5L121.8,95.0L121.7,94.8L121.6,94.2L121.5,94.0L121.2,93.6L121.0,93.3L120.8,93.0L120.5,92.8L120.2,92.6L120.0,92.4L119.8,92.1L119.5,91.8L119.3,91.5L119.2,91.2L119.0,90.9L118.9,90.5L118.8,90.1L118.6,89.8L118.5,89.3L118.4,89.0L118.2,88.7L118.1,88.2L117.9,88.0L117.8,87.6L117.6,87.2L117.5,86.9L117.4,86.5L117.2,86.2L117.1,85.8L117.0,85.2L117.0,85.0L116.9,84.5L116.8,84.0L116.7,83.8L116.6,83.2L116.5,82.8L116.5,82.5L116.4,82.0L116.3,81.5L116.2,81.2L116.1,80.8L116.0,80.2L116.0,80.0L116.0,79.5L116.0,79.0L116.0,78.5L116.0,78.2L116.0,77.8L116.0,77.2L116.0,76.8L116.0,76.2L116.0,75.8L116.1,75.2L116.1,74.8L116.1,74.2L116.1,73.8L116.1,73.2L116.1,72.8L116.0,72.2L116.0,72.0L115.9,71.5L115.9,71.0L116.0,70.5L116.0,70.0L116.0,69.8L116.1,69.2L116.2,68.8L116.3,68.5L116.4,68.0L116.5,67.7L116.6,67.2L116.7,66.8L116.8,66.3L116.8,66.0L116.9,65.5L117.0,65.0L117.0,64.8L117.2,64.2L117.2,64.0L117.4,63.5L117.6,63.2L117.8,62.8L117.9,62.5L118.0,62.2L118.2,61.8L118.4,61.5L118.5,61.1L118.6,60.8L118.7,60.2L118.8,60.0L118.9,59.5L119.0,59.2L119.2,58.8L119.3,58.5L119.5,58.2L119.8,57.8L120.0,57.5L120.2,57.2L120.5,57.0L120.7,56.8L121.0,56.6L121.2,56.4L121.5,56.2L121.9,56.0L122.2,55.8L122.5,55.6L122.8,55.4L123.0,55.2L123.4,55.0L123.8,54.8L124.0,54.7L124.5,54.5L124.8,54.5L125.2,54.5L125.8,54.5L126.0,54.5L126.5,54.6L127.0,54.7L127.3,54.8L127.8,54.9L128.0,55.0L128.5,55.2L128.8,55.5L129.0,55.7L129.2,55.9L129.5,56.1L129.8,56.4L130.0,56.6L130.2,56.9L130.5,57.2L130.8,57.5L130.9,57.8L131.1,58.0L131.2,58.3L131.5,58.7L131.7,59.0L131.8,59.2L132.0,59.6L132.2,60.0L132.3,60.2L132.5,60.8L132.6,61.0L132.7,61.5L132.8,61.8L133.0,62.2L133.0,62.5L133.2,63.0L133.2,63.5L133.3,63.8L133.4,64.2L133.5,64.8L133.5,65.0L133.7,65.5L133.8,65.8L134.0,66.2L134.1,66.5L134.2,66.8L134.4,67.2L134.5,67.5L134.6,68.0L134.6,68.5L134.6,69.0L134.5,69.5L134.5,69.8L134.4,70.2L134.3,70.8L134.3,71.2L134.3,71.8L134.4,72.2L134.5,72.8L134.6,73.0L134.7,73.5L134.8,73.8L135.0,74.2L135.1,74.5L135.2,75.0L135.2,75.3L135.3,75.8L135.3,76.2L135.2,76.5L135.2,77.0L135.1,77.5L135.0,78.0L135.0,78.2L134.9,78.8L134.8,79.2L134.8,79.8L134.8,80.1L134.7,80.5L134.6,81.0L134.5,81.5L134.5,81.8L134.4,82.2L134.4,82.8L134.4,83.2L134.3,83.8L134.2,84.1L134.2,84.5L134.0,84.9L133.9,85.2L133.8,85.5L133.6,86.0L133.5,86.2L133.3,86.8L133.3,87.2L133.2,87.5L133.2,88.0L133.1,88.5L133.0,88.8L132.8,89.2L132.6,89.5L132.5,89.8L132.2,90.0L132.0,90.4L131.8,90.7L131.6,91.0L131.5,91.2L131.3,91.8L131.2,92.0L131.0,92.5L130.9,92.8L130.8,93.1L130.6,93.5L130.4,93.8L130.2,94.0L130.0,94.3L129.8,94.5L129.5,94.8L129.1,95.0L128.8,95.1L128.5,95.2L128.0,95.4L127.8,95.5L127.2,95.7L127.0,95.8L126.7,96.0L126.3,96.2L126.0,96.5L125.8,96.6L125.5,96.8L125.0,97.0L124.8,97.0ZM154.8,63.8L154.2,63.8L153.8,63.8L153.5,63.7L153.0,63.5L152.8,63.4L152.4,63.2L152.0,63.1L151.8,63.0L151.3,62.8L151.2,62.5L151.3,62.2L151.5,62.0L151.8,61.8L152.2,61.5L152.5,61.4L152.9,61.2L153.2,61.2L153.6,61.2L154.0,61.3L154.3,61.5L154.7,61.8L155.0,62.0L155.2,62.2L155.4,62.5L155.5,63.0L155.2,63.5L155.0,63.6L154.8,63.8ZM124.5,95.5L124.2,95.5L123.8,95.2L123.5,95.0L123.3,94.8L123.2,94.5L123.0,94.1L122.8,93.8L122.7,93.5L122.5,93.2L122.2,92.8L122.0,92.5L121.8,92.2L121.6,92.0L121.3,91.8L121.0,91.5L120.8,91.3L120.5,91.0L120.3,90.8L120.1,90.5L120.0,90.2L119.8,89.9L119.6,89.5L119.4,89.2L119.2,88.9L119.0,88.5L118.9,88.2L118.8,87.9L118.5,87.5L118.4,87.2L118.2,86.8L118.1,86.5L118.0,86.1L117.9,85.8L117.8,85.2L117.7,85.0L117.6,84.5L117.5,84.0L117.5,83.8L117.4,83.2L117.3,82.8L117.3,82.2L117.2,82.0L117.2,81.5L117.1,81.0L117.0,80.5L117.0,80.2L116.9,79.8L116.8,79.2L116.8,78.8L116.8,78.2L116.8,77.8L116.8,77.2L116.8,76.8L116.8,76.2L116.8,75.8L116.9,75.2L116.9,74.8L117.0,74.2L117.0,73.8L117.0,73.5L117.0,73.2L116.9,72.8L116.9,72.2L116.8,71.8L116.7,71.5L116.6,71.0L116.6,70.5L116.7,70.0L116.8,69.6L116.8,69.2L117.0,68.8L117.1,68.5L117.2,68.2L117.4,67.8L117.5,67.5L117.6,67.0L117.7,66.5L117.7,66.0L117.8,65.7L117.8,65.2L117.9,64.8L118.0,64.4L118.1,64.0L118.2,63.7L118.5,63.2L118.6,63.0L118.8,62.7L119.0,62.2L119.1,62.0L119.2,61.5L119.3,61.2L119.5,60.8L119.5,60.5L119.7,60.0L119.8,59.7L119.9,59.2L120.0,59.0L120.2,58.6L120.5,58.3L120.8,58.1L121.0,57.8L121.2,57.6L121.5,57.5L121.8,57.2L122.2,57.0L122.5,56.8L122.8,56.6L123.0,56.4L123.3,56.2L123.7,56.0L124.0,55.8L124.2,55.7L124.8,55.5L125.0,55.5L125.5,55.4L126.0,55.4L126.5,55.5L126.8,55.5L127.2,55.7L127.5,55.8L128.0,56.0L128.2,56.2L128.5,56.3L128.8,56.5L129.0,56.8L129.3,57.0L129.6,57.2L129.8,57.5L130.0,57.8L130.3,58.0L130.5,58.3L130.8,58.7L131.0,59.0L131.1,59.2L131.3,59.5L131.5,59.9L131.6,60.2L131.8,60.5L131.9,61.0L132.0,61.2L132.2,61.8L132.3,62.0L132.4,62.5L132.5,63.0L132.6,63.2L132.6,63.8L132.7,64.2L132.8,64.5L132.9,65.0L133.0,65.2L133.2,65.8L133.3,66.0L133.5,66.5L133.6,66.8L133.8,67.0L133.9,67.5L134.0,67.8L134.1,68.2L134.1,68.8L134.1,69.2L134.0,69.6L133.9,70.0L133.8,70.5L133.8,71.0L133.8,71.5L133.8,72.0L133.9,72.5L134.0,73.0L134.1,73.2L134.2,73.8L134.3,74.0L134.5,74.5L134.5,74.8L134.6,75.2L134.7,75.8L134.7,76.2L134.6,76.8L134.5,77.2L134.5,77.5L134.4,78.0L134.3,78.5L134.2,78.9L134.2,79.2L134.1,79.8L134.0,80.2L134.0,80.5L133.9,81.0L133.8,81.5L133.8,81.9L133.7,82.2L133.6,82.8L133.6,83.2L133.5,83.8L133.4,84.0L133.3,84.5L133.2,84.8L133.0,85.2L132.8,85.5L132.7,85.8L132.6,86.2L132.5,86.7L132.4,87.0L132.4,87.5L132.3,88.0L132.2,88.2L132.0,88.8L131.9,89.0L131.8,89.3L131.5,89.6L131.2,89.9L131.0,90.2L130.8,90.5L130.7,90.8L130.5,91.2L130.4,91.5L130.2,91.9L130.2,92.2L130.0,92.7L129.8,93.0L129.7,93.2L129.5,93.5L129.2,93.8L128.8,94.0L128.5,94.2L128.2,94.3L127.8,94.5L127.5,94.6L127.0,94.7L126.8,94.8L126.3,95.0L126.0,95.1L125.6,95.2L125.2,95.4L124.8,95.5L124.5,95.5ZM125.8,93.8L125.2,93.8L125.0,93.7L124.6,93.5L124.3,93.2L124.1,93.0L124.0,92.8L123.8,92.3L123.6,92.0L123.5,91.8L123.2,91.4L123.0,91.0L122.9,90.8L122.7,90.5L122.4,90.2L122.0,90.0L121.8,89.8L121.5,89.7L121.2,89.5L120.9,89.2L120.7,89.0L120.5,88.8L120.2,88.5L120.0,88.1L119.8,87.8L119.7,87.5L119.5,87.2L119.3,86.8L119.2,86.5L119.1,86.0L119.0,85.8L118.8,85.2L118.8,84.9L118.6,84.5L118.5,84.0L118.4,83.8L118.4,83.2L118.3,82.8L118.3,82.2L118.3,81.8L118.4,81.2L118.4,80.8L118.4,80.2L118.2,79.8L118.1,79.5L118.0,79.2L117.8,78.8L117.7,78.5L117.6,78.0L117.6,77.5L117.5,77.0L117.5,76.5L117.5,76.0L117.6,75.5L117.6,75.0L117.7,74.5L117.8,74.1L117.8,73.8L117.8,73.2L117.8,72.8L117.8,72.5L117.7,72.0L117.6,71.5L117.5,71.0L117.5,70.8L117.5,70.4L117.6,70.0L117.7,69.5L117.8,69.2L118.0,69.0L118.2,68.5L118.4,68.2L118.5,68.0L118.7,67.5L118.8,67.2L118.9,66.8L118.9,66.2L119.0,65.8L119.0,65.3L119.0,65.0L119.1,64.5L119.2,64.0L119.3,63.8L119.5,63.3L119.6,63.0L119.8,62.7L119.9,62.2L120.0,62.0L120.2,61.5L120.3,61.2L120.5,60.8L120.6,60.5L120.8,60.0L120.9,59.8L121.0,59.5L121.2,59.1L121.5,58.9L121.8,58.6L122.0,58.4L122.2,58.2L122.5,58.0L122.9,57.8L123.2,57.5L123.5,57.4L123.8,57.2L124.2,57.0L124.5,56.9L125.0,56.8L125.2,56.7L125.8,56.7L126.2,56.7L126.8,56.7L127.0,56.8L127.5,56.9L127.8,57.0L128.2,57.2L128.5,57.4L128.8,57.6L129.0,57.8L129.2,58.0L129.5,58.3L129.8,58.5L130.0,58.8L130.2,59.2L130.5,59.5L130.7,59.8L130.8,60.0L131.0,60.3L131.2,60.8L131.3,61.0L131.4,61.5L131.5,61.8L131.6,62.2L131.7,62.8L131.8,63.0L131.9,63.5L132.0,64.0L132.1,64.2L132.2,64.8L132.3,65.0L132.5,65.5L132.6,65.8L132.8,66.1L132.9,66.5L133.0,66.8L133.2,67.2L133.4,67.5L133.5,68.0L133.5,68.2L133.6,68.8L133.5,69.2L133.5,69.5L133.4,70.0L133.3,70.5L133.3,71.0L133.2,71.3L133.2,71.8L133.3,72.0L133.3,72.5L133.4,73.0L133.5,73.4L133.6,73.8L133.7,74.2L133.8,74.5L133.9,75.0L134.0,75.5L134.0,76.0L134.0,76.5L133.9,77.0L133.8,77.5L133.7,77.8L133.6,78.2L133.5,78.8L133.5,79.0L133.4,79.5L133.3,80.0L133.2,80.2L133.1,80.8L133.0,81.2L132.9,81.5L132.8,82.0L132.8,82.4L132.7,82.8L132.6,83.2L132.5,83.5L132.3,84.0L132.2,84.2L132.0,84.8L131.9,85.0L131.8,85.4L131.7,85.8L131.5,86.2L131.5,86.5L131.4,87.0L131.3,87.5L131.2,87.8L131.0,88.2L130.8,88.5L130.7,88.8L130.4,89.0L130.2,89.2L130.0,89.5L129.7,89.8L129.5,90.0L129.2,90.4L129.1,90.8L129.0,91.0L128.9,91.5L128.8,92.0L128.8,92.3L128.5,92.7L128.2,92.9L128.0,93.1L127.8,93.3L127.2,93.5L127.0,93.5L126.5,93.7L126.0,93.7L125.8,93.8ZM127.2,88.5L127.0,88.5L126.5,88.5L126.0,88.4L125.5,88.3L125.2,88.1L125.0,87.8L124.9,87.5L125.0,87.0L125.2,86.8L125.5,86.6L125.8,86.4L126.0,86.1L126.1,85.8L126.2,85.3L126.3,85.0L126.3,84.5L126.2,84.2L126.1,83.8L126.0,83.5L125.8,83.2L125.5,82.9L125.2,82.7L125.0,82.5L124.7,82.2L124.5,82.0L124.2,81.7L124.0,81.4L123.8,81.0L123.6,80.8L123.5,80.5L123.2,80.1L123.0,79.8L122.8,79.5L122.6,79.2L122.3,79.0L122.0,78.8L121.8,78.7L121.3,78.5L121.0,78.4L120.5,78.4L120.0,78.3L119.5,78.3L119.2,78.2L118.9,78.0L118.7,77.8L118.5,77.4L118.4,77.0L118.3,76.5L118.3,76.0L118.3,75.5L118.4,75.0L118.5,74.5L118.5,74.2L118.6,73.8L118.6,73.2L118.7,72.8L118.7,72.2L118.7,71.8L118.8,71.5L118.8,71.0L118.9,70.5L119.0,70.2L119.2,69.8L119.4,69.5L119.5,69.2L119.7,68.8L119.8,68.5L119.9,68.0L120.0,67.5L120.1,67.2L120.2,66.8L120.3,66.5L120.5,66.0L120.6,65.8L120.7,65.2L120.7,64.8L120.7,64.2L120.7,63.8L120.8,63.4L120.9,63.0L121.0,62.7L121.2,62.3L121.5,62.0L121.7,61.8L121.9,61.5L122.2,61.2L122.5,61.0L122.7,60.8L122.9,60.5L123.1,60.2L123.2,60.0L123.5,59.6L123.8,59.3L124.0,59.0L124.2,58.9L124.5,58.7L125.0,58.5L125.2,58.5L125.8,58.4L126.2,58.3L126.5,58.2L127.0,58.2L127.4,58.2L127.8,58.3L128.2,58.5L128.5,58.7L128.8,58.9L129.0,59.1L129.2,59.3L129.5,59.6L129.8,59.9L130.0,60.2L130.2,60.5L130.3,60.8L130.5,61.1L130.7,61.5L130.8,61.8L130.9,62.2L131.0,62.8L131.0,63.0L131.1,63.5L131.2,63.9L131.3,64.2L131.5,64.7L131.6,65.0L131.8,65.3L131.9,65.8L132.0,66.0L132.2,66.4L132.4,66.8L132.5,67.0L132.7,67.5L132.8,67.8L132.9,68.2L133.0,68.8L133.0,69.2L132.9,69.8L132.8,70.2L132.8,70.8L132.7,71.0L132.7,71.5L132.7,72.0L132.7,72.5L132.8,72.8L132.8,73.2L132.9,73.8L133.0,74.2L133.1,74.5L133.1,75.0L133.2,75.5L133.2,76.0L133.1,76.5L133.1,77.0L133.0,77.3L132.9,77.8L132.8,78.2L132.7,78.5L132.5,79.0L132.4,79.2L132.2,79.6L132.1,80.0L132.0,80.2L131.8,80.8L131.8,81.1L131.7,81.5L131.5,82.0L131.5,82.2L131.3,82.8L131.2,83.0L131.0,83.5L130.9,83.8L130.8,84.1L130.6,84.5L130.5,85.0L130.5,85.2L130.4,85.8L130.3,86.2L130.2,86.5L130.0,87.0L129.9,87.2L129.7,87.5L129.4,87.8L129.1,88.0L128.8,88.2L128.5,88.3L128.0,88.4L127.5,88.5L127.2,88.5ZM128.8,84.1L128.4,84.0L128.2,83.8L128.0,83.5L127.8,83.0L127.7,82.8L127.5,82.2L127.4,82.0L127.2,81.7L127.0,81.4L126.8,81.1L126.5,80.9L126.2,80.7L126.0,80.5L125.8,80.2L125.5,80.0L125.2,79.8L124.9,79.5L124.7,79.2L124.4,79.0L124.1,78.8L123.8,78.5L123.5,78.3L123.2,78.1L123.0,78.0L122.5,77.8L122.2,77.6L121.9,77.5L121.5,77.4L121.0,77.2L120.8,77.2L120.2,77.1L120.0,77.0L119.6,76.8L119.4,76.5L119.2,76.1L119.2,75.8L119.2,75.2L119.3,75.0L119.4,74.5L119.5,74.2L119.7,73.8L119.8,73.4L119.9,73.0L120.0,72.8L120.2,72.3L120.4,72.0L120.6,71.8L120.8,71.4L121.0,71.0L121.0,70.8L121.1,70.2L121.1,69.8L121.1,69.2L121.0,68.8L121.1,68.2L121.2,67.8L121.3,67.5L121.5,67.0L121.6,66.8L121.8,66.5L122.0,66.0L122.1,65.8L122.2,65.4L122.3,65.0L122.4,64.5L122.5,64.0L122.6,63.8L122.8,63.4L123.0,63.0L123.2,62.8L123.5,62.6L123.8,62.4L124.0,62.2L124.2,62.0L124.5,61.8L124.8,61.5L125.1,61.2L125.4,61.0L125.7,60.8L126.0,60.6L126.2,60.5L126.8,60.4L127.2,60.4L127.8,60.4L128.1,60.5L128.5,60.7L128.8,60.8L129.0,61.0L129.3,61.2L129.5,61.5L129.8,61.9L129.9,62.2L130.0,62.5L130.2,63.0L130.3,63.2L130.4,63.8L130.5,64.1L130.7,64.5L130.8,64.8L131.0,65.2L131.1,65.5L131.2,65.9L131.4,66.2L131.6,66.5L131.8,66.9L131.9,67.2L132.0,67.5L132.2,68.0L132.2,68.4L132.3,68.8L132.3,69.2L132.3,69.8L132.3,70.2L132.2,70.5L132.2,71.0L132.2,71.5L132.1,72.0L132.1,72.5L132.1,73.0L132.2,73.5L132.1,74.0L132.1,74.5L132.1,75.0L132.0,75.5L132.0,75.8L131.9,76.2L131.9,76.8L131.8,77.2L131.7,77.5L131.5,77.9L131.3,78.2L131.1,78.5L131.0,78.8L130.8,79.0L130.5,79.4L130.3,79.8L130.2,80.0L130.0,80.5L130.0,80.8L129.9,81.2L129.8,81.8L129.8,82.2L129.7,82.5L129.5,83.0L129.4,83.2L129.2,83.5L129.0,83.9L128.8,84.1ZM128.0,78.6L127.5,78.6L127.0,78.5L126.8,78.5L126.2,78.3L126.0,78.2L125.7,78.0L125.3,77.8L125.0,77.6L124.8,77.4L124.4,77.2L124.0,77.0L123.8,76.9L123.4,76.8L123.0,76.6L122.8,76.4L122.5,76.2L122.1,76.0L121.9,75.8L121.7,75.5L121.6,75.0L121.7,74.5L121.8,74.2L122.0,73.8L122.1,73.5L122.2,73.1L122.4,72.8L122.5,72.4L122.6,72.0L122.6,71.5L122.6,71.0L122.6,70.5L122.5,70.0L122.4,69.8L122.3,69.2L122.3,68.8L122.3,68.2L122.4,67.8L122.5,67.5L122.7,67.0L122.8,66.8L123.0,66.4L123.2,66.0L123.3,65.8L123.4,65.2L123.5,65.0L123.7,64.5L123.8,64.2L124.0,63.8L124.2,63.5L124.5,63.3L124.8,63.1L125.0,62.9L125.2,62.7L125.8,62.5L126.0,62.4L126.5,62.3L127.0,62.3L127.5,62.3L128.0,62.4L128.3,62.5L128.7,62.8L129.0,63.0L129.2,63.2L129.3,63.5L129.5,63.8L129.7,64.2L129.8,64.5L130.0,64.9L130.1,65.2L130.3,65.5L130.5,66.0L130.6,66.2L130.8,66.6L130.9,67.0L131.0,67.2L131.2,67.8L131.3,68.0L131.5,68.5L131.5,68.8L131.6,69.2L131.6,69.8L131.6,70.2L131.6,70.8L131.6,71.2L131.6,71.8L131.5,72.2L131.5,72.8L131.5,73.0L131.4,73.5L131.2,73.9L131.1,74.2L131.0,74.5L130.8,74.9L130.5,75.2L130.4,75.5L130.2,75.8L130.0,76.2L129.9,76.5L129.8,76.8L129.5,77.2L129.4,77.5L129.2,77.8L128.9,78.0L128.6,78.2L128.2,78.5L128.0,78.6ZM127.8,76.3L127.2,76.4L126.9,76.2L126.6,76.0L126.5,75.7L126.4,75.2L126.3,74.8L126.2,74.5L126.0,74.0L125.8,73.8L125.6,73.5L125.4,73.2L125.1,73.0L124.9,72.8L124.8,72.5L124.5,72.0L124.4,71.8L124.2,71.4L124.1,71.0L124.0,70.7L123.8,70.2L123.8,69.9L123.6,69.5L123.5,69.0L123.5,68.5L123.5,68.0L123.6,67.5L123.8,67.1L123.8,66.8L124.0,66.3L124.1,66.0L124.2,65.5L124.3,65.2L124.5,64.9L124.7,64.5L124.9,64.2L125.2,64.0L125.5,63.8L125.8,63.7L126.2,63.6L126.8,63.5L127.2,63.6L127.8,63.7L128.0,63.8L128.3,64.0L128.5,64.2L128.8,64.5L129.0,64.9L129.2,65.2L129.3,65.5L129.5,65.9L129.6,66.2L129.8,66.6L129.9,67.0L130.0,67.2L130.2,67.8L130.3,68.0L130.5,68.5L130.6,68.8L130.8,69.2L130.8,69.5L130.9,70.0L131.0,70.5L131.0,71.0L131.0,71.5L130.9,72.0L130.8,72.5L130.8,72.9L130.6,73.2L130.5,73.5L130.2,73.8L130.0,74.1L129.8,74.4L129.5,74.6L129.2,74.8L129.0,75.1L128.8,75.3L128.5,75.6L128.2,75.9L128.0,76.1L127.8,76.3ZM128.8,73.5L128.2,73.5L128.0,73.5L127.6,73.2L127.3,73.0L127.0,72.8L126.8,72.5L126.5,72.3L126.2,72.0L126.0,71.8L125.8,71.5L125.6,71.2L125.5,71.0L125.2,70.7L125.0,70.2L124.9,70.0L124.8,69.5L124.7,69.2L124.6,68.8L124.6,68.2L124.6,67.8L124.7,67.2L124.8,66.8L124.8,66.5L125.0,66.0L125.1,65.8L125.2,65.4L125.5,65.1L125.8,64.9L126.0,64.8L126.5,64.6L127.0,64.7L127.3,64.8L127.8,65.0L128.0,65.2L128.2,65.5L128.4,65.8L128.5,66.0L128.7,66.5L128.8,66.8L128.9,67.2L129.0,67.6L129.1,68.0L129.2,68.3L129.5,68.8L129.6,69.0L129.8,69.3L130.0,69.8L130.0,70.0L130.2,70.5L130.2,71.0L130.2,71.5L130.2,72.0L130.0,72.5L129.8,72.8L129.6,73.0L129.4,73.2L129.0,73.4L128.8,73.5Z" stroke="#333" stroke-width="0.5" fill="none"/><g fill="#8a8a8a"><rect x="102.4" y="79.2" width="0.8" height="0.8"/><rect x="158.9" y="90.8" width="0.8" height="0.8"/><rect x="175.5" y="79.4" width="0.8" height="0.8"/><rect x="120.8" y="104.7" width="0.8" height="0.8"/><rect x="186.6" y="79.0" width="0.8" height="0.8"/><rect x="115.0" y="105.4" width="0.8" height="0.8"/><rect x="121.3" y="39.9" width="0.8" height="0.8"/><rect x="117.7" y="106.2" width="0.8" height="0.8"/><rect x="159.5" y="92.6" width="0.8" height="0.8"/><rect x="143.5" y="98.7" width="0.8" height="0.8"/><rect x="187.1" y="59.5" width="0.8" height="0.8"/><rect x="101.7" y="81.6" width="0.8" height="0.8"/><rect x="116.7" y="102.1" width="0.8" height="0.8"/><rect x="146.9" y="94.5" width="0.8" height="0.8"/><rect x="185.2" y="60.0" width="0.8" height="0.8"/><rect x="188.1" y="60.8" width="0.8" height="0.8"/><rect x="170.6" y="93.4" width="0.8" height="0.8"/><rect x="183.0" y="68.8" width="0.8" height="0.8"/><rect x="100.5" y="61.2" width="0.8" height="0.8"/><rect x="178.6" y="47.9" width="0.8" height="0.8"/><rect x="169.7" y="92.6" width="0.8" height="0.8"/><rect x="92.6" y="73.3" width="0.8" height="0.8"/><rect x="159.7" y="91.5" width="0.8" height="0.8"/><rect x="176.7" y="96.2" width="0.8" height="0.8"/><rect x="102.5" y="92.1" width="0.8" height="0.8"/><rect x="118.8" y="40.2" width="0.8" height="0.8"/><rect x="103.2" y="49.5" width="0.8" height="0.8"/><rect x="169.7" y="95.8" width="0.8" height="0.8"/><rect x="105.7" y="84.9" width="0.8" height="0.8"/><rect x="102.5" y="73.8" width="0.8" height="0.8"/><rect x="106.2" y="90.4" width="0.8" height="0.8"/><rect x="192.6" y="57.0" width="0.8" height="0.8"/><rect x="114.6" y="47.7" width="0.8" height="0.8"/><rect x="101.3" y="77.9" width="0.8" height="0.8"/><rect x="168.1" y="91.6" width="0.8" height="0.8"/><rect x="172.0" y="100.1" width="0.8" height="0.8"/><rect x="126.6" y="40.2" width="0.8" height="0.8"/><rect x="174.7" y="83.6" width="0.8" height="0.8"/><rect x="176.4" y="46.4" width="0.8" height="0.8"/><rect x="181.6" y="51.7" width="0.8" height="0.8"/><rect x="170.9" y="93.3" width="0.8" height="0.8"/><rect x="109.0" y="36.0" width="0.8" height="0.8"/><rect x="133.8" y="107.1" width="0.8" height="0.8"/><rect x="148.1" y="98.0" width="0.8" height="0.8"/><rect x="118.5" y="110.2" width="0.8" height="0.8"/><rect x="121.9" y="105.3" width="0.8" height="0.8"/><rect x="105.2" y="75.4" width="0.8" height="0.8"/><rect x="169.9" y="93.4" width="0.8" height="0.8"/><rect x="172.1" y="93.3" width="0.8" height="0.8"/><rect x="102.9" y="84.0" width="0.8" height="0.8"/><rect x="104.7" y="58.7" width="0.8" height="0.8"/><rect x="124.7" y="37.7" width="0.8" height="0.8"/><rect x="101.2" y="29.3" width="0.8" height="0.8"/><rect x="114.9" y="107.9" width="0.8" height="0.8"/><rect x="126.2" y="117.9" width="0.8" height="0.8"/><rect x="181.3" y="70.1" width="0.8" height="0.8"/><rect x="154.4" y="92.5" width="0.8" height="0.8"/><rect x="178.9" y="74.2" width="0.8" height="0.8"/><rect x="108.3" y="95.5" width="0.8" height="0.8"/><rect x="104.8" y="93.9" width="0.8" height="0.8"/><rect x="185.1" y="61.8" width="0.8" height="0.8"/><rect x="133.5" y="35.2" width="0.8" height="0.8"/><rect x="153.4" y="92.3" width="0.8" height="0.8"/><rect x="115.9" y="99.2" width="0.8" height="0.8"/><rect x="182.2" y="72.5" width="0.8" height="0.8"/><rect x="109.8" y="91.4" width="0.8" height="0.8"/><rect x="121.0" y="43.1" width="0.8" height="0.8"/><rect x="135.8" y="107.6" width="0.8" height="0.8"/><rect x="115.6" y="107.1" width="0.8" height="0.8"/><rect x="179.5" y="72.8" width="0.8" height="0.8"/></g><rect x="85.5" y="24.5" width="112.0" height="111.80000000000001" fill="none" stroke="#555" stroke-width="0.9"/><path d="M85.50,136.3v3.0M85.5,135.60h-3.0M91.91,136.3v1.8M85.5,129.19h-1.8M95.66,136.3v1.8M85.5,125.44h-1.8M98.32,136.3v1.8M85.5,122.78h-1.8M100.39,136.3v1.8M85.5,120.71h-1.8M102.07,136.3v1.8M85.5,119.03h-1.8M103.50,136.3v1.8M85.5,117.60h-1.8M104.74,136.3v1.8M85.5,116.36h-1.8M105.83,136.3v1.8M85.5,115.27h-1.8M106.80,136.3v3.0M85.5,114.30h-3.0M113.21,136.3v1.8M85.5,107.89h-1.8M116.96,136.3v1.8M85.5,104.14h-1.8M119.62,136.3v1.8M85.5,101.48h-1.8M121.69,136.3v1.8M85.5,99.41h-1.8M123.37,136.3v1.8M85.5,97.73h-1.8M124.80,136.3v1.8M85.5,96.30h-1.8M126.04,136.3v1.8M85.5,95.06h-1.8M127.13,136.3v1.8M85.5,93.97h-1.8M128.10,136.3v3.0M85.5,93.00h-3.0M134.51,136.3v1.8M85.5,86.59h-1.8M138.26,136.3v1.8M85.5,82.84h-1.8M140.92,136.3v1.8M85.5,80.18h-1.8M142.99,136.3v1.8M85.5,78.11h-1.8M144.67,136.3v1.8M85.5,76.43h-1.8M146.10,136.3v1.8M85.5,75.00h-1.8M147.34,136.3v1.8M85.5,73.76h-1.8M148.43,136.3v1.8M85.5,72.67h-1.8M149.40,136.3v3.0M85.5,71.70h-3.0M155.81,136.3v1.8M85.5,65.29h-1.8M159.56,136.3v1.8M85.5,61.54h-1.8M162.22,136.3v1.8M85.5,58.88h-1.8M164.29,136.3v1.8M85.5,56.81h-1.8M165.97,136.3v1.8M85.5,55.13h-1.8M167.40,136.3v1.8M85.5,53.70h-1.8M168.64,136.3v1.8M85.5,52.46h-1.8M169.73,136.3v1.8M85.5,51.37h-1.8M170.70,136.3v3.0M85.5,50.40h-3.0M177.11,136.3v1.8M85.5,43.99h-1.8M180.86,136.3v1.8M85.5,40.24h-1.8M183.52,136.3v1.8M85.5,37.58h-1.8M185.59,136.3v1.8M85.5,35.51h-1.8M187.27,136.3v1.8M85.5,33.83h-1.8M188.70,136.3v1.8M85.5,32.40h-1.8M189.94,136.3v1.8M85.5,31.16h-1.8M191.03,136.3v1.8M85.5,30.07h-1.8M192.00,136.3v3M85.5,29.10h-3" stroke="#333" stroke-width="0.9" fill="none"/><path d="M134.5,24.5V136.3M85.5,77.6H197.5" stroke="#2a2a2a" stroke-width="1.2"/><text x="87.5" y="36.0" font-size="8.6" text-anchor="start" font-weight="normal" fill="#2b2b2b" stroke="#2b2b2b" stroke-width="0.22" >30.5</text><text x="188.3" y="35.8" font-size="8.6" text-anchor="end" font-weight="normal" fill="#2b2b2b" stroke="#2b2b2b" stroke-width="0.22" >37.8</text><text x="87.5" y="129.5" font-size="8.6" text-anchor="start" font-weight="normal" fill="#2b2b2b" stroke="#2b2b2b" stroke-width="0.22" >20.6</text><text x="188.3" y="129.4" font-size="8.6" text-anchor="end" font-weight="normal" fill="#2b2b2b" stroke="#2b2b2b" stroke-width="0.22" >11.1</text><text x="78.8" y="138.6" font-size="8.5" text-anchor="end" fill="#2b2b2b" stroke="#2b2b2b" stroke-width="0.22">10<tspan font-size="5.8" dy="-3.5">2</tspan></text><text x="79.6" y="150.8" font-size="8.5" text-anchor="start" fill="#2b2b2b" stroke="#2b2b2b" stroke-width="0.22">10<tspan font-size="5.8" dy="-3.5">2</tspan></text><text x="78.8" y="117.3" font-size="8.5" text-anchor="end" fill="#2b2b2b" stroke="#2b2b2b" stroke-width="0.22">10<tspan font-size="5.8" dy="-3.5">3</tspan></text><text x="100.89999999999999" y="150.8" font-size="8.5" text-anchor="start" fill="#2b2b2b" stroke="#2b2b2b" stroke-width="0.22">10<tspan font-size="5.8" dy="-3.5">3</tspan></text><text x="78.8" y="96.0" font-size="8.5" text-anchor="end" fill="#2b2b2b" stroke="#2b2b2b" stroke-width="0.22">10<tspan font-size="5.8" dy="-3.5">4</tspan></text><text x="122.19999999999999" y="150.8" font-size="8.5" text-anchor="start" fill="#2b2b2b" stroke="#2b2b2b" stroke-width="0.22">10<tspan font-size="5.8" dy="-3.5">4</tspan></text><text x="78.8" y="74.69999999999999" font-size="8.5" text-anchor="end" fill="#2b2b2b" stroke="#2b2b2b" stroke-width="0.22">10<tspan font-size="5.8" dy="-3.5">5</tspan></text><text x="143.5" y="150.8" font-size="8.5" text-anchor="start" fill="#2b2b2b" stroke="#2b2b2b" stroke-width="0.22">10<tspan font-size="5.8" dy="-3.5">5</tspan></text><text x="78.8" y="53.39999999999999" font-size="8.5" text-anchor="end" fill="#2b2b2b" stroke="#2b2b2b" stroke-width="0.22">10<tspan font-size="5.8" dy="-3.5">6</tspan></text><text x="164.79999999999998" y="150.8" font-size="8.5" text-anchor="start" fill="#2b2b2b" stroke="#2b2b2b" stroke-width="0.22">10<tspan font-size="5.8" dy="-3.5">6</tspan></text><text x="78.8" y="32.099999999999994" font-size="8.5" text-anchor="end" fill="#2b2b2b" stroke="#2b2b2b" stroke-width="0.22">10<tspan font-size="5.8" dy="-3.5">7</tspan></text><text x="186.1" y="150.8" font-size="8.5" text-anchor="start" fill="#2b2b2b" stroke="#2b2b2b" stroke-width="0.22">10<tspan font-size="5.8" dy="-3.5">7</tspan></text><path d="M288.0,99.9L287.5,100.0L287.0,99.9L286.5,99.9L286.0,99.9L285.5,99.8L285.2,99.7L284.8,99.5L284.5,99.4L284.0,99.4L283.7,99.5L283.2,99.7L283.0,99.8L282.5,100.0L282.0,99.9L281.5,99.9L281.0,99.9L280.5,99.8L280.2,99.7L279.8,99.5L279.5,99.4L279.1,99.2L278.8,99.1L278.4,99.0L278.0,98.9L277.6,98.8L277.2,98.7L276.8,98.5L276.5,98.5L276.0,98.3L275.8,98.2L275.3,98.0L275.0,97.8L274.8,97.7L274.2,97.6L273.8,97.5L273.5,97.4L273.2,97.2L272.8,97.0L272.5,96.9L272.1,96.8L271.8,96.6L271.5,96.4L271.2,96.2L271.0,96.0L270.7,95.8L270.5,95.5L270.2,95.2L270.0,95.0L269.8,94.7L269.5,94.3L269.3,94.0L269.0,93.8L268.8,93.6L268.5,93.4L268.2,93.2L268.0,93.0L267.7,92.8L267.3,92.5L267.0,92.2L266.8,92.0L266.7,91.8L266.5,91.5L266.2,91.2L266.1,90.8L266.0,90.5L265.8,90.0L265.7,89.8L265.5,89.5L265.2,89.1L265.1,88.8L265.0,88.5L264.8,88.0L264.7,87.8L264.5,87.2L264.4,87.0L264.2,86.6L264.2,86.2L264.0,85.8L263.9,85.5L263.8,85.2L263.6,84.8L263.5,84.5L263.3,84.0L263.2,83.8L263.1,83.2L263.0,83.0L262.9,82.5L262.8,82.1L262.7,81.8L262.6,81.2L262.5,80.9L262.4,80.5L262.4,80.0L262.2,79.7L262.1,79.2L262.0,78.8L261.9,78.5L261.8,78.0L261.7,77.8L261.7,77.2L261.5,76.9L261.4,76.5L261.4,76.0L261.3,75.5L261.2,75.2L261.2,74.8L261.0,74.2L261.0,74.0L261.0,73.5L260.8,73.0L260.7,72.8L260.7,72.2L260.6,71.8L260.5,71.3L260.5,71.0L260.3,70.5L260.2,70.2L260.2,69.8L260.0,69.3L260.0,69.0L259.9,68.5L259.8,68.1L259.7,67.8L259.6,67.2L259.5,66.9L259.5,66.5L259.4,66.0L259.3,65.5L259.3,65.0L259.2,64.8L259.1,64.2L259.1,63.8L259.0,63.2L258.9,63.0L258.8,62.5L258.8,62.0L258.8,61.6L258.6,61.2L258.6,60.8L258.6,60.2L258.5,59.9L258.3,59.5L258.3,59.0L258.3,58.5L258.3,58.0L258.3,57.5L258.3,57.0L258.3,56.5L258.3,56.0L258.3,55.5L258.3,55.0L258.5,54.5L258.5,54.2L258.5,53.8L258.6,53.2L258.8,52.8L258.8,52.5L259.0,52.0L259.1,51.8L259.2,51.4L259.5,51.0L259.6,50.8L259.8,50.5L260.0,50.2L260.2,49.9L260.5,49.6L260.8,49.4L261.0,49.2L261.2,48.9L261.5,48.7L261.8,48.5L262.2,48.3L262.5,48.1L262.8,47.9L263.0,47.7L263.4,47.5L263.8,47.4L264.1,47.2L264.5,47.0L264.8,46.9L265.2,46.8L265.5,46.6L266.0,46.5L266.2,46.4L266.8,46.3L267.0,46.2L267.5,46.1L268.0,46.0L268.4,46.0L268.8,45.9L269.2,45.8L269.8,45.8L270.2,45.8L270.5,45.7L271.0,45.5L271.5,45.5L272.0,45.5L272.5,45.5L273.0,45.5L273.5,45.5L274.0,45.5L274.2,45.4L274.8,45.3L275.2,45.4L275.8,45.4L276.2,45.4L276.8,45.4L277.2,45.3L277.8,45.3L278.2,45.3L278.8,45.3L279.2,45.3L279.8,45.3L280.2,45.3L280.8,45.3L281.2,45.3L281.8,45.3L282.2,45.3L282.8,45.3L283.2,45.3L283.8,45.3L284.2,45.3L284.8,45.3L285.2,45.3L285.8,45.3L286.2,45.3L286.8,45.3L287.2,45.3L287.8,45.4L288.2,45.4L288.8,45.4L289.2,45.4L289.8,45.4L290.2,45.4L290.8,45.4L291.2,45.5L291.8,45.5L292.2,45.5L292.8,45.5L293.2,45.4L293.8,45.4L294.2,45.4L294.8,45.4L295.2,45.4L295.8,45.4L296.2,45.4L296.6,45.5L297.0,45.7L297.5,45.7L298.0,45.7L298.2,45.8L298.8,45.8L299.2,45.8L299.8,45.8L300.2,45.8L300.5,45.7L301.0,45.7L301.5,45.7L302.0,45.6L302.5,45.6L303.0,45.7L303.5,45.7L304.0,45.7L304.3,45.8L304.8,45.9L305.0,46.0L305.5,46.0L306.0,46.0L306.3,46.0L306.8,46.0L307.2,45.9L307.8,45.9L308.2,45.9L308.8,45.9L309.2,45.9L309.8,45.8L310.2,45.8L310.8,45.9L311.1,46.0L311.5,46.1L312.0,46.1L312.5,46.1L313.0,46.1L313.5,46.1L314.0,46.1L314.5,46.1L314.9,46.2L315.2,46.3L315.8,46.3L316.2,46.4L316.8,46.4L317.0,46.6L317.5,46.7L318.0,46.8L318.2,46.8L318.8,46.8L319.2,47.0L319.5,47.0L320.0,47.0L320.5,47.1L321.0,47.2L321.5,47.2L321.8,47.3L322.2,47.4L322.8,47.4L323.0,47.5L323.5,47.7L323.8,47.8L324.2,47.9L324.7,48.0L325.0,48.1L325.4,48.2L325.8,48.4L326.0,48.6L326.5,48.7L326.8,48.8L327.1,49.0L327.5,49.2L327.8,49.3L328.1,49.5L328.5,49.7L328.8,49.8L329.0,50.0L329.4,50.2L329.7,50.5L330.0,50.7L330.2,50.9L330.5,51.0L330.8,51.2L331.1,51.5L331.3,51.8L331.5,52.1L331.8,52.4L332.0,52.7L332.1,53.0L332.3,53.2L332.5,53.6L332.7,54.0L332.8,54.2L333.0,54.7L333.1,55.0L333.2,55.5L333.3,55.8L333.3,56.2L333.5,56.7L333.5,57.0L333.5,57.5L333.5,58.0L333.5,58.2L333.4,58.8L333.3,59.2L333.2,59.5L333.2,60.0L333.1,60.5L333.0,61.0L333.0,61.2L332.9,61.8L332.8,62.2L332.7,62.5L332.5,63.0L332.4,63.2L332.2,63.7L332.1,64.0L332.0,64.3L331.8,64.8L331.7,65.0L331.5,65.5L331.4,65.8L331.2,66.0L330.9,66.2L330.8,66.5L330.5,66.9L330.2,67.2L330.0,67.4L329.8,67.7L329.5,68.0L329.3,68.2L329.0,68.5L328.8,68.8L328.5,69.0L328.2,69.2L328.0,69.5L327.8,69.7L327.5,70.0L327.2,70.1L327.0,70.3L326.7,70.5L326.5,70.8L326.2,71.0L326.0,71.2L325.7,71.5L325.3,71.8L325.0,72.0L324.8,72.2L324.5,72.5L324.2,72.7L324.0,72.8L323.8,73.1L323.5,73.3L323.2,73.5L322.9,73.8L322.6,74.0L322.2,74.2L322.0,74.4L321.8,74.6L321.5,74.9L321.2,75.1L321.0,75.4L320.8,75.6L320.5,75.9L320.2,76.2L320.0,76.5L319.8,76.7L319.6,77.0L319.5,77.2L319.2,77.7L319.1,78.0L319.0,78.2L318.8,78.8L318.7,79.0L318.5,79.5L318.4,79.8L318.2,80.1L318.0,80.5L317.8,80.8L317.7,81.0L317.5,81.2L317.2,81.5L317.0,81.8L316.6,82.0L316.3,82.2L316.0,82.4L315.5,82.5L315.2,82.6L315.0,83.0L314.9,83.2L314.8,83.7L314.6,84.0L314.5,84.3L314.3,84.8L314.1,85.0L313.9,85.2L313.7,85.5L313.5,85.8L313.2,86.0L313.0,86.3L312.8,86.6L312.5,86.9L312.2,87.1L312.0,87.4L311.8,87.7L311.5,88.0L311.3,88.2L311.0,88.5L310.8,88.7L310.5,89.0L310.2,89.2L310.0,89.3L309.7,89.5L309.3,89.8L309.0,90.0L308.8,90.1L308.5,90.2L308.0,90.5L307.8,90.6L307.5,90.8L307.1,91.0L306.8,91.2L306.5,91.3L306.2,91.5L305.8,91.8L305.5,91.9L305.2,92.1L305.0,92.3L304.6,92.5L304.2,92.7L304.0,92.9L303.8,93.0L303.2,93.2L303.0,93.3L302.6,93.5L302.2,93.6L302.0,93.8L301.6,94.0L301.2,94.2L301.0,94.4L300.8,94.5L300.4,94.8L300.0,95.0L299.8,95.1L299.5,95.2L299.0,95.5L298.8,95.6L298.5,95.8L298.0,96.0L297.8,96.2L297.5,96.3L297.1,96.5L296.8,96.7L296.5,96.8L296.0,96.9L295.5,96.9L295.2,96.7L295.0,96.5L294.6,96.2L294.2,96.2L293.8,96.2L293.5,96.3L293.0,96.5L292.8,96.6L292.5,96.8L292.0,97.0L291.8,97.1L291.3,97.2L291.0,97.3L290.5,97.5L290.2,97.7L290.1,98.0L290.0,98.2L289.8,98.8L289.6,99.0L289.3,99.2L289.0,99.5L288.8,99.6L288.2,99.7L288.0,99.9ZM287.5,98.1L287.0,98.2L286.5,98.1L286.1,98.0L285.8,97.9L285.2,97.8L285.0,97.7L284.5,97.6L284.0,97.5L283.5,97.6L283.0,97.7L282.5,97.7L282.0,97.7L281.5,97.6L281.2,97.5L280.9,97.2L280.5,97.1L280.2,97.0L279.8,96.9L279.2,96.9L278.8,96.9L278.2,96.9L277.8,96.9L277.2,96.9L276.8,96.8L276.5,96.8L276.0,96.7L275.5,96.6L275.0,96.5L274.5,96.5L274.2,96.5L273.8,96.4L273.3,96.2L273.0,96.1L272.7,96.0L272.2,95.8L272.0,95.6L271.8,95.3L271.5,95.0L271.4,94.8L271.3,94.2L271.5,93.8L271.8,93.6L272.0,93.4L272.2,93.2L272.5,93.0L272.8,92.7L272.9,92.2L272.7,92.0L272.2,91.8L272.0,91.7L271.5,91.6L271.0,91.6L270.5,91.5L270.2,91.5L269.8,91.4L269.2,91.3L269.0,91.2L268.6,91.0L268.5,90.8L268.2,90.3L268.1,90.0L268.0,89.7L267.8,89.2L267.7,89.0L267.5,88.7L267.2,88.5L267.0,88.2L266.7,88.0L266.4,87.8L266.2,87.5L266.0,87.2L265.8,86.8L265.5,86.5L265.4,86.2L265.2,85.9L265.0,85.5L264.9,85.2L264.7,85.0L264.5,84.6L264.3,84.2L264.2,84.0L264.0,83.6L263.9,83.2L263.8,82.9L263.7,82.5L263.6,82.0L263.5,81.7L263.5,81.2L263.4,80.8L263.3,80.2L263.2,80.0L263.1,79.5L262.9,79.2L262.8,78.8L262.7,78.5L262.5,78.2L262.4,77.8L262.3,77.2L262.2,77.0L262.0,76.5L262.0,76.2L261.9,75.8L261.8,75.2L261.7,75.0L261.7,74.5L261.6,74.0L261.5,73.5L261.5,73.1L261.4,72.8L261.3,72.2L261.3,71.8L261.2,71.5L261.1,71.0L261.0,70.5L260.9,70.2L260.8,69.8L260.7,69.5L260.5,69.0L260.5,68.8L260.4,68.2L260.2,67.9L260.2,67.5L260.1,67.0L260.0,66.7L260.0,66.2L259.9,65.8L259.8,65.2L259.8,64.8L259.8,64.2L259.8,63.8L259.8,63.2L259.7,63.0L259.6,62.5L259.6,62.0L259.5,61.5L259.5,61.2L259.3,60.8L259.3,60.2L259.3,59.8L259.2,59.5L259.1,59.0L259.1,58.5L259.1,58.0L259.1,57.5L259.1,57.0L259.1,56.5L259.1,56.0L259.0,55.5L259.1,55.0L259.2,54.5L259.2,54.0L259.2,53.7L259.4,53.2L259.5,52.8L259.6,52.5L259.8,52.2L260.0,51.8L260.2,51.5L260.4,51.2L260.7,51.0L261.0,50.8L261.2,50.6L261.5,50.4L261.9,50.2L262.2,50.0L262.5,49.9L262.8,49.7L263.1,49.5L263.3,49.2L263.6,49.0L263.8,48.8L264.2,48.5L264.5,48.2L264.8,48.0L265.0,47.9L265.2,47.7L265.7,47.5L266.0,47.4L266.4,47.2L266.8,47.1L267.2,47.0L267.5,46.9L267.8,46.8L268.2,46.7L268.8,46.6L269.1,46.5L269.5,46.4L270.0,46.4L270.5,46.4L271.0,46.3L271.2,46.2L271.8,46.2L272.2,46.2L272.8,46.2L273.2,46.2L273.5,46.3L274.0,46.3L274.3,46.2L274.8,46.2L275.2,46.2L275.8,46.2L276.2,46.2L276.5,46.3L277.0,46.3L277.2,46.2L277.8,46.2L278.2,46.1L278.8,46.0L279.0,46.0L279.5,46.0L280.0,45.9L280.5,45.9L281.0,45.9L281.5,46.0L282.0,46.0L282.5,46.0L283.0,46.0L283.5,45.9L284.0,45.9L284.5,45.9L285.0,45.9L285.5,45.9L286.0,46.0L286.2,46.0L286.8,46.1L287.2,46.1L287.8,46.2L288.0,46.3L288.5,46.3L289.0,46.4L289.5,46.4L290.0,46.5L290.4,46.5L290.8,46.5L291.2,46.6L291.8,46.7L292.2,46.7L292.5,46.8L293.0,46.8L293.2,46.7L293.8,46.7L294.2,46.6L294.8,46.5L295.2,46.5L295.8,46.6L296.2,46.8L296.5,46.9L296.9,47.0L297.2,47.1L297.8,47.1L298.2,47.2L298.5,47.2L299.0,47.3L299.5,47.3L300.0,47.3L300.2,47.2L300.8,47.0L301.0,46.9L301.5,46.8L301.8,46.7L302.2,46.6L302.8,46.6L303.2,46.7L303.7,46.8L304.0,46.8L304.4,47.0L304.8,47.1L305.2,47.2L305.8,47.2L306.2,47.1L306.8,47.0L307.0,47.0L307.5,46.9L308.0,46.8L308.3,46.8L308.8,46.7L309.2,46.7L309.8,46.7L310.2,46.7L310.6,46.8L311.0,46.9L311.5,47.0L311.8,47.0L312.2,47.0L312.8,47.0L313.0,47.0L313.5,47.0L314.0,46.9L314.5,47.0L314.8,47.1L315.2,47.1L315.8,47.2L316.2,47.2L316.5,47.3L317.0,47.5L317.2,47.6L317.8,47.7L318.1,47.8L318.5,47.9L318.9,48.0L319.2,48.1L319.8,48.2L320.0,48.3L320.5,48.4L321.0,48.4L321.4,48.5L321.8,48.6L322.2,48.5L322.8,48.6L323.2,48.7L323.5,48.8L324.0,48.9L324.3,49.0L324.8,49.2L325.0,49.3L325.4,49.5L325.7,49.8L326.0,49.9L326.2,50.1L326.5,50.3L326.9,50.5L327.2,50.7L327.5,50.8L328.0,51.0L328.2,51.1L328.8,51.2L329.0,51.4L329.2,51.5L329.8,51.7L330.0,51.8L330.2,52.0L330.5,52.3L330.8,52.6L331.0,53.0L331.2,53.2L331.4,53.5L331.5,53.8L331.7,54.2L331.8,54.5L332.0,54.9L332.1,55.2L332.2,55.7L332.3,56.0L332.4,56.5L332.5,57.0L332.5,57.2L332.5,57.7L332.5,58.0L332.4,58.5L332.2,58.8L332.1,59.2L332.0,59.8L332.0,60.1L331.9,60.5L331.9,61.0L331.8,61.5L331.7,61.8L331.6,62.2L331.5,62.6L331.4,63.0L331.2,63.4L331.2,63.8L331.0,64.2L331.0,64.5L330.8,65.0L330.8,65.3L330.5,65.7L330.3,66.0L330.1,66.2L329.9,66.5L329.7,66.8L329.4,67.0L329.1,67.2L328.9,67.5L328.6,67.8L328.4,68.0L328.1,68.2L327.8,68.5L327.6,68.8L327.3,69.0L327.0,69.2L326.8,69.4L326.5,69.5L326.2,69.8L325.9,70.0L325.6,70.2L325.3,70.5L325.0,70.7L324.8,70.9L324.5,71.1L324.2,71.4L324.0,71.6L323.8,71.8L323.5,72.0L323.2,72.3L323.0,72.6L322.8,72.8L322.5,73.0L322.2,73.2L321.9,73.5L321.5,73.8L321.3,74.0L321.0,74.2L320.8,74.5L320.5,74.7L320.2,74.9L320.0,75.1L319.8,75.3L319.5,75.6L319.2,75.9L319.0,76.1L318.8,76.5L318.6,76.8L318.5,77.1L318.3,77.5L318.2,77.8L318.1,78.2L318.0,78.6L317.8,79.0L317.7,79.2L317.5,79.5L317.2,79.9L317.0,80.1L316.8,80.3L316.2,80.5L316.0,80.5L315.5,80.6L315.0,80.7L314.8,80.8L314.5,81.0L314.2,81.2L314.0,81.5L313.8,82.0L313.7,82.2L313.5,82.8L313.4,83.0L313.3,83.5L313.2,83.8L313.0,84.1L312.8,84.5L312.6,84.8L312.4,85.0L312.2,85.2L312.0,85.6L311.8,85.9L311.5,86.2L311.3,86.5L311.1,86.8L311.0,87.0L310.8,87.3L310.5,87.5L310.2,87.8L310.0,88.0L309.8,88.3L309.4,88.5L309.0,88.8L308.8,88.9L308.5,89.0L308.1,89.2L307.8,89.4L307.3,89.5L307.0,89.6L306.7,89.8L306.2,89.9L306.0,90.0L305.6,90.2L305.3,90.5L305.0,90.7L304.8,90.8L304.5,91.1L304.2,91.3L303.9,91.5L303.5,91.7L303.2,91.9L303.0,92.0L302.5,92.2L302.2,92.3L301.8,92.5L301.5,92.6L301.1,92.8L300.8,92.9L300.3,93.0L300.0,93.1L299.5,93.2L299.0,93.2L298.5,93.2L298.0,93.1L297.5,93.0L297.0,93.0L296.5,93.0L296.0,93.1L295.7,93.2L295.2,93.5L295.0,93.7L294.8,93.8L294.5,94.0L294.0,94.2L293.8,94.4L293.4,94.5L293.0,94.7L292.7,94.8L292.2,94.9L292.0,95.0L291.5,95.1L291.0,95.1L290.5,95.2L290.0,95.2L289.6,95.2L289.2,95.4L288.9,95.5L288.7,95.8L288.5,96.0L288.3,96.5L288.2,96.8L288.0,97.2L287.9,97.5L287.8,97.8L287.5,98.1ZM280.0,95.0L279.5,95.1L279.0,95.1L278.5,95.2L278.0,95.1L277.5,95.0L277.2,95.0L276.8,94.9L276.2,94.8L276.0,94.7L275.5,94.7L275.2,94.8L274.8,94.8L274.5,94.7L274.4,94.2L274.5,94.0L274.8,93.6L274.9,93.2L275.0,93.0L275.1,92.5L275.2,92.0L275.1,91.5L275.0,91.1L274.8,90.8L274.5,90.5L274.2,90.4L273.8,90.4L273.2,90.4L272.8,90.3L272.2,90.3L271.8,90.3L271.5,90.2L271.0,90.1L270.8,90.0L270.3,89.8L270.0,89.5L269.8,89.2L269.6,89.0L269.4,88.8L269.2,88.5L269.0,88.1L268.8,87.8L268.6,87.5L268.4,87.2L268.2,87.0L267.9,86.8L267.7,86.5L267.4,86.2L267.1,86.0L266.9,85.8L266.7,85.5L266.4,85.2L266.2,85.0L265.9,84.8L265.6,84.5L265.3,84.2L265.1,84.0L264.9,83.8L264.7,83.5L264.5,83.0L264.4,82.8L264.3,82.2L264.2,82.0L264.2,81.5L264.2,81.0L264.1,80.5L264.0,80.0L263.9,79.8L263.8,79.3L263.6,79.0L263.5,78.8L263.3,78.2L263.1,78.0L263.0,77.8L262.9,77.2L262.8,76.9L262.6,76.5L262.5,76.2L262.5,75.8L262.4,75.2L262.3,74.8L262.3,74.2L262.2,74.0L262.1,73.5L262.1,73.0L262.0,72.5L262.0,72.2L261.9,71.8L261.8,71.2L261.7,71.0L261.6,70.5L261.5,70.2L261.3,69.8L261.2,69.5L261.0,69.0L261.0,68.8L260.9,68.2L260.8,67.9L260.6,67.5L260.6,67.0L260.5,66.7L260.4,66.2L260.4,65.8L260.3,65.2L260.4,64.8L260.4,64.2L260.3,63.8L260.4,63.2L260.4,62.8L260.3,62.2L260.3,61.8L260.3,61.2L260.2,61.0L260.2,60.5L260.2,60.1L260.3,59.8L260.2,59.5L260.2,59.0L260.2,58.5L260.2,58.0L260.2,57.5L260.2,57.0L260.1,56.5L260.0,56.0L260.0,55.8L260.0,55.2L260.0,55.0L260.0,54.5L260.0,54.0L260.1,53.5L260.2,53.1L260.4,52.8L260.6,52.5L260.8,52.2L261.0,52.0L261.4,51.8L261.8,51.6L262.0,51.5L262.4,51.2L262.8,51.0L263.0,50.9L263.2,50.7L263.5,50.5L263.8,50.2L264.0,50.0L264.3,49.8L264.6,49.5L264.8,49.2L265.1,49.0L265.4,48.8L265.7,48.5L266.0,48.3L266.2,48.2L266.7,48.0L267.0,47.9L267.3,47.8L267.8,47.6L268.0,47.5L268.5,47.4L269.0,47.3L269.2,47.2L269.8,47.1L270.2,47.1L270.8,47.0L271.0,47.0L271.5,46.8L272.0,46.8L272.5,46.8L273.0,46.9L273.5,46.9L274.0,46.9L274.5,46.9L275.0,46.9L275.5,46.9L276.0,47.0L276.2,47.0L276.8,47.1L277.2,47.1L277.8,47.1L278.2,47.0L278.5,46.9L279.0,46.8L279.5,46.8L279.8,46.7L280.2,46.7L280.8,46.7L281.2,46.7L281.6,46.8L282.0,46.8L282.2,46.7L282.8,46.7L283.2,46.7L283.8,46.7L284.2,46.6L284.8,46.6L285.2,46.7L285.8,46.7L286.0,46.8L286.5,46.9L287.0,47.0L287.2,47.1L287.8,47.2L288.0,47.3L288.5,47.4L289.0,47.5L289.5,47.5L290.0,47.5L290.2,47.5L290.8,47.6L291.2,47.7L291.5,47.8L292.0,47.9L292.4,48.0L292.8,48.1L293.2,48.2L293.8,48.2L294.2,48.2L294.8,48.2L295.2,48.1L295.8,48.1L296.2,48.2L296.8,48.2L297.2,48.2L297.8,48.2L298.2,48.2L298.8,48.2L299.2,48.2L299.8,48.2L300.2,48.1L300.8,48.0L301.0,47.9L301.5,47.8L301.8,47.7L302.2,47.6L302.8,47.6L303.2,47.6L303.7,47.8L304.0,47.8L304.4,48.0L304.8,48.1L305.2,48.1L305.8,48.1L306.2,48.0L306.5,48.0L307.0,47.8L307.4,47.8L307.8,47.6L308.2,47.5L308.5,47.5L309.0,47.4L309.5,47.4L310.0,47.5L310.3,47.5L310.8,47.7L311.0,47.8L311.5,47.9L312.0,48.0L312.5,48.0L313.0,48.0L313.5,47.9L314.0,47.8L314.5,47.9L315.0,47.9L315.5,47.9L316.0,47.9L316.3,48.0L316.8,48.2L317.1,48.2L317.5,48.4L318.0,48.5L318.2,48.6L318.6,48.8L319.0,48.9L319.3,49.0L319.8,49.2L320.0,49.3L320.5,49.5L320.8,49.5L321.2,49.7L321.7,49.8L322.0,49.8L322.5,49.8L323.0,49.8L323.5,49.9L324.0,50.0L324.2,50.1L324.6,50.2L324.9,50.5L325.2,50.8L325.5,51.0L325.8,51.1L326.0,51.3L326.3,51.5L326.8,51.7L327.0,51.8L327.4,52.0L327.8,52.1L328.2,52.2L328.5,52.4L328.9,52.5L329.2,52.6L329.5,52.8L329.8,53.0L330.0,53.3L330.2,53.5L330.5,53.9L330.7,54.2L330.9,54.5L331.0,54.8L331.2,55.2L331.3,55.5L331.5,56.0L331.5,56.2L331.6,56.8L331.7,57.2L331.6,57.8L331.5,58.2L331.5,58.5L331.3,59.0L331.2,59.2L331.1,59.8L331.0,60.2L331.0,60.6L330.9,61.0L330.8,61.5L330.7,61.8L330.6,62.2L330.5,62.5L330.3,63.0L330.2,63.2L330.1,63.8L330.1,64.2L330.1,64.8L330.0,65.0L329.8,65.4L329.5,65.8L329.4,66.0L329.1,66.2L328.8,66.5L328.5,66.7L328.2,67.0L328.0,67.2L327.8,67.4L327.5,67.7L327.2,67.9L327.0,68.1L326.8,68.3L326.2,68.5L326.0,68.5L325.5,68.5L325.2,68.5L324.8,68.3L324.5,68.2L324.2,68.2L324.0,68.8L324.0,69.0L323.8,69.4L323.6,69.8L323.5,70.0L323.2,70.5L323.0,70.8L322.8,71.0L322.6,71.2L322.4,71.5L322.2,71.8L321.9,72.0L321.7,72.2L321.4,72.5L321.0,72.8L320.8,72.9L320.5,73.1L320.2,73.3L319.9,73.5L319.5,73.7L319.2,73.9L319.0,74.0L318.7,74.2L318.5,74.5L318.2,74.8L318.0,75.0L317.8,75.4L317.6,75.8L317.5,76.2L317.5,76.5L317.5,77.0L317.4,77.5L317.3,78.0L317.2,78.3L317.0,78.7L316.8,78.9L316.5,79.1L316.0,79.2L315.5,79.2L315.0,79.2L314.5,79.2L314.2,79.3L313.8,79.5L313.5,79.7L313.2,79.9L313.0,80.2L312.8,80.5L312.7,80.8L312.5,81.1L312.4,81.5L312.2,81.8L312.1,82.2L312.0,82.5L311.8,82.9L311.5,83.2L311.3,83.5L311.1,83.8L310.9,84.0L310.8,84.3L310.5,84.7L310.4,85.0L310.2,85.3L310.1,85.8L310.0,86.1L309.8,86.5L309.6,86.8L309.4,87.0L309.1,87.2L308.8,87.5L308.5,87.6L308.0,87.8L307.8,87.8L307.4,87.8L307.0,87.6L306.8,87.5L306.3,87.2L306.0,87.1L305.5,87.1L305.0,87.2L304.8,87.4L304.5,87.6L304.2,87.9L304.1,88.2L304.0,88.5L303.8,89.0L303.6,89.2L303.5,89.5L303.2,89.8L303.0,90.1L302.8,90.4L302.5,90.6L302.2,90.8L301.9,91.0L301.5,91.1L301.1,91.2L300.8,91.3L300.2,91.4L299.8,91.5L299.2,91.5L299.0,91.5L298.5,91.5L298.0,91.5L297.5,91.5L297.2,91.5L296.8,91.4L296.2,91.3L296.0,91.2L295.5,91.1L295.2,91.0L294.8,90.9L294.2,90.8L294.0,90.7L293.5,90.7L293.0,90.7L292.6,90.8L292.2,90.9L292.0,91.2L292.0,91.5L292.0,91.8L292.1,92.2L292.0,92.8L291.9,93.0L291.7,93.2L291.2,93.5L291.0,93.6L290.5,93.6L290.0,93.7L289.5,93.7L289.0,93.7L288.5,93.7L288.2,93.8L287.8,93.8L287.2,93.8L286.8,93.9L286.2,94.0L286.0,94.1L285.6,94.2L285.2,94.4L285.0,94.6L284.5,94.7L284.2,94.8L283.8,94.8L283.2,94.8L283.0,94.7L282.5,94.7L282.0,94.7L281.5,94.7L281.2,94.8L280.8,94.9L280.2,95.0L280.0,95.0ZM279.2,93.3L278.8,93.4L278.2,93.5L277.8,93.4L277.5,93.2L277.2,93.0L277.0,92.8L276.8,92.3L276.7,92.0L276.6,91.5L276.6,91.0L276.6,90.5L276.5,90.2L276.4,89.8L276.2,89.5L276.0,89.2L275.8,88.9L275.5,88.7L275.1,88.5L274.8,88.4L274.2,88.4L273.8,88.5L273.5,88.6L273.0,88.7L272.8,88.8L272.2,88.8L271.8,88.8L271.5,88.7L271.2,88.5L271.0,88.2L270.7,88.0L270.5,87.5L270.5,87.2L270.4,86.8L270.4,86.2L270.5,86.0L270.6,85.5L270.6,85.0L270.6,84.5L270.5,84.2L270.2,83.9L270.0,83.7L269.7,83.5L269.2,83.3L269.0,83.2L268.5,83.1L268.0,83.1L267.5,83.0L267.2,83.0L266.8,82.9L266.2,82.8L266.0,82.7L265.7,82.5L265.5,82.2L265.3,81.8L265.2,81.5L265.2,81.0L265.1,80.5L265.0,80.2L264.9,79.8L264.8,79.4L264.5,79.0L264.4,78.8L264.2,78.5L264.0,78.1L263.8,77.8L263.7,77.5L263.5,77.1L263.4,76.8L263.2,76.5L263.1,76.0L263.1,75.5L263.0,75.2L262.9,74.8L262.9,74.2L262.9,73.8L263.0,73.2L263.0,72.8L262.9,72.2L262.8,71.8L262.7,71.5L262.5,71.2L262.3,70.8L262.2,70.5L262.0,70.1L261.9,69.8L261.8,69.5L261.5,69.0L261.5,68.8L261.3,68.2L261.2,68.0L261.1,67.5L261.0,67.0L261.0,66.8L260.8,66.2L260.8,65.8L260.8,65.2L260.8,64.8L260.9,64.2L260.9,63.8L261.0,63.2L261.0,63.0L261.1,62.5L261.1,62.0L261.2,61.6L261.3,61.2L261.4,60.8L261.5,60.3L261.6,60.0L261.6,59.5L261.7,59.0L261.7,58.5L261.7,58.0L261.7,57.5L261.7,57.0L261.7,56.5L261.6,56.0L261.6,55.5L261.6,55.0L261.5,54.5L261.5,54.2L261.5,53.9L261.7,53.5L261.8,53.2L262.0,53.0L262.3,52.8L262.6,52.5L262.9,52.2L263.2,52.0L263.5,51.8L263.8,51.5L264.0,51.3L264.2,51.1L264.5,50.9L264.8,50.7L265.0,50.5L265.3,50.2L265.6,50.0L265.9,49.8L266.2,49.5L266.5,49.4L266.8,49.2L267.2,49.0L267.5,48.8L267.8,48.7L268.1,48.5L268.5,48.3L268.8,48.2L269.2,48.0L269.5,47.9L270.0,47.8L270.5,47.8L270.8,47.7L271.2,47.6L271.8,47.5L272.2,47.5L272.8,47.5L273.2,47.5L273.8,47.5L274.2,47.5L274.8,47.5L275.2,47.6L275.8,47.7L276.0,47.8L276.5,47.9L277.0,48.0L277.2,48.0L277.8,48.1L278.2,48.1L278.8,48.1L279.2,48.0L279.5,48.0L280.0,47.9L280.5,47.9L281.0,47.9L281.5,47.9L282.0,47.9L282.5,47.9L283.0,47.9L283.5,47.9L284.0,47.9L284.5,47.9L285.0,48.0L285.2,48.0L285.8,48.2L286.0,48.4L286.2,48.6L286.5,48.9L286.7,49.2L286.8,49.5L286.8,50.0L286.8,50.5L287.0,51.0L287.2,51.2L287.5,51.3L288.0,51.3L288.2,51.2L288.7,51.0L289.0,50.8L289.2,50.6L289.5,50.3L289.8,50.0L290.0,49.8L290.2,49.5L290.5,49.4L291.0,49.3L291.5,49.3L292.0,49.4L292.3,49.5L292.8,49.6L293.2,49.8L293.5,49.8L294.0,49.8L294.5,49.8L295.0,49.8L295.2,49.7L295.8,49.6L296.2,49.5L296.5,49.4L297.0,49.3L297.3,49.2L297.8,49.2L298.2,49.1L298.8,49.1L299.2,49.0L299.6,49.0L300.0,49.0L300.5,48.9L301.0,48.8L301.4,48.8L301.8,48.7L302.2,48.6L302.8,48.6L303.2,48.7L303.5,48.8L304.0,48.9L304.5,48.9L305.0,48.9L305.5,48.9L306.0,48.8L306.5,48.8L306.8,48.7L307.2,48.6L307.8,48.5L308.0,48.5L308.5,48.4L309.0,48.3L309.5,48.3L310.0,48.4L310.4,48.5L310.8,48.6L311.1,48.8L311.5,48.8L312.0,48.9L312.5,49.0L313.0,49.0L313.5,48.9L314.0,48.9L314.5,48.9L315.0,48.9L315.5,48.9L316.0,48.9L316.5,49.0L316.8,49.1L317.2,49.2L317.5,49.3L318.0,49.4L318.3,49.5L318.8,49.7L319.0,49.8L319.5,50.0L319.8,50.1L320.0,50.2L320.5,50.5L320.8,50.6L321.2,50.7L321.5,50.8L322.0,50.9L322.3,51.0L322.8,51.1L323.2,51.2L323.5,51.3L324.0,51.5L324.2,51.6L324.5,51.8L324.9,52.0L325.2,52.2L325.5,52.3L325.9,52.5L326.2,52.7L326.5,52.8L327.0,53.0L327.2,53.1L327.6,53.2L328.0,53.4L328.2,53.5L328.7,53.8L329.0,54.0L329.2,54.2L329.5,54.4L329.7,54.8L329.9,55.0L330.1,55.2L330.3,55.5L330.5,56.0L330.5,56.2L330.6,56.8L330.6,57.2L330.6,57.8L330.5,58.0L330.3,58.5L330.2,58.8L330.1,59.2L330.0,59.7L329.9,60.0L329.9,60.5L329.8,60.9L329.6,61.2L329.5,61.6L329.3,62.0L329.2,62.2L329.0,62.6L328.8,63.0L328.6,63.2L328.5,63.5L328.2,63.8L327.9,64.0L327.5,64.1L327.1,64.2L326.8,64.4L326.5,64.5L326.0,64.8L325.8,64.9L325.5,65.0L325.0,65.2L324.5,65.2L324.0,65.2L323.5,65.2L323.2,65.3L322.8,65.4L322.4,65.5L322.0,65.7L321.8,65.8L321.5,66.0L321.2,66.2L320.9,66.5L320.8,66.9L320.8,67.1L320.9,67.5L321.1,67.8L321.2,68.0L321.5,68.5L321.6,68.8L321.7,69.2L321.6,69.8L321.5,70.0L321.2,70.4L321.0,70.6L320.8,70.8L320.4,71.0L320.0,71.1L319.5,71.1L319.0,71.1L318.5,71.1L318.2,71.2L317.9,71.5L317.7,71.8L317.5,72.0L317.2,72.4L317.0,72.8L316.9,73.0L316.7,73.2L316.5,73.5L316.2,73.8L316.0,74.0L315.7,74.2L315.5,74.5L315.2,74.8L314.9,75.0L314.5,75.2L314.2,75.4L314.0,75.6L313.8,75.8L313.5,76.0L313.2,76.2L312.9,76.5L312.6,76.8L312.3,77.0L312.0,77.2L311.8,77.4L311.5,77.7L311.2,77.9L311.0,78.1L310.8,78.4L310.6,78.8L310.5,79.2L310.5,79.8L310.5,80.2L310.4,80.5L310.3,81.0L310.1,81.2L309.9,81.5L309.5,81.7L309.0,81.7L308.7,81.5L308.4,81.2L308.0,81.1L307.6,81.2L307.3,81.5L307.1,81.8L307.0,82.0L306.8,82.5L307.0,83.0L307.2,83.1L307.5,83.4L307.6,83.8L307.6,84.2L307.5,84.5L307.0,84.7L306.5,84.6L306.0,84.5L305.8,84.5L305.5,84.5L305.0,84.7L304.8,84.8L304.3,85.0L304.0,85.1L303.8,85.3L303.2,85.4L303.0,85.6L302.8,85.8L302.5,86.0L302.2,86.3L302.0,86.7L301.8,87.0L301.7,87.2L301.4,87.5L301.0,87.7L300.5,87.6L300.2,87.4L299.9,87.2L299.5,87.0L299.2,86.8L299.0,86.6L298.8,86.5L298.5,86.2L298.2,85.9L298.1,85.5L298.0,85.2L298.0,84.8L298.0,84.5L298.2,84.0L298.4,83.8L298.7,83.5L299.0,83.4L299.3,83.5L299.8,83.7L300.0,83.9L300.2,84.1L300.6,84.2L301.0,84.5L301.2,84.6L301.8,84.7L302.2,84.6L302.6,84.5L302.8,84.2L303.0,84.0L303.2,83.5L303.0,83.0L302.8,82.8L302.5,82.6L302.2,82.4L302.0,82.2L301.5,82.0L301.2,81.9L300.9,81.8L300.5,81.7L300.0,81.7L299.5,81.7L299.2,81.8L298.8,81.8L298.5,81.8L298.0,81.6L297.8,81.4L297.5,81.2L297.2,81.0L296.9,80.8L296.6,80.5L296.2,80.3L296.0,80.1L295.8,80.0L295.2,79.9L294.9,80.0L294.7,80.2L294.5,80.8L294.6,81.2L294.8,81.5L295.0,81.9L295.2,82.2L295.5,82.5L295.6,82.8L295.8,83.2L295.8,83.5L295.8,84.0L295.8,84.5L295.7,84.8L295.6,85.2L295.5,85.8L295.5,86.2L295.6,86.8L295.6,87.2L295.5,87.7L295.3,88.0L295.0,88.2L294.8,88.4L294.2,88.5L294.0,88.5L293.5,88.6L293.0,88.6L292.5,88.5L292.2,88.5L291.8,88.4L291.2,88.3L290.8,88.3L290.5,88.2L290.0,88.1L289.5,88.0L289.2,88.0L288.8,87.8L288.5,87.5L288.2,87.3L288.0,87.1L287.8,86.9L287.5,86.7L287.0,86.6L286.7,86.8L286.4,87.0L286.2,87.2L286.0,87.8L286.1,88.2L286.3,88.5L286.5,88.8L286.9,89.0L287.2,89.2L287.5,89.4L287.8,89.6L288.0,89.9L288.2,90.2L288.3,90.5L288.4,91.0L288.3,91.5L288.1,91.8L287.8,91.9L287.2,92.0L286.8,92.0L286.2,92.0L285.8,91.9L285.2,91.8L285.0,91.7L284.5,91.5L284.2,91.4L284.0,91.2L283.5,91.0L283.2,90.9L282.8,90.8L282.2,90.8L281.8,91.0L281.5,91.1L281.2,91.3L281.0,91.5L280.8,91.8L280.5,92.1L280.2,92.4L280.0,92.7L279.8,93.0L279.5,93.1L279.2,93.3ZM280.5,89.1L280.0,89.2L279.5,89.2L279.0,89.2L278.5,89.1L278.2,89.0L277.8,88.8L277.5,88.5L277.2,88.3L277.0,88.1L276.8,87.8L276.5,87.6L276.2,87.4L276.0,87.2L275.8,87.0L275.3,86.8L275.0,86.6L274.8,86.5L274.2,86.3L274.0,86.2L273.5,86.1L273.2,86.0L273.0,85.8L272.8,85.5L272.6,85.0L272.5,84.8L272.4,84.2L272.3,83.8L272.2,83.5L272.0,83.0L271.8,82.8L271.5,82.5L271.2,82.4L271.0,82.2L270.5,82.1L270.2,82.0L269.8,81.8L269.5,81.7L269.0,81.6L268.8,81.5L268.2,81.3L267.9,81.2L267.5,81.1L267.2,80.9L267.0,80.8L266.8,80.5L266.5,80.2L266.2,79.8L266.1,79.5L265.9,79.2L265.8,78.9L265.5,78.5L265.4,78.2L265.2,77.9L265.1,77.5L265.0,77.2L264.9,76.8L264.8,76.3L264.7,76.0L264.7,75.5L264.7,75.0L264.7,74.5L264.7,74.0L264.6,73.5L264.5,73.1L264.4,72.8L264.2,72.3L264.1,72.0L264.0,71.8L263.8,71.3L263.5,71.0L263.4,70.8L263.2,70.5L263.0,70.1L262.8,69.8L262.6,69.5L262.4,69.2L262.2,68.9L262.0,68.5L261.9,68.2L261.8,67.8L261.6,67.5L261.5,67.1L261.4,66.8L261.3,66.2L261.3,65.8L261.3,65.2L261.4,64.8L261.5,64.2L261.5,64.0L261.6,63.5L261.8,63.1L261.8,62.8L262.0,62.2L262.0,62.0L262.2,61.5L262.3,61.2L262.4,60.8L262.5,60.2L262.6,60.0L262.6,59.5L262.7,59.0L262.7,58.5L262.8,58.2L262.8,57.8L262.9,57.2L263.0,56.8L263.0,56.5L263.0,56.0L263.1,55.5L263.1,55.0L263.1,54.5L263.2,54.0L263.3,53.8L263.5,53.4L263.8,53.0L264.0,52.8L264.2,52.5L264.5,52.3L264.8,52.1L265.0,51.9L265.3,51.8L265.7,51.5L266.0,51.4L266.2,51.2L266.7,51.0L267.0,50.9L267.2,50.7L267.5,50.5L267.8,50.2L268.1,50.0L268.5,49.8L268.8,49.5L269.0,49.4L269.2,49.2L269.6,49.0L270.0,48.9L270.4,48.8L270.8,48.7L271.2,48.6L271.6,48.5L272.0,48.4L272.5,48.4L273.0,48.3L273.5,48.3L274.0,48.3L274.2,48.2L274.8,48.2L275.0,48.3L275.5,48.3L276.0,48.5L276.2,48.6L276.8,48.7L277.0,48.8L277.5,49.0L277.8,49.0L278.2,49.1L278.8,49.1L279.2,49.1L279.8,49.1L280.2,49.0L280.5,49.0L281.0,48.9L281.5,48.9L282.0,49.0L282.2,49.0L282.8,49.2L283.0,49.4L283.2,49.5L283.5,49.8L283.8,50.0L284.0,50.3L284.2,50.7L284.5,51.0L284.6,51.2L284.8,51.5L285.0,52.0L285.1,52.2L285.2,52.5L285.6,52.8L286.0,53.0L286.2,53.1L286.8,53.2L287.0,53.3L287.2,53.2L287.8,53.1L288.1,53.0L288.5,52.8L288.8,52.6L289.0,52.5L289.3,52.2L289.7,52.0L290.0,51.8L290.2,51.7L290.6,51.5L291.0,51.3L291.2,51.2L291.8,51.1L292.2,51.1L292.8,51.1L293.2,51.1L293.8,51.2L294.2,51.1L294.8,51.1L295.2,51.0L295.5,50.9L296.0,50.8L296.2,50.7L296.8,50.5L297.0,50.4L297.5,50.2L297.8,50.2L298.2,50.0L298.5,50.0L299.0,49.9L299.5,49.9L300.0,49.8L300.5,49.8L301.0,49.8L301.5,49.8L302.0,49.8L302.5,49.9L303.0,49.9L303.5,49.9L304.0,49.9L304.5,49.8L304.9,49.8L305.2,49.7L305.8,49.6L306.2,49.6L306.8,49.6L307.2,49.5L307.5,49.5L308.0,49.5L308.5,49.4L309.0,49.4L309.5,49.4L310.0,49.5L310.2,49.6L310.8,49.7L311.0,49.8L311.5,49.9L312.0,50.0L312.2,50.0L312.8,50.1L313.2,50.1L313.8,50.1L314.2,50.1L314.8,50.2L315.2,50.2L315.6,50.2L316.0,50.4L316.5,50.5L316.8,50.5L317.2,50.5L317.8,50.5L318.2,50.6L318.8,50.7L319.0,50.8L319.5,51.0L319.8,51.1L320.1,51.2L320.5,51.5L320.8,51.6L321.0,51.8L321.5,52.0L321.8,52.1L322.0,52.2L322.5,52.5L322.8,52.6L323.2,52.8L323.5,52.8L323.9,53.0L324.2,53.1L324.6,53.2L325.0,53.4L325.3,53.5L325.8,53.7L326.0,53.8L326.3,54.0L326.8,54.2L327.0,54.4L327.2,54.6L327.5,54.8L327.9,55.0L328.1,55.2L328.4,55.5L328.6,55.8L328.8,56.1L328.8,56.5L328.8,57.0L328.7,57.2L328.6,57.8L328.5,58.0L328.3,58.5L328.2,58.8L328.2,59.2L328.1,59.8L328.0,60.2L328.0,60.5L327.8,60.9L327.5,61.2L327.3,61.5L327.0,61.7L326.8,61.9L326.5,62.1L326.2,62.3L325.9,62.5L325.5,62.7L325.2,62.9L325.0,63.0L324.5,63.2L324.2,63.3L323.8,63.5L323.5,63.6L323.0,63.7L322.8,63.8L322.2,64.0L322.0,64.0L321.5,64.2L321.2,64.3L320.8,64.5L320.5,64.7L320.2,64.8L319.8,65.0L319.5,65.1L319.1,65.2L318.8,65.3L318.2,65.4L317.8,65.4L317.2,65.3L316.9,65.2L316.5,65.2L316.0,65.2L315.5,65.2L315.2,65.3L314.8,65.5L314.5,65.6L314.2,65.8L313.8,66.0L313.5,66.1L313.0,66.2L312.8,66.3L312.3,66.2L312.0,66.2L311.5,66.1L311.1,66.0L310.8,66.0L310.2,66.0L309.9,66.0L309.5,66.1L309.0,66.2L308.5,66.2L308.2,66.3L307.8,66.4L307.2,66.4L306.8,66.4L306.2,66.5L305.8,66.5L305.5,66.5L305.0,66.6L304.6,66.8L304.2,67.0L304.0,67.2L303.8,67.4L303.5,67.6L303.2,67.9L303.0,68.0L302.5,68.1L302.0,68.0L301.8,68.0L301.2,67.9L300.8,67.8L300.2,67.8L299.8,68.0L299.5,68.2L299.2,68.4L299.0,68.7L298.8,69.0L298.5,69.2L298.2,69.5L298.0,69.7L297.8,69.8L297.5,70.0L297.0,70.2L296.8,70.4L296.5,70.6L296.2,70.8L296.0,71.0L295.7,71.2L295.4,71.5L295.1,71.8L294.8,72.0L294.5,72.2L294.2,72.5L294.0,72.7L293.8,72.9L293.5,73.0L293.2,73.2L292.9,73.5L292.7,73.8L292.5,74.0L292.2,74.3L292.0,74.7L291.8,75.0L291.6,75.2L291.3,75.5L291.1,75.8L290.8,76.0L290.5,76.2L290.3,76.5L290.1,76.8L290.0,77.2L290.0,77.5L290.0,77.8L290.1,78.2L290.2,78.5L290.5,79.0L290.7,79.2L290.8,79.5L291.0,80.0L291.1,80.2L291.2,80.8L291.3,81.0L291.5,81.3L291.8,81.7L292.0,82.0L292.2,82.2L292.5,82.5L292.8,82.7L293.0,83.0L293.1,83.2L293.2,83.5L293.3,84.0L293.2,84.2L293.0,84.8L292.9,85.0L292.7,85.2L292.4,85.5L292.2,85.8L291.8,86.0L291.5,86.1L291.0,86.2L290.5,86.2L290.0,86.1L289.7,86.0L289.4,85.8L289.1,85.5L288.9,85.2L288.7,85.0L288.5,84.8L288.2,84.5L288.0,84.2L287.7,84.0L287.2,83.9L286.8,83.9L286.4,84.0L286.1,84.2L285.8,84.5L285.5,84.8L285.2,85.0L285.0,85.1L284.7,85.2L284.2,85.3L283.8,85.3L283.2,85.3L282.8,85.3L282.5,85.6L282.4,86.0L282.4,86.5L282.3,87.0L282.2,87.3L282.1,87.8L281.9,88.0L281.8,88.3L281.5,88.5L281.2,88.8L280.8,89.0L280.5,89.1ZM304.2,70.6L303.8,70.5L303.7,70.2L303.8,70.0L304.0,69.7L304.2,69.8L304.5,70.2L304.5,70.3L304.2,70.6ZM299.8,79.3L299.2,79.4L298.8,79.4L298.2,79.3L298.0,79.2L297.7,79.0L297.4,78.8L297.1,78.5L296.9,78.2L296.7,78.0L296.5,77.8L296.2,77.5L296.0,77.2L295.8,76.9L295.5,76.6L295.2,76.3L295.0,76.0L294.8,75.8L294.6,75.5L294.5,75.2L294.4,74.8L294.5,74.2L294.7,74.0L295.0,73.8L295.2,73.6L295.7,73.5L296.0,73.4L296.5,73.3L296.8,73.2L297.2,73.1L297.8,73.0L298.0,73.0L298.5,73.0L298.8,73.0L299.2,73.1L299.7,73.2L300.0,73.4L300.5,73.5L301.0,73.5L301.5,73.5L301.8,73.5L302.2,73.7L302.4,74.0L302.3,74.5L302.1,74.8L301.8,75.0L301.5,75.2L301.3,75.5L301.2,75.8L301.1,76.2L301.0,76.8L301.0,77.2L301.0,77.7L301.0,78.0L300.8,78.5L300.6,78.8L300.3,79.0L300.0,79.2L299.8,79.3ZM307.8,76.8L307.2,76.9L306.8,76.8L306.5,76.7L306.2,76.4L306.0,76.0L306.2,75.6L306.5,75.4L307.0,75.3L307.5,75.3L308.0,75.5L308.2,75.7L308.4,76.0L308.2,76.4L308.0,76.7L307.8,76.8ZM276.0,84.5L275.7,84.5L275.2,84.3L275.0,84.1L274.8,83.8L274.7,83.5L274.6,83.0L274.6,82.5L274.5,82.0L274.5,81.8L274.3,81.2L274.2,81.0L274.0,80.6L273.8,80.3L273.5,80.1L273.2,79.9L273.0,79.7L272.6,79.5L272.2,79.4L271.8,79.3L271.2,79.4L270.8,79.5L270.2,79.4L269.8,79.3L269.5,79.1L269.2,78.8L269.0,78.5L268.9,78.2L268.7,78.0L268.5,77.5L268.4,77.2L268.2,77.0L268.0,76.7L267.8,76.4L267.5,76.1L267.2,75.8L267.1,75.5L266.9,75.2L266.8,75.0L266.5,74.6L266.3,74.2L266.2,74.0L266.0,73.6L265.8,73.2L265.7,73.0L265.5,72.6L265.3,72.2L265.2,72.0L265.0,71.7L264.8,71.3L264.6,71.0L264.4,70.8L264.2,70.5L264.0,70.0L263.9,69.8L263.7,69.5L263.5,69.1L263.3,68.8L263.1,68.5L263.0,68.2L262.8,67.8L262.6,67.5L262.5,67.2L262.4,66.8L262.2,66.3L262.2,66.0L262.2,65.5L262.2,65.0L262.2,64.5L262.3,64.2L262.4,63.8L262.5,63.3L262.6,63.0L262.7,62.5L262.8,62.2L262.9,61.8L263.0,61.3L263.1,61.0L263.2,60.5L263.2,60.1L263.3,59.8L263.4,59.2L263.4,58.8L263.5,58.3L263.6,58.0L263.7,57.5L263.8,57.2L263.9,56.8L264.0,56.3L264.1,56.0L264.2,55.5L264.3,55.2L264.5,54.8L264.5,54.5L264.8,54.1L265.0,53.8L265.2,53.5L265.5,53.3L265.8,53.1L266.0,52.9L266.3,52.8L266.8,52.5L267.0,52.4L267.2,52.2L267.6,52.0L267.9,51.8L268.2,51.5L268.4,51.2L268.7,51.0L269.0,50.8L269.2,50.5L269.5,50.3L269.8,50.1L270.0,50.0L270.5,49.8L270.8,49.7L271.2,49.6L271.5,49.5L272.0,49.4L272.5,49.3L272.8,49.2L273.2,49.1L273.8,49.0L274.0,49.0L274.5,48.9L275.0,48.9L275.4,49.0L275.8,49.1L276.2,49.2L276.5,49.4L276.9,49.5L277.2,49.6L277.6,49.8L278.0,49.8L278.5,50.0L278.9,50.0L279.2,50.0L279.8,50.0L280.0,50.0L280.5,49.9L281.0,49.9L281.5,50.0L281.8,50.1L282.1,50.2L282.3,50.5L282.5,50.8L282.7,51.2L282.9,51.5L283.0,51.8L283.2,52.2L283.4,52.5L283.5,52.8L283.8,53.1L284.0,53.4L284.2,53.8L284.4,54.0L284.6,54.2L284.9,54.5L285.2,54.6L285.8,54.6L286.2,54.7L286.8,54.7L287.2,54.6L287.8,54.5L288.0,54.5L288.5,54.2L288.8,54.1L289.0,53.9L289.2,53.7L289.5,53.4L289.8,53.2L290.1,53.0L290.5,52.8L290.8,52.6L291.1,52.5L291.5,52.4L292.0,52.3L292.2,52.2L292.8,52.2L293.2,52.2L293.8,52.2L294.2,52.2L294.8,52.2L295.2,52.0L295.5,52.0L296.0,51.8L296.2,51.7L296.8,51.5L297.0,51.4L297.5,51.2L297.8,51.2L298.2,51.0L298.5,51.0L299.0,50.9L299.5,50.9L300.0,50.9L300.5,51.0L300.8,51.0L301.2,51.1L301.8,51.2L302.2,51.2L302.8,51.2L303.2,51.1L303.6,51.0L304.0,50.9L304.4,50.8L304.8,50.6L305.2,50.5L305.5,50.5L306.0,50.4L306.5,50.4L307.0,50.4L307.5,50.5L308.0,50.5L308.2,50.5L308.8,50.6L309.2,50.6L309.8,50.6L310.2,50.7L310.5,50.8L311.0,50.9L311.5,51.0L311.8,51.1L312.2,51.2L312.5,51.3L313.0,51.5L313.2,51.5L313.7,51.8L314.0,51.9L314.2,52.1L314.5,52.2L315.0,52.5L315.2,52.6L315.8,52.7L316.2,52.7L316.8,52.5L317.0,52.5L317.4,52.2L317.8,52.1L318.2,52.0L318.5,52.0L318.9,52.0L319.2,52.1L319.6,52.2L320.0,52.5L320.2,52.6L320.5,52.8L320.8,53.0L321.1,53.2L321.5,53.5L321.8,53.6L322.0,53.8L322.4,54.0L322.8,54.1L323.1,54.2L323.5,54.4L323.9,54.5L324.2,54.6L324.6,54.8L325.0,54.9L325.2,55.1L325.5,55.3L325.8,55.5L326.0,55.8L326.2,56.1L326.5,56.5L326.5,56.8L326.6,57.2L326.5,57.7L326.4,58.0L326.2,58.5L326.1,58.8L326.0,59.0L325.8,59.5L325.6,59.8L325.4,60.0L325.2,60.3L325.0,60.6L324.8,60.9L324.5,61.1L324.2,61.3L324.0,61.5L323.5,61.8L323.2,61.9L323.0,62.0L322.5,62.2L322.2,62.3L321.8,62.4L321.5,62.5L321.0,62.7L320.8,62.8L320.3,63.0L320.0,63.1L319.7,63.2L319.2,63.5L319.0,63.5L318.5,63.7L318.0,63.7L317.5,63.7L317.0,63.7L316.5,63.7L316.2,63.8L315.8,63.8L315.2,64.0L315.0,64.1L314.5,64.2L314.2,64.3L313.8,64.5L313.5,64.6L313.0,64.6L312.5,64.6L312.0,64.5L311.8,64.5L311.2,64.4L310.8,64.3L310.2,64.4L309.8,64.5L309.5,64.6L309.2,64.8L308.8,64.9L308.5,65.0L308.0,65.2L307.8,65.3L307.2,65.3L306.8,65.4L306.2,65.4L305.8,65.4L305.2,65.4L304.8,65.5L304.5,65.6L304.0,65.8L303.8,65.9L303.5,66.0L303.0,66.2L302.8,66.3L302.2,66.3L301.8,66.3L301.5,66.2L301.0,66.1L300.5,66.0L300.2,66.0L299.8,65.9L299.3,66.0L299.0,66.1L298.5,66.2L298.0,66.2L297.5,66.1L297.2,65.9L297.0,65.8L296.6,65.5L296.2,65.3L296.0,65.1L295.7,65.0L295.2,64.8L295.0,64.8L294.5,64.6L294.0,64.6L293.5,64.7L293.2,64.8L292.8,65.0L292.5,65.2L292.3,65.5L292.2,65.8L292.2,66.1L292.4,66.5L292.5,66.8L292.7,67.2L292.8,67.5L292.9,68.0L293.0,68.2L293.1,68.8L293.1,69.2L293.0,69.6L292.8,69.8L292.2,69.9L291.8,70.0L291.5,70.0L291.0,70.1L290.5,70.2L290.2,70.3L289.8,70.4L289.5,70.5L289.0,70.6L288.7,70.8L288.2,71.0L288.0,71.1L287.7,71.2L287.4,71.5L287.0,71.8L286.8,71.9L286.5,72.1L286.2,72.3L285.9,72.5L285.5,72.8L285.2,73.0L285.0,73.2L284.8,73.5L284.6,73.8L284.4,74.0L284.2,74.5L284.2,74.8L284.0,75.2L284.0,75.5L283.8,76.0L283.7,76.2L283.5,76.6L283.3,77.0L283.2,77.2L283.0,77.6L282.8,78.0L282.8,78.4L282.7,78.8L282.8,79.0L282.9,79.5L283.0,80.0L283.0,80.2L283.1,80.8L283.1,81.2L283.0,81.7L282.8,82.0L282.5,82.2L282.2,82.3L281.8,82.5L281.5,82.6L281.1,82.8L280.8,82.9L280.4,83.0L280.0,83.1L279.5,83.1L279.0,83.1L278.5,83.0L278.0,83.1L277.6,83.2L277.3,83.5L277.1,83.8L276.8,84.0L276.6,84.2L276.2,84.5L276.0,84.5ZM279.8,87.0L279.2,87.2L278.8,87.1L278.5,86.9L278.2,86.7L278.0,86.2L278.2,85.8L278.5,85.7L279.0,85.6L279.4,85.8L279.7,86.0L279.9,86.2L279.9,86.8L279.8,87.0ZM277.2,78.6L276.8,78.7L276.2,78.7L275.8,78.6L275.5,78.5L275.0,78.4L274.6,78.2L274.2,78.2L273.8,78.0L273.5,78.0L273.0,77.8L272.7,77.8L272.2,77.6L271.8,77.5L271.5,77.5L271.0,77.3L270.8,77.2L270.2,77.0L270.0,76.9L269.8,76.7L269.5,76.5L269.2,76.2L268.9,76.0L268.7,75.8L268.5,75.5L268.2,75.2L268.0,75.0L267.8,74.7L267.5,74.3L267.3,74.0L267.1,73.8L267.0,73.5L266.8,73.1L266.5,72.8L266.4,72.5L266.2,72.2L266.0,71.9L265.8,71.5L265.6,71.2L265.4,71.0L265.2,70.7L265.0,70.3L264.9,70.0L264.8,69.7L264.5,69.2L264.4,69.0L264.2,68.7L264.0,68.2L263.9,68.0L263.8,67.6L263.6,67.2L263.5,66.9L263.4,66.5L263.3,66.0L263.2,65.8L263.2,65.2L263.2,64.8L263.2,64.2L263.2,63.8L263.3,63.5L263.3,63.0L263.4,62.5L263.5,62.0L263.5,61.8L263.6,61.2L263.7,60.8L263.8,60.5L263.8,60.0L263.9,59.5L264.0,59.0L264.0,58.8L264.1,58.2L264.2,57.8L264.3,57.5L264.5,57.0L264.6,56.8L264.8,56.5L265.0,56.0L265.1,55.8L265.3,55.5L265.5,55.1L265.7,54.8L265.9,54.5L266.1,54.2L266.4,54.0L266.7,53.8L267.0,53.5L267.2,53.3L267.5,53.1L267.8,52.9L268.0,52.7L268.2,52.5L268.5,52.2L268.8,52.0L269.1,51.8L269.4,51.5L269.7,51.2L270.0,51.0L270.2,50.9L270.6,50.8L271.0,50.6L271.3,50.5L271.8,50.4L272.1,50.2L272.5,50.1L273.0,50.0L273.2,49.9L273.8,49.8L274.0,49.7L274.5,49.6L275.0,49.6L275.5,49.7L275.8,49.8L276.2,49.9L276.5,50.0L277.0,50.2L277.2,50.3L277.8,50.4L278.0,50.5L278.5,50.6L278.9,50.8L279.2,50.8L279.8,50.9L280.2,51.0L280.5,51.0L281.0,51.2L281.2,51.3L281.5,51.6L281.7,52.0L281.9,52.2L282.0,52.5L282.2,52.8L282.5,53.1L282.8,53.4L283.0,53.7L283.2,54.0L283.4,54.2L283.6,54.5L283.8,54.8L284.0,55.1L284.2,55.5L284.3,55.8L284.5,56.0L284.8,56.4L285.0,56.6L285.4,56.5L285.8,56.3L286.0,56.2L286.5,56.1L286.9,56.0L287.2,56.0L287.8,56.0L288.2,56.0L288.5,56.0L288.8,56.0L289.2,55.9L289.5,55.8L289.8,55.5L290.0,55.2L290.2,54.8L290.4,54.5L290.6,54.2L290.9,54.0L291.2,53.8L291.5,53.6L291.8,53.5L292.2,53.4L292.8,53.4L293.2,53.4L293.8,53.4L294.2,53.4L294.8,53.3L295.0,53.2L295.5,53.1L295.8,53.0L296.2,52.8L296.5,52.7L297.0,52.5L297.2,52.4L297.6,52.2L298.0,52.1L298.4,52.0L298.8,52.0L299.2,52.0L299.7,52.0L300.0,52.1L300.5,52.2L300.9,52.2L301.2,52.3L301.8,52.4L302.2,52.4L302.8,52.3L303.0,52.2L303.5,52.1L303.8,52.0L304.2,51.8L304.5,51.7L305.0,51.5L305.2,51.4L305.8,51.3L306.2,51.3L306.8,51.4L307.2,51.5L307.5,51.5L308.0,51.7L308.5,51.7L308.8,51.8L309.2,51.8L309.8,51.8L310.2,51.9L310.8,52.0L311.0,52.1L311.5,52.2L311.8,52.4L312.0,52.5L312.4,52.8L312.8,53.0L313.0,53.1L313.2,53.3L313.5,53.5L313.9,53.8L314.2,53.9L314.5,54.0L315.0,54.2L315.3,54.2L315.8,54.3L316.2,54.4L316.8,54.4L317.1,54.5L317.5,54.6L317.9,54.8L318.2,54.9L318.5,55.0L319.0,55.2L319.5,55.2L319.8,55.3L320.2,55.4L320.5,55.5L321.0,55.7L321.2,55.8L321.8,56.0L322.0,56.0L322.5,56.1L323.0,56.2L323.2,56.3L323.7,56.5L324.0,56.7L324.2,56.9L324.5,57.2L324.6,57.5L324.7,58.0L324.6,58.5L324.5,58.8L324.3,59.2L324.1,59.5L323.9,59.8L323.6,60.0L323.3,60.2L323.0,60.4L322.8,60.5L322.2,60.7L322.0,60.8L321.5,61.0L321.2,61.1L320.8,61.2L320.5,61.4L320.1,61.5L319.8,61.6L319.2,61.7L319.0,61.8L318.5,61.9L318.0,61.9L317.7,62.0L317.2,62.1L316.8,62.2L316.5,62.3L316.1,62.5L315.8,62.6L315.4,62.8L315.0,62.9L314.7,63.0L314.2,63.1L313.8,63.2L313.5,63.3L313.0,63.3L312.5,63.3L312.0,63.2L311.8,63.2L311.2,63.2L310.8,63.1L310.2,63.2L309.8,63.2L309.5,63.3L309.0,63.5L308.8,63.7L308.5,63.8L308.2,64.0L307.8,64.2L307.5,64.3L307.0,64.4L306.5,64.5L306.0,64.5L305.5,64.5L305.0,64.5L304.7,64.5L304.2,64.6L303.8,64.7L303.5,64.8L303.0,65.0L302.8,65.1L302.2,65.1L301.8,65.0L301.5,65.0L301.0,64.8L300.7,64.8L300.2,64.7L299.8,64.6L299.4,64.5L299.0,64.4L298.7,64.2L298.3,64.0L298.1,63.8L297.9,63.5L297.7,63.2L297.4,63.0L297.0,62.8L296.8,62.7L296.2,62.7L296.0,62.8L295.5,62.8L295.0,62.8L294.5,62.8L294.0,62.8L293.5,62.8L293.0,62.9L292.6,63.0L292.2,63.2L292.0,63.3L291.7,63.5L291.3,63.8L291.0,64.0L290.8,64.2L290.5,64.4L290.2,64.6L290.0,65.0L290.0,65.2L289.9,65.8L289.8,66.1L289.5,66.5L289.2,66.7L289.0,66.8L288.5,66.9L288.0,66.8L287.5,66.8L287.0,66.9L286.8,67.1L286.6,67.5L286.5,68.0L286.5,68.2L286.4,68.8L286.3,69.2L286.2,69.5L286.0,69.8L285.8,70.2L285.5,70.5L285.3,70.8L285.1,71.0L284.8,71.2L284.6,71.5L284.4,71.8L284.1,72.0L283.9,72.2L283.7,72.5L283.5,72.8L283.2,73.0L283.0,73.3L282.8,73.7L282.6,74.0L282.5,74.2L282.3,74.8L282.2,75.0L282.0,75.4L281.8,75.8L281.5,76.0L281.2,76.2L281.0,76.3L280.6,76.5L280.2,76.6L279.8,76.7L279.5,76.8L279.1,77.0L278.8,77.2L278.5,77.5L278.3,77.8L278.1,78.0L277.8,78.2L277.5,78.5L277.2,78.6ZM275.0,77.0L274.5,77.0L274.0,77.0L273.7,77.0L273.2,77.0L272.8,76.9L272.2,76.8L272.0,76.7L271.5,76.6L271.2,76.5L270.8,76.3L270.5,76.2L270.2,76.0L269.8,75.8L269.5,75.5L269.2,75.3L269.0,75.0L268.8,74.8L268.5,74.5L268.3,74.2L268.1,74.0L267.9,73.8L267.7,73.5L267.5,73.1L267.2,72.8L267.1,72.5L266.9,72.2L266.8,72.0L266.5,71.6L266.3,71.2L266.1,71.0L266.0,70.8L265.8,70.3L265.6,70.0L265.5,69.8L265.3,69.2L265.1,69.0L265.0,68.7L264.8,68.2L264.7,68.0L264.5,67.5L264.4,67.2L264.3,66.8L264.2,66.5L264.1,66.0L264.0,65.5L264.0,65.1L264.0,64.8L264.0,64.2L264.0,63.8L264.0,63.2L264.0,62.8L264.0,62.5L264.1,62.0L264.1,61.5L264.2,61.0L264.2,60.6L264.3,60.2L264.4,59.8L264.5,59.2L264.5,59.0L264.6,58.5L264.7,58.0L264.8,57.8L265.0,57.3L265.1,57.0L265.3,56.8L265.5,56.4L265.7,56.0L265.9,55.8L266.1,55.5L266.3,55.2L266.5,55.0L266.8,54.7L267.0,54.4L267.2,54.2L267.5,53.9L267.8,53.7L268.0,53.5L268.3,53.2L268.6,53.0L268.9,52.8L269.2,52.5L269.5,52.2L269.8,52.1L270.0,51.9L270.2,51.7L270.7,51.5L271.0,51.4L271.4,51.2L271.8,51.1L272.2,51.0L272.5,50.9L273.0,50.8L273.2,50.7L273.8,50.5L274.0,50.4L274.5,50.3L275.0,50.3L275.5,50.3L276.0,50.4L276.3,50.5L276.8,50.6L277.1,50.8L277.5,50.9L277.8,51.0L278.2,51.2L278.5,51.3L279.0,51.5L279.2,51.6L279.7,51.8L280.0,51.9L280.2,52.1L280.5,52.3L280.8,52.5L281.0,52.8L281.3,53.0L281.5,53.3L281.8,53.5L282.0,53.8L282.2,54.0L282.5,54.3L282.8,54.5L283.0,54.9L283.2,55.2L283.4,55.5L283.6,55.8L283.8,56.1L283.9,56.5L284.1,56.8L284.2,57.1L284.4,57.5L284.6,57.8L284.8,58.0L285.0,58.4L285.2,58.7L285.5,59.0L285.7,59.2L285.8,59.5L285.8,60.0L285.8,60.5L285.8,61.0L285.8,61.5L285.8,62.0L285.9,62.5L286.0,63.0L286.1,63.2L286.2,63.8L286.2,64.2L286.1,64.8L286.0,65.0L285.8,65.5L285.7,65.8L285.5,66.2L285.4,66.5L285.3,67.0L285.2,67.2L285.1,67.8L285.0,68.2L285.0,68.5L284.9,69.0L284.8,69.4L284.6,69.8L284.5,70.0L284.2,70.3L284.0,70.7L283.8,71.0L283.6,71.2L283.4,71.5L283.2,71.8L283.0,72.0L282.7,72.2L282.5,72.5L282.2,72.8L282.0,73.1L281.8,73.5L281.6,73.8L281.4,74.0L281.2,74.2L281.0,74.5L280.7,74.8L280.3,75.0L280.0,75.1L279.6,75.2L279.2,75.4L278.9,75.5L278.5,75.6L278.2,75.8L277.8,76.0L277.5,76.2L277.2,76.3L276.9,76.5L276.5,76.7L276.2,76.8L275.8,76.9L275.2,77.0L275.0,77.0ZM303.8,63.5L303.2,63.6L302.8,63.7L302.2,63.7L301.8,63.7L301.2,63.6L300.9,63.5L300.5,63.4L300.2,63.2L299.8,63.0L299.5,62.8L299.2,62.5L299.0,62.2L298.8,62.0L298.5,61.8L298.2,61.5L298.0,61.4L297.8,61.2L297.2,61.0L297.0,61.0L296.5,61.0L296.2,61.0L295.8,61.2L295.5,61.2L295.0,61.4L294.5,61.5L294.2,61.5L293.8,61.5L293.5,61.5L293.0,61.4L292.5,61.3L292.2,61.2L291.8,61.1L291.5,61.0L291.0,60.8L290.8,60.5L290.6,60.2L290.6,59.8L290.7,59.2L290.8,59.0L291.0,58.5L291.1,58.2L291.2,57.8L291.2,57.5L291.4,57.0L291.5,56.5L291.6,56.2L291.8,55.9L292.0,55.5L292.2,55.2L292.5,55.1L292.8,55.0L293.2,54.9L293.8,54.9L294.2,54.8L294.8,54.8L295.0,54.8L295.5,54.6L295.9,54.5L296.2,54.3L296.5,54.2L296.8,54.0L297.2,53.8L297.5,53.6L297.8,53.4L298.2,53.2L298.5,53.2L299.0,53.1L299.5,53.1L300.0,53.2L300.5,53.2L300.8,53.2L301.2,53.3L301.8,53.3L302.2,53.3L302.6,53.2L303.0,53.2L303.5,53.1L303.9,53.0L304.2,52.9L304.6,52.8L305.0,52.6L305.3,52.5L305.8,52.4L306.2,52.4L306.8,52.5L307.0,52.5L307.5,52.6L308.0,52.7L308.2,52.8L308.8,52.8L309.2,52.8L309.8,52.9L310.2,53.0L310.5,53.0L311.0,53.2L311.2,53.3L311.6,53.5L312.0,53.7L312.2,53.9L312.5,54.1L312.8,54.2L313.2,54.5L313.5,54.7L313.8,54.8L314.1,55.0L314.5,55.2L314.8,55.2L315.2,55.4L315.6,55.5L316.0,55.6L316.2,55.8L316.7,56.0L317.0,56.2L317.2,56.5L317.5,56.7L317.8,56.9L318.0,57.1L318.2,57.3L318.8,57.4L319.1,57.5L319.5,57.5L320.0,57.6L320.5,57.8L320.8,57.8L321.1,58.0L321.5,58.2L321.8,58.4L322.0,58.8L321.8,59.2L321.5,59.4L321.2,59.6L321.0,59.8L320.5,60.0L320.2,60.0L319.8,60.1L319.2,60.2L318.8,60.1L318.2,60.1L317.8,60.2L317.5,60.3L317.2,60.5L316.8,60.8L316.5,61.0L316.2,61.2L316.0,61.3L315.7,61.5L315.2,61.7L315.0,61.8L314.5,62.0L314.2,62.0L313.8,62.1L313.2,62.1L312.8,62.1L312.2,62.1L311.8,62.1L311.2,62.1L310.8,62.1L310.2,62.1L309.8,62.2L309.2,62.2L309.0,62.3L308.5,62.5L308.2,62.6L308.0,62.8L307.7,63.0L307.3,63.2L307.0,63.4L306.5,63.5L306.0,63.5L305.5,63.5L305.0,63.4L304.5,63.4L304.0,63.5L303.8,63.5ZM287.8,60.1L287.2,60.1L286.8,60.0L286.5,59.9L286.2,59.7L286.0,59.2L286.1,58.8L286.2,58.5L286.5,58.2L286.8,58.0L287.2,57.9L287.6,58.0L288.0,58.2L288.2,58.5L288.4,58.8L288.5,59.0L288.5,59.5L288.4,59.8L288.0,60.0L287.8,60.1ZM274.2,76.3L273.8,76.3L273.3,76.2L273.0,76.2L272.5,76.2L272.0,76.0L271.8,76.0L271.2,75.8L271.0,75.7L270.6,75.5L270.2,75.3L270.0,75.1L269.8,74.9L269.5,74.7L269.2,74.4L269.0,74.2L268.8,73.9L268.5,73.6L268.2,73.3L268.0,73.0L267.9,72.8L267.7,72.5L267.5,72.2L267.2,71.8L267.0,71.5L266.9,71.2L266.7,71.0L266.5,70.6L266.3,70.2L266.2,70.0L266.0,69.5L265.9,69.2L265.8,69.0L265.5,68.5L265.4,68.2L265.2,67.8L265.1,67.5L265.0,67.1L264.9,66.8L264.8,66.2L264.7,66.0L264.7,65.5L264.6,65.0L264.6,64.5L264.5,64.0L264.5,63.5L264.5,63.0L264.5,62.5L264.6,62.0L264.6,61.5L264.7,61.0L264.7,60.5L264.8,60.2L264.8,59.8L264.9,59.2L265.0,58.8L265.1,58.5L265.2,58.0L265.3,57.8L265.5,57.4L265.7,57.0L265.9,56.8L266.0,56.5L266.2,56.2L266.5,55.9L266.8,55.6L267.0,55.3L267.2,55.0L267.5,54.8L267.7,54.5L268.0,54.2L268.2,54.0L268.5,53.8L268.8,53.5L269.0,53.3L269.2,53.1L269.5,52.9L269.8,52.7L270.1,52.5L270.5,52.2L270.8,52.1L271.0,52.0L271.5,51.8L271.8,51.7L272.2,51.6L272.6,51.5L273.0,51.4L273.5,51.2L273.8,51.2L274.2,51.0L274.5,51.0L275.0,50.9L275.5,50.9L276.0,51.0L276.2,51.0L276.8,51.2L277.0,51.2L277.5,51.4L277.8,51.5L278.2,51.7L278.5,51.9L278.8,52.0L279.2,52.2L279.5,52.4L279.8,52.6L280.0,52.8L280.2,53.0L280.5,53.2L280.8,53.5L281.1,53.8L281.4,54.0L281.6,54.2L281.9,54.5L282.2,54.8L282.4,55.0L282.6,55.2L282.8,55.5L283.0,55.9L283.2,56.2L283.3,56.5L283.5,56.9L283.7,57.2L283.8,57.5L284.0,57.9L284.2,58.2L284.3,58.5L284.5,58.9L284.6,59.2L284.8,59.5L284.9,60.0L284.9,60.5L285.0,61.0L284.9,61.5L284.9,62.0L284.9,62.5L285.0,63.0L285.0,63.2L285.1,63.8L285.1,64.2L285.1,64.8L285.0,65.1L284.9,65.5L284.8,66.0L284.7,66.2L284.5,66.8L284.4,67.0L284.3,67.5L284.2,67.8L284.1,68.2L284.0,68.7L283.9,69.0L283.8,69.4L283.6,69.8L283.5,70.0L283.2,70.4L283.0,70.8L282.9,71.0L282.7,71.2L282.5,71.5L282.2,71.8L282.0,72.1L281.8,72.4L281.5,72.6L281.2,72.9L281.0,73.2L280.8,73.4L280.5,73.7L280.2,73.9L280.0,74.1L279.7,74.2L279.3,74.5L279.0,74.6L278.7,74.8L278.2,75.0L278.0,75.1L277.6,75.2L277.2,75.4L277.0,75.5L276.5,75.8L276.2,75.9L275.8,76.0L275.5,76.1L275.0,76.2L274.5,76.2L274.2,76.3ZM306.0,62.3L305.5,62.3L305.0,62.3L304.5,62.3L304.0,62.3L303.5,62.4L303.0,62.4L302.5,62.5L302.0,62.4L301.5,62.4L301.1,62.2L300.8,62.1L300.5,62.0L300.2,61.8L299.9,61.5L299.6,61.2L299.3,61.0L299.0,60.8L298.8,60.6L298.5,60.4L298.2,60.2L297.8,60.0L297.5,59.9L297.1,59.8L296.8,59.6L296.3,59.5L296.0,59.5L295.8,59.5L295.2,59.6L294.9,59.8L294.5,59.8L294.2,59.8L293.9,59.5L293.8,59.0L293.9,58.5L294.0,58.1L294.2,57.8L294.4,57.5L294.7,57.2L295.0,57.0L295.2,56.9L295.5,56.7L295.9,56.5L296.2,56.3L296.5,56.1L296.8,55.9L297.0,55.8L297.3,55.5L297.7,55.2L298.0,55.0L298.2,54.8L298.5,54.7L298.8,54.5L299.2,54.4L299.8,54.3L300.0,54.2L300.5,54.2L301.0,54.1L301.5,54.1L302.0,54.1L302.5,54.1L303.0,54.0L303.4,54.0L303.8,54.0L304.2,53.9L304.6,53.8L305.0,53.6L305.5,53.5L305.8,53.4L306.2,53.4L306.8,53.4L307.2,53.5L307.5,53.6L308.0,53.6L308.5,53.7L308.8,53.8L309.2,53.8L309.8,53.9L310.1,54.0L310.5,54.1L310.9,54.2L311.2,54.4L311.5,54.5L311.9,54.8L312.2,54.9L312.5,55.1L312.8,55.2L313.2,55.5L313.5,55.7L313.8,55.8L314.2,56.0L314.5,56.2L314.8,56.3L315.2,56.5L315.5,56.7L315.8,56.9L316.0,57.1L316.2,57.4L316.4,57.8L316.5,58.0L316.6,58.5L316.5,58.8L316.3,59.2L316.2,59.5L316.0,59.8L315.7,60.0L315.5,60.2L315.2,60.5L314.8,60.7L314.5,60.8L314.0,60.9L313.5,60.9L313.0,60.8L312.5,60.8L312.0,60.9L311.5,60.9L311.2,61.0L310.8,61.1L310.2,61.2L309.8,61.2L309.2,61.2L309.0,61.3L308.5,61.3L308.0,61.5L307.8,61.6L307.4,61.8L307.0,62.0L306.8,62.1L306.2,62.2L306.0,62.3ZM275.0,75.5L274.5,75.6L274.0,75.6L273.5,75.6L273.0,75.6L272.5,75.5L272.2,75.4L271.8,75.3L271.5,75.2L271.0,75.0L270.8,74.9L270.5,74.7L270.2,74.5L269.9,74.2L269.6,74.0L269.3,73.8L269.1,73.5L268.9,73.2L268.6,73.0L268.4,72.8L268.2,72.5L268.0,72.1L267.8,71.8L267.6,71.5L267.4,71.2L267.2,71.0L267.0,70.5L266.9,70.2L266.8,70.0L266.5,69.5L266.4,69.2L266.2,68.9L266.1,68.5L266.0,68.2L265.8,67.8L265.7,67.5L265.5,67.0L265.4,66.8L265.3,66.2L265.2,65.9L265.2,65.5L265.1,65.0L265.1,64.5L265.0,64.0L265.0,63.5L265.0,63.2L265.0,62.8L265.0,62.2L265.0,62.0L265.0,61.5L265.1,61.0L265.2,60.5L265.2,60.0L265.3,59.8L265.3,59.2L265.5,58.8L265.5,58.5L265.7,58.0L265.8,57.8L266.0,57.4L266.2,57.0L266.4,56.8L266.6,56.5L266.8,56.2L267.0,56.0L267.2,55.7L267.5,55.4L267.8,55.2L268.0,54.9L268.2,54.6L268.5,54.4L268.8,54.1L269.0,53.9L269.2,53.7L269.5,53.5L269.8,53.2L270.2,53.0L270.5,52.8L270.8,52.7L271.2,52.5L271.5,52.4L271.9,52.2L272.2,52.1L272.8,52.0L273.0,51.9L273.5,51.8L273.8,51.8L274.2,51.6L274.8,51.5L275.0,51.5L275.5,51.5L276.0,51.5L276.2,51.5L276.8,51.7L277.0,51.8L277.5,51.9L277.8,52.0L278.2,52.2L278.5,52.4L278.8,52.6L279.0,52.8L279.3,53.0L279.7,53.2L279.9,53.5L280.2,53.8L280.5,54.0L280.8,54.2L281.0,54.4L281.2,54.6L281.5,54.8L281.8,55.1L282.0,55.3L282.2,55.6L282.5,56.0L282.7,56.2L282.8,56.5L283.0,56.9L283.2,57.2L283.3,57.5L283.5,58.0L283.6,58.2L283.8,58.6L283.9,59.0L284.0,59.2L284.2,59.8L284.2,60.0L284.3,60.5L284.3,61.0L284.3,61.5L284.3,62.0L284.3,62.5L284.3,63.0L284.4,63.5L284.4,64.0L284.4,64.5L284.3,65.0L284.2,65.5L284.2,65.8L284.0,66.2L284.0,66.5L283.8,67.0L283.7,67.2L283.5,67.8L283.5,68.0L283.3,68.5L283.2,68.8L283.1,69.2L283.0,69.5L282.8,69.9L282.6,70.2L282.5,70.5L282.2,70.8L282.0,71.2L281.8,71.5L281.5,71.7L281.3,72.0L281.0,72.2L280.8,72.5L280.5,72.8L280.3,73.0L280.0,73.2L279.8,73.4L279.5,73.6L279.2,73.8L278.9,74.0L278.5,74.2L278.2,74.4L277.9,74.5L277.5,74.7L277.2,74.8L276.8,75.0L276.5,75.1L276.1,75.2L275.8,75.4L275.2,75.5L275.0,75.5ZM303.8,61.3L303.2,61.3L302.8,61.4L302.2,61.4L301.8,61.3L301.5,61.2L301.1,61.0L300.8,60.8L300.5,60.6L300.2,60.4L300.0,60.2L299.7,60.0L299.3,59.8L299.0,59.5L298.8,59.4L298.5,59.2L298.2,58.9L298.0,58.6L297.8,58.2L297.7,58.0L297.7,57.5L297.8,57.2L298.0,56.9L298.2,56.6L298.5,56.3L298.8,56.1L299.0,55.9L299.2,55.7L299.6,55.5L300.0,55.3L300.2,55.2L300.8,55.1L301.0,55.0L301.5,54.9L302.0,54.8L302.5,54.8L302.9,54.8L303.2,54.7L303.8,54.7L304.2,54.7L304.8,54.6L305.2,54.5L305.5,54.4L306.0,54.3L306.5,54.3L307.0,54.4L307.5,54.5L307.8,54.5L308.2,54.6L308.7,54.8L309.0,54.8L309.5,54.9L309.8,55.0L310.2,55.1L310.7,55.2L311.0,55.3L311.4,55.5L311.8,55.7L312.0,55.8L312.3,56.0L312.7,56.2L313.0,56.5L313.2,56.7L313.5,56.9L313.8,57.1L314.0,57.4L314.2,57.8L314.3,58.0L314.2,58.3L314.0,58.6L313.8,58.8L313.2,59.0L313.0,59.0L312.5,59.2L312.2,59.3L311.8,59.5L311.5,59.6L311.2,59.8L310.8,60.0L310.5,60.1L310.0,60.2L309.5,60.2L309.2,60.3L308.8,60.3L308.2,60.3L307.8,60.4L307.3,60.5L307.0,60.6L306.5,60.7L306.2,60.8L305.8,61.0L305.5,61.0L305.0,61.1L304.5,61.1L304.0,61.2L303.8,61.3ZM275.8,74.8L275.2,74.9L274.8,74.9L274.2,75.0L273.8,75.0L273.2,75.0L272.8,74.9L272.2,74.8L272.0,74.7L271.5,74.6L271.2,74.5L270.9,74.2L270.5,74.0L270.2,73.9L270.0,73.7L269.8,73.5L269.5,73.2L269.2,73.0L269.0,72.7L268.8,72.4L268.5,72.1L268.2,71.8L268.1,71.5L267.9,71.2L267.8,71.0L267.5,70.5L267.4,70.2L267.2,70.0L267.0,69.5L266.9,69.2L266.8,68.9L266.6,68.5L266.5,68.2L266.2,67.8L266.1,67.5L266.0,67.1L265.9,66.8L265.8,66.2L265.7,66.0L265.7,65.5L265.6,65.0L265.5,64.5L265.5,64.2L265.5,63.8L265.4,63.2L265.4,62.8L265.4,62.2L265.4,61.8L265.5,61.2L265.5,61.0L265.6,60.5L265.6,60.0L265.7,59.5L265.8,59.2L265.9,58.8L266.0,58.5L266.2,58.0L266.3,57.8L266.5,57.5L266.8,57.1L267.0,56.8L267.2,56.5L267.4,56.2L267.6,56.0L267.8,55.8L268.1,55.5L268.3,55.2L268.5,55.0L268.8,54.8L269.0,54.5L269.3,54.2L269.6,54.0L269.9,53.8L270.2,53.5L270.5,53.3L270.8,53.2L271.2,53.0L271.5,52.9L271.8,52.8L272.2,52.6L272.8,52.5L273.0,52.5L273.5,52.4L274.0,52.2L274.2,52.2L274.8,52.1L275.2,52.0L275.8,52.0L276.2,52.1L276.8,52.2L277.0,52.2L277.5,52.4L277.8,52.5L278.1,52.8L278.5,53.0L278.8,53.2L279.0,53.4L279.2,53.6L279.5,53.8L279.8,54.0L280.1,54.2L280.4,54.5L280.7,54.8L281.0,55.0L281.2,55.2L281.5,55.5L281.7,55.8L281.9,56.0L282.1,56.2L282.3,56.5L282.5,56.9L282.7,57.2L282.8,57.5L283.0,58.0L283.1,58.2L283.2,58.6L283.4,59.0L283.5,59.2L283.7,59.8L283.8,60.1L283.8,60.5L283.8,61.0L283.8,61.5L283.8,62.0L283.8,62.5L283.8,63.0L283.8,63.5L283.8,64.0L283.8,64.5L283.8,65.0L283.7,65.2L283.6,65.8L283.5,66.1L283.4,66.5L283.2,66.8L283.1,67.2L283.0,67.5L282.8,68.0L282.8,68.3L282.6,68.8L282.5,69.0L282.3,69.5L282.2,69.8L282.0,70.1L281.8,70.5L281.6,70.8L281.4,71.0L281.2,71.2L281.0,71.5L280.7,71.8L280.5,72.0L280.2,72.2L280.0,72.5L279.7,72.8L279.4,73.0L279.1,73.2L278.8,73.5L278.5,73.7L278.2,73.8L277.9,74.0L277.5,74.2L277.2,74.3L276.8,74.5L276.5,74.5L276.0,74.7L275.8,74.8ZM303.8,60.3L303.2,60.3L302.8,60.4L302.2,60.3L302.0,60.2L301.5,60.0L301.2,59.8L301.0,59.7L300.8,59.4L300.5,59.2L300.2,58.9L300.0,58.6L299.8,58.2L299.7,58.0L299.7,57.5L299.8,57.2L300.0,56.8L300.2,56.5L300.5,56.3L300.8,56.1L301.0,55.9L301.4,55.8L301.8,55.6L302.2,55.5L302.5,55.5L303.0,55.4L303.5,55.4L304.0,55.4L304.5,55.4L305.0,55.4L305.5,55.3L306.0,55.3L306.5,55.3L307.0,55.4L307.5,55.5L307.8,55.6L308.1,55.8L308.5,55.9L308.8,56.0L309.2,56.2L309.5,56.3L310.0,56.4L310.3,56.5L310.8,56.7L311.0,56.8L311.2,57.0L311.5,57.5L311.2,58.0L311.0,58.2L310.8,58.4L310.5,58.6L310.2,58.8L309.8,59.0L309.5,59.0L309.0,59.1L308.5,59.1L308.0,59.2L307.5,59.2L307.2,59.3L306.8,59.4L306.4,59.5L306.0,59.6L305.6,59.8L305.2,59.9L304.8,60.0L304.5,60.1L304.0,60.2L303.8,60.3ZM275.5,74.3L275.0,74.3L274.5,74.4L274.0,74.4L273.5,74.4L273.0,74.3L272.5,74.3L272.2,74.2L271.8,74.0L271.5,73.9L271.1,73.8L270.8,73.6L270.5,73.4L270.2,73.2L270.0,73.0L269.7,72.8L269.4,72.5L269.2,72.2L269.0,72.0L268.8,71.7L268.5,71.4L268.3,71.0L268.1,70.8L268.0,70.5L267.8,70.0L267.6,69.8L267.5,69.5L267.3,69.0L267.2,68.8L267.0,68.4L266.8,68.0L266.7,67.8L266.5,67.2L266.4,67.0L266.3,66.5L266.2,66.2L266.1,65.8L266.0,65.2L266.0,64.9L266.0,64.5L265.9,64.0L265.9,63.5L265.8,63.0L265.8,62.5L265.8,62.0L265.9,61.5L265.9,61.0L266.0,60.5L266.0,60.2L266.1,59.8L266.2,59.2L266.3,59.0L266.5,58.5L266.6,58.2L266.8,57.9L267.0,57.5L267.2,57.2L267.4,57.0L267.6,56.8L267.8,56.5L268.0,56.2L268.2,55.9L268.5,55.6L268.8,55.4L269.0,55.1L269.2,54.9L269.5,54.6L269.8,54.4L270.0,54.2L270.3,54.0L270.7,53.8L271.0,53.6L271.2,53.4L271.7,53.2L272.0,53.2L272.5,53.0L272.8,53.0L273.2,52.9L273.8,52.8L274.1,52.8L274.5,52.7L275.0,52.6L275.5,52.5L276.0,52.5L276.5,52.6L277.0,52.7L277.2,52.8L277.6,53.0L278.0,53.2L278.2,53.4L278.5,53.6L278.8,53.8L279.1,54.0L279.4,54.2L279.6,54.5L279.9,54.8L280.2,55.0L280.5,55.2L280.8,55.4L281.0,55.6L281.2,55.9L281.5,56.2L281.8,56.5L281.9,56.8L282.1,57.0L282.2,57.3L282.5,57.8L282.6,58.0L282.8,58.4L282.9,58.8L283.0,59.1L283.1,59.5L283.2,59.9L283.3,60.2L283.4,60.8L283.4,61.2L283.4,61.8L283.3,62.2L283.3,62.8L283.3,63.2L283.3,63.8L283.3,64.2L283.3,64.8L283.2,65.0L283.1,65.5L283.0,66.0L282.9,66.2L282.8,66.7L282.6,67.0L282.5,67.3L282.3,67.8L282.2,68.0L282.1,68.5L282.0,68.8L281.8,69.2L281.7,69.5L281.5,69.8L281.3,70.2L281.1,70.5L280.9,70.8L280.7,71.0L280.5,71.2L280.2,71.5L280.0,71.8L279.7,72.0L279.5,72.2L279.2,72.5L278.9,72.8L278.6,73.0L278.2,73.2L278.0,73.4L277.8,73.5L277.3,73.8L277.0,73.9L276.6,74.0L276.2,74.1L275.8,74.2L275.5,74.3ZM304.0,59.3L303.5,59.4L303.0,59.4L302.5,59.3L302.2,59.2L301.9,59.0L301.7,58.8L301.5,58.5L301.3,58.0L301.3,57.5L301.5,57.0L301.7,56.8L302.0,56.5L302.2,56.4L302.6,56.2L303.0,56.2L303.5,56.2L304.0,56.2L304.5,56.2L304.8,56.3L305.2,56.4L305.8,56.5L306.0,56.6L306.4,56.8L306.6,57.0L306.7,57.5L306.5,57.8L306.2,58.0L306.0,58.2L305.6,58.5L305.2,58.7L305.0,58.8L304.7,59.0L304.2,59.2L304.0,59.3ZM275.2,73.8L274.8,73.8L274.2,73.8L273.8,73.8L273.2,73.8L272.9,73.8L272.5,73.7L272.0,73.6L271.8,73.5L271.3,73.2L271.0,73.1L270.8,73.0L270.5,72.8L270.1,72.5L269.8,72.2L269.6,72.0L269.3,71.8L269.1,71.5L268.9,71.2L268.8,71.0L268.5,70.6L268.3,70.2L268.2,70.0L268.0,69.5L267.9,69.2L267.8,69.0L267.5,68.5L267.4,68.2L267.2,67.9L267.0,67.5L266.9,67.2L266.8,66.8L266.7,66.5L266.6,66.0L266.5,65.5L266.5,65.2L266.4,64.8L266.3,64.2L266.3,63.8L266.3,63.2L266.2,63.0L266.2,62.5L266.2,62.1L266.3,61.8L266.3,61.2L266.4,60.8L266.4,60.2L266.5,59.8L266.6,59.5L266.7,59.0L266.8,58.8L267.0,58.4L267.2,58.0L267.4,57.8L267.5,57.5L267.8,57.2L268.0,56.9L268.2,56.6L268.5,56.3L268.8,56.0L269.0,55.8L269.2,55.5L269.4,55.2L269.7,55.0L270.0,54.8L270.2,54.5L270.5,54.4L270.8,54.2L271.1,54.0L271.5,53.8L271.8,53.7L272.2,53.6L272.6,53.5L273.0,53.4L273.5,53.4L274.0,53.3L274.3,53.2L274.8,53.2L275.2,53.1L275.8,53.1L276.2,53.1L276.8,53.2L277.0,53.3L277.5,53.5L277.8,53.6L278.0,53.8L278.3,54.0L278.6,54.2L278.9,54.5L279.2,54.8L279.5,55.0L279.8,55.2L280.0,55.4L280.2,55.6L280.5,55.8L280.8,56.1L281.0,56.3L281.2,56.6L281.5,56.9L281.7,57.2L281.9,57.5L282.0,57.8L282.2,58.2L282.3,58.5L282.5,58.9L282.6,59.2L282.8,59.7L282.8,60.0L282.9,60.5L283.0,61.0L282.9,61.5L282.9,62.0L282.9,62.5L282.9,63.0L282.9,63.5L282.9,64.0L282.8,64.5L282.8,64.9L282.7,65.2L282.5,65.8L282.5,66.0L282.3,66.5L282.2,66.8L282.0,67.2L281.9,67.5L281.8,67.8L281.6,68.2L281.5,68.5L281.3,69.0L281.2,69.2L281.0,69.6L280.8,70.0L280.6,70.2L280.4,70.5L280.2,70.8L280.0,71.0L279.8,71.3L279.5,71.5L279.2,71.8L279.0,72.0L278.8,72.3L278.5,72.5L278.1,72.8L277.8,73.0L277.5,73.1L277.2,73.3L276.8,73.4L276.5,73.5L276.0,73.6L275.5,73.7L275.2,73.8ZM303.8,57.8L303.2,58.0L303.2,57.5L303.5,57.5L303.8,57.7L303.8,57.8ZM274.8,73.3L274.2,73.3L273.8,73.3L273.2,73.3L273.0,73.2L272.5,73.1L272.0,73.0L271.8,72.9L271.4,72.8L271.0,72.5L270.8,72.4L270.5,72.2L270.2,72.0L270.0,71.8L269.7,71.5L269.5,71.2L269.2,70.9L269.0,70.6L268.8,70.2L268.7,70.0L268.5,69.6L268.4,69.2L268.2,69.0L268.0,68.5L267.9,68.2L267.8,68.0L267.5,67.5L267.4,67.2L267.2,66.9L267.1,66.5L267.0,66.0L267.0,65.8L266.9,65.2L266.8,64.8L266.8,64.2L266.7,64.0L266.7,63.5L266.7,63.0L266.7,62.5L266.7,62.0L266.7,61.5L266.8,61.1L266.8,60.8L266.9,60.2L267.0,59.8L267.0,59.5L267.2,59.0L267.3,58.8L267.5,58.4L267.8,58.0L267.9,57.8L268.1,57.5L268.3,57.2L268.5,57.0L268.8,56.7L269.0,56.4L269.2,56.1L269.5,55.8L269.8,55.6L270.0,55.3L270.2,55.1L270.5,54.9L270.8,54.7L271.1,54.5L271.5,54.3L271.8,54.2L272.2,54.1L272.5,54.0L273.0,53.9L273.5,53.9L274.0,53.8L274.5,53.8L274.8,53.7L275.2,53.7L275.8,53.6L276.2,53.7L276.7,53.8L277.0,53.8L277.4,54.0L277.8,54.2L278.0,54.4L278.2,54.6L278.5,54.8L278.8,55.0L279.1,55.2L279.4,55.5L279.6,55.8L279.9,56.0L280.2,56.2L280.5,56.5L280.7,56.8L280.9,57.0L281.1,57.2L281.3,57.5L281.5,57.8L281.7,58.2L281.8,58.5L282.0,58.8L282.2,59.2L282.2,59.5L282.4,60.0L282.5,60.5L282.5,60.8L282.5,61.2L282.5,61.8L282.5,62.0L282.5,62.5L282.4,63.0L282.4,63.5L282.4,64.0L282.3,64.5L282.2,64.9L282.2,65.2L282.0,65.8L281.9,66.0L281.8,66.5L281.6,66.8L281.5,67.1L281.3,67.5L281.2,67.8L281.0,68.2L280.9,68.5L280.8,68.8L280.5,69.2L280.4,69.5L280.2,69.8L280.0,70.1L279.8,70.5L279.5,70.8L279.3,71.0L279.1,71.2L278.8,71.5L278.6,71.8L278.3,72.0L278.0,72.2L277.8,72.4L277.5,72.6L277.2,72.8L276.8,72.9L276.5,73.0L276.0,73.1L275.5,73.2L275.0,73.2L274.8,73.3ZM276.2,72.5L275.8,72.6L275.2,72.7L274.8,72.7L274.2,72.7L273.8,72.7L273.2,72.7L272.8,72.7L272.2,72.5L272.0,72.5L271.5,72.2L271.2,72.1L271.0,71.9L270.7,71.8L270.4,71.5L270.1,71.2L269.9,71.0L269.7,70.8L269.5,70.5L269.2,70.1L269.1,69.8L269.0,69.5L268.8,69.0L268.6,68.8L268.5,68.5L268.3,68.0L268.1,67.8L268.0,67.5L267.8,67.0L267.7,66.8L267.5,66.2L267.5,66.0L267.4,65.5L267.3,65.0L267.2,64.7L267.2,64.2L267.2,63.8L267.2,63.2L267.1,62.8L267.2,62.2L267.2,61.8L267.2,61.2L267.2,60.8L267.3,60.5L267.4,60.0L267.5,59.6L267.6,59.2L267.8,59.0L268.0,58.5L268.2,58.2L268.3,58.0L268.5,57.8L268.8,57.4L269.0,57.1L269.2,56.8L269.5,56.5L269.7,56.2L269.9,56.0L270.2,55.8L270.5,55.5L270.8,55.3L271.0,55.1L271.2,55.0L271.7,54.8L272.0,54.6L272.5,54.5L272.8,54.5L273.2,54.4L273.8,54.4L274.2,54.3L274.8,54.3L275.0,54.2L275.5,54.2L276.0,54.2L276.3,54.2L276.8,54.4L277.1,54.5L277.5,54.7L277.8,54.9L278.0,55.1L278.2,55.3L278.5,55.5L278.8,55.8L279.1,56.0L279.4,56.2L279.7,56.5L280.0,56.8L280.2,57.0L280.4,57.2L280.6,57.5L280.8,57.8L281.0,58.0L281.2,58.4L281.4,58.8L281.5,59.0L281.8,59.5L281.8,59.8L282.0,60.2L282.0,60.5L282.1,61.0L282.1,61.5L282.0,62.0L282.0,62.5L282.0,62.8L282.0,63.2L281.9,63.8L281.9,64.2L281.8,64.8L281.7,65.0L281.6,65.5L281.5,65.8L281.3,66.2L281.2,66.5L281.0,66.9L280.8,67.2L280.7,67.5L280.5,68.0L280.4,68.2L280.2,68.5L280.0,69.0L279.8,69.2L279.7,69.5L279.5,69.8L279.2,70.2L279.0,70.5L278.8,70.8L278.6,71.0L278.4,71.2L278.1,71.5L277.8,71.8L277.5,72.0L277.2,72.2L277.0,72.3L276.5,72.5L276.2,72.5ZM276.0,72.0L275.5,72.1L275.0,72.1L274.5,72.2L274.0,72.2L273.5,72.2L273.0,72.2L272.5,72.1L272.2,72.0L271.8,71.8L271.5,71.7L271.2,71.5L270.9,71.2L270.6,71.0L270.4,70.8L270.2,70.5L270.0,70.2L269.8,69.9L269.5,69.5L269.4,69.2L269.2,68.9L269.1,68.5L268.9,68.2L268.8,67.9L268.6,67.5L268.4,67.2L268.2,66.9L268.1,66.5L268.0,66.2L267.9,65.8L267.8,65.2L267.8,64.9L267.7,64.5L267.7,64.0L267.7,63.5L267.7,63.0L267.7,62.5L267.7,62.0L267.7,61.5L267.8,61.0L267.8,60.8L267.9,60.2L268.0,59.8L268.1,59.5L268.2,59.2L268.5,58.8L268.6,58.5L268.8,58.2L269.0,58.0L269.2,57.6L269.5,57.3L269.7,57.0L269.9,56.8L270.2,56.5L270.4,56.2L270.7,56.0L271.0,55.8L271.2,55.6L271.5,55.4L271.9,55.2L272.2,55.1L272.8,55.0L273.0,55.0L273.5,55.0L274.0,54.9L274.5,54.9L275.0,54.9L275.5,54.8L276.0,54.9L276.5,55.0L276.8,55.1L277.1,55.2L277.5,55.5L277.8,55.7L278.0,55.9L278.2,56.1L278.5,56.3L278.8,56.5L279.0,56.8L279.3,57.0L279.6,57.2L279.8,57.5L280.0,57.8L280.2,58.0L280.5,58.3L280.8,58.7L280.9,59.0L281.0,59.2L281.2,59.7L281.4,60.0L281.5,60.5L281.5,60.8L281.6,61.2L281.6,61.8L281.5,62.2L281.5,62.8L281.5,63.0L281.4,63.5L281.4,64.0L281.3,64.5L281.2,64.8L281.1,65.2L281.0,65.5L280.8,66.0L280.7,66.2L280.5,66.7L280.3,67.0L280.2,67.2L280.0,67.6L279.8,68.0L279.7,68.2L279.5,68.6L279.3,69.0L279.1,69.2L279.0,69.5L278.8,69.9L278.5,70.2L278.3,70.5L278.1,70.8L277.9,71.0L277.6,71.2L277.3,71.5L277.0,71.7L276.8,71.8L276.2,72.0L276.0,72.0ZM275.5,71.5L275.0,71.6L274.5,71.6L274.0,71.6L273.5,71.6L273.0,71.6L272.6,71.5L272.2,71.4L271.9,71.2L271.5,71.0L271.2,70.8L271.0,70.6L270.8,70.3L270.5,70.0L270.3,69.8L270.2,69.5L270.0,69.1L269.8,68.8L269.7,68.5L269.5,68.1L269.3,67.8L269.2,67.5L269.0,67.1L268.8,66.8L268.7,66.5L268.5,66.0L268.4,65.8L268.4,65.2L268.3,64.8L268.3,64.2L268.3,63.8L268.3,63.2L268.3,62.8L268.4,62.2L268.4,61.8L268.4,61.2L268.4,60.8L268.5,60.3L268.6,60.0L268.8,59.6L268.9,59.2L269.1,59.0L269.2,58.7L269.5,58.3L269.7,58.0L269.9,57.8L270.1,57.5L270.3,57.2L270.5,57.0L270.8,56.7L271.0,56.5L271.3,56.2L271.8,56.0L272.0,55.9L272.5,55.8L272.8,55.7L273.2,55.7L273.8,55.6L274.2,55.6L274.8,55.6L275.2,55.6L275.8,55.6L276.2,55.7L276.5,55.8L276.9,56.0L277.2,56.2L277.5,56.4L277.8,56.6L278.0,56.8L278.2,57.0L278.5,57.3L278.8,57.5L279.0,57.8L279.2,58.0L279.5,58.3L279.8,58.6L280.0,58.9L280.2,59.2L280.4,59.5L280.5,59.8L280.8,60.2L280.8,60.5L281.0,61.0L281.0,61.5L281.0,62.0L281.0,62.5L280.9,63.0L280.9,63.5L280.8,64.0L280.7,64.2L280.6,64.8L280.5,65.2L280.4,65.5L280.2,65.8L280.1,66.2L279.9,66.5L279.8,66.8L279.5,67.2L279.3,67.5L279.2,67.8L279.0,68.1L278.8,68.5L278.6,68.8L278.5,69.0L278.2,69.5L278.1,69.8L278.0,70.0L277.8,70.3L277.5,70.6L277.2,70.8L277.0,71.0L276.5,71.2L276.2,71.3L275.8,71.5L275.5,71.5ZM275.8,70.8L275.2,70.9L274.8,70.9L274.2,71.0L273.8,71.0L273.2,71.0L272.8,70.9L272.4,70.8L272.0,70.5L271.8,70.4L271.5,70.1L271.2,69.9L271.0,69.5L270.8,69.2L270.7,69.0L270.5,68.5L270.4,68.2L270.2,68.0L270.0,67.5L269.9,67.2L269.7,67.0L269.5,66.6L269.3,66.2L269.2,66.0L269.1,65.5L269.0,65.0L269.0,64.5L269.1,64.0L269.1,63.5L269.2,63.0L269.3,62.8L269.3,62.2L269.4,61.8L269.4,61.2L269.4,60.8L269.5,60.4L269.6,60.0L269.8,59.7L270.0,59.2L270.1,59.0L270.2,58.7L270.5,58.3L270.7,58.0L270.9,57.8L271.1,57.5L271.3,57.2L271.7,57.0L272.0,56.8L272.2,56.7L272.8,56.6L273.2,56.6L273.8,56.6L274.2,56.6L274.8,56.6L275.2,56.7L275.8,56.7L276.0,56.8L276.5,57.0L276.8,57.1L277.0,57.3L277.3,57.5L277.6,57.8L277.9,58.0L278.2,58.2L278.4,58.5L278.6,58.8L278.8,59.0L279.0,59.2L279.2,59.5L279.5,59.8L279.8,60.2L279.9,60.5L280.0,60.8L280.2,61.2L280.2,61.8L280.2,62.2L280.2,62.8L280.1,63.2L280.1,63.8L280.0,64.1L279.9,64.5L279.8,65.0L279.7,65.2L279.5,65.8L279.4,66.0L279.2,66.3L279.0,66.7L278.8,67.0L278.6,67.2L278.4,67.5L278.2,67.8L278.0,68.2L277.9,68.5L277.7,68.8L277.5,69.2L277.4,69.5L277.2,69.8L277.0,70.0L276.8,70.3L276.4,70.5L276.0,70.7L275.8,70.8ZM274.8,70.0L274.2,70.1L273.8,70.1L273.2,70.1L273.0,70.0L272.5,69.8L272.2,69.6L272.0,69.3L271.8,69.0L271.7,68.8L271.5,68.4L271.4,68.0L271.2,67.7L271.1,67.2L270.9,67.0L270.8,66.7L270.5,66.3L270.3,66.0L270.2,65.8L270.1,65.2L270.2,64.8L270.2,64.4L270.5,64.0L270.6,63.8L270.9,63.5L271.2,63.2L271.5,63.1L271.8,63.0L272.2,62.8L272.5,62.7L272.9,62.5L273.1,62.2L273.3,62.0L273.5,61.6L273.7,61.2L273.8,61.0L274.0,60.7L274.2,60.3L274.5,60.0L274.7,59.8L274.9,59.5L275.2,59.2L275.5,59.1L275.8,59.0L276.2,58.9L276.7,59.0L277.0,59.2L277.2,59.3L277.5,59.6L277.8,59.8L278.0,60.2L278.2,60.5L278.3,60.8L278.5,61.2L278.6,61.5L278.6,62.0L278.7,62.5L278.8,62.9L278.8,63.2L278.8,63.8L278.8,64.2L278.8,64.8L278.7,65.0L278.5,65.5L278.4,65.8L278.2,66.0L278.0,66.2L277.7,66.5L277.5,66.8L277.2,67.0L277.0,67.3L276.8,67.8L276.7,68.0L276.5,68.5L276.4,68.8L276.2,69.1L276.0,69.4L275.8,69.6L275.5,69.8L275.0,69.9L274.8,70.0ZM274.2,65.2L274.0,64.8L273.8,64.7L273.6,65.0L273.8,65.3L274.2,65.2Z" stroke="#333" stroke-width="0.5" fill="none"/><g fill="#8a8a8a"><rect x="279.4" y="41.3" width="0.8" height="0.8"/><rect x="276.1" y="44.8" width="0.8" height="0.8"/><rect x="320.0" y="85.7" width="0.8" height="0.8"/><rect x="274.8" y="40.4" width="0.8" height="0.8"/><rect x="340.7" y="53.8" width="0.8" height="0.8"/><rect x="261.2" y="99.6" width="0.8" height="0.8"/><rect x="332.6" y="49.3" width="0.8" height="0.8"/><rect x="316.7" y="87.0" width="0.8" height="0.8"/><rect x="254.8" y="58.5" width="0.8" height="0.8"/><rect x="270.0" y="31.1" width="0.8" height="0.8"/><rect x="260.6" y="83.0" width="0.8" height="0.8"/><rect x="291.8" y="102.4" width="0.8" height="0.8"/><rect x="278.3" y="102.5" width="0.8" height="0.8"/><rect x="323.9" y="73.5" width="0.8" height="0.8"/><rect x="267.9" y="44.9" width="0.8" height="0.8"/><rect x="324.0" y="74.3" width="0.8" height="0.8"/><rect x="258.0" y="66.2" width="0.8" height="0.8"/><rect x="336.4" y="50.6" width="0.8" height="0.8"/><rect x="296.6" y="99.1" width="0.8" height="0.8"/><rect x="275.6" y="108.6" width="0.8" height="0.8"/><rect x="317.9" y="83.7" width="0.8" height="0.8"/><rect x="303.7" y="35.5" width="0.8" height="0.8"/><rect x="256.5" y="62.7" width="0.8" height="0.8"/><rect x="312.0" y="41.0" width="0.8" height="0.8"/><rect x="260.0" y="109.1" width="0.8" height="0.8"/><rect x="340.6" y="53.1" width="0.8" height="0.8"/><rect x="344.1" y="48.3" width="0.8" height="0.8"/><rect x="276.0" y="102.3" width="0.8" height="0.8"/><rect x="315.4" y="88.2" width="0.8" height="0.8"/><rect x="303.6" y="104.1" width="0.8" height="0.8"/><rect x="263.1" y="43.5" width="0.8" height="0.8"/><rect x="341.8" y="57.7" width="0.8" height="0.8"/><rect x="300.2" y="97.4" width="0.8" height="0.8"/><rect x="256.0" y="52.1" width="0.8" height="0.8"/><rect x="259.4" y="49.6" width="0.8" height="0.8"/><rect x="266.8" y="45.2" width="0.8" height="0.8"/><rect x="276.5" y="45.1" width="0.8" height="0.8"/><rect x="289.6" y="118.1" width="0.8" height="0.8"/><rect x="257.5" y="60.7" width="0.8" height="0.8"/><rect x="271.4" y="96.8" width="0.8" height="0.8"/><rect x="340.0" y="76.4" width="0.8" height="0.8"/><rect x="262.5" y="44.2" width="0.8" height="0.8"/><rect x="269.0" y="95.1" width="0.8" height="0.8"/><rect x="292.5" y="103.9" width="0.8" height="0.8"/><rect x="309.4" y="99.9" width="0.8" height="0.8"/><rect x="303.5" y="101.1" width="0.8" height="0.8"/><rect x="331.9" y="66.3" width="0.8" height="0.8"/><rect x="268.0" y="45.7" width="0.8" height="0.8"/><rect x="318.2" y="87.6" width="0.8" height="0.8"/><rect x="286.4" y="104.0" width="0.8" height="0.8"/><rect x="263.0" y="117.0" width="0.8" height="0.8"/><rect x="284.7" y="112.4" width="0.8" height="0.8"/><rect x="250.0" y="81.8" width="0.8" height="0.8"/><rect x="331.7" y="46.6" width="0.8" height="0.8"/><rect x="257.3" y="40.3" width="0.8" height="0.8"/><rect x="317.7" y="85.4" width="0.8" height="0.8"/><rect x="270.5" y="43.8" width="0.8" height="0.8"/><rect x="326.9" y="46.8" width="0.8" height="0.8"/><rect x="259.5" y="87.1" width="0.8" height="0.8"/><rect x="332.9" y="48.9" width="0.8" height="0.8"/><rect x="258.0" y="83.9" width="0.8" height="0.8"/><rect x="282.0" y="110.2" width="0.8" height="0.8"/><rect x="254.8" y="53.3" width="0.8" height="0.8"/><rect x="275.1" y="44.1" width="0.8" height="0.8"/><rect x="332.2" y="45.6" width="0.8" height="0.8"/><rect x="326.3" y="75.8" width="0.8" height="0.8"/><rect x="253.9" y="57.4" width="0.8" height="0.8"/><rect x="324.0" y="44.2" width="0.8" height="0.8"/><rect x="313.6" y="43.8" width="0.8" height="0.8"/><rect x="249.9" y="57.4" width="0.8" height="0.8"/></g><rect x="235.5" y="24.5" width="112.0" height="111.80000000000001" fill="none" stroke="#555" stroke-width="0.9"/><path d="M235.50,136.3v3.0M235.5,135.60h-3.0M241.91,136.3v1.8M235.5,129.19h-1.8M245.66,136.3v1.8M235.5,125.44h-1.8M248.32,136.3v1.8M235.5,122.78h-1.8M250.39,136.3v1.8M235.5,120.71h-1.8M252.07,136.3v1.8M235.5,119.03h-1.8M253.50,136.3v1.8M235.5,117.60h-1.8M254.74,136.3v1.8M235.5,116.36h-1.8M255.83,136.3v1.8M235.5,115.27h-1.8M256.80,136.3v3.0M235.5,114.30h-3.0M263.21,136.3v1.8M235.5,107.89h-1.8M266.96,136.3v1.8M235.5,104.14h-1.8M269.62,136.3v1.8M235.5,101.48h-1.8M271.69,136.3v1.8M235.5,99.41h-1.8M273.37,136.3v1.8M235.5,97.73h-1.8M274.80,136.3v1.8M235.5,96.30h-1.8M276.04,136.3v1.8M235.5,95.06h-1.8M277.13,136.3v1.8M235.5,93.97h-1.8M278.10,136.3v3.0M235.5,93.00h-3.0M284.51,136.3v1.8M235.5,86.59h-1.8M288.26,136.3v1.8M235.5,82.84h-1.8M290.92,136.3v1.8M235.5,80.18h-1.8M292.99,136.3v1.8M235.5,78.11h-1.8M294.67,136.3v1.8M235.5,76.43h-1.8M296.10,136.3v1.8M235.5,75.00h-1.8M297.34,136.3v1.8M235.5,73.76h-1.8M298.43,136.3v1.8M235.5,72.67h-1.8M299.40,136.3v3.0M235.5,71.70h-3.0M305.81,136.3v1.8M235.5,65.29h-1.8M309.56,136.3v1.8M235.5,61.54h-1.8M312.22,136.3v1.8M235.5,58.88h-1.8M314.29,136.3v1.8M235.5,56.81h-1.8M315.97,136.3v1.8M235.5,55.13h-1.8M317.40,136.3v1.8M235.5,53.70h-1.8M318.64,136.3v1.8M235.5,52.46h-1.8M319.73,136.3v1.8M235.5,51.37h-1.8M320.70,136.3v3.0M235.5,50.40h-3.0M327.11,136.3v1.8M235.5,43.99h-1.8M330.86,136.3v1.8M235.5,40.24h-1.8M333.52,136.3v1.8M235.5,37.58h-1.8M335.59,136.3v1.8M235.5,35.51h-1.8M337.27,136.3v1.8M235.5,33.83h-1.8M338.70,136.3v1.8M235.5,32.40h-1.8M339.94,136.3v1.8M235.5,31.16h-1.8M341.03,136.3v1.8M235.5,30.07h-1.8M342.00,136.3v3M235.5,29.10h-3" stroke="#333" stroke-width="0.9" fill="none"/><path d="M283.4,24.5V136.3M235.5,77.6H347.5" stroke="#2a2a2a" stroke-width="1.2"/><text x="237.5" y="36.0" font-size="8.6" text-anchor="start" font-weight="normal" fill="#2b2b2b" stroke="#2b2b2b" stroke-width="0.22" >33.8</text><text x="338.3" y="35.8" font-size="8.6" text-anchor="end" font-weight="normal" fill="#2b2b2b" stroke="#2b2b2b" stroke-width="0.22" >48.3</text><text x="237.5" y="129.5" font-size="8.6" text-anchor="start" font-weight="normal" fill="#2b2b2b" stroke="#2b2b2b" stroke-width="0.22" >9.32</text><text x="338.3" y="129.4" font-size="8.6" text-anchor="end" font-weight="normal" fill="#2b2b2b" stroke="#2b2b2b" stroke-width="0.22" >8.66</text><text x="228.8" y="138.6" font-size="8.5" text-anchor="end" fill="#2b2b2b" stroke="#2b2b2b" stroke-width="0.22">10<tspan font-size="5.8" dy="-3.5">2</tspan></text><text x="229.6" y="150.8" font-size="8.5" text-anchor="start" fill="#2b2b2b" stroke="#2b2b2b" stroke-width="0.22">10<tspan font-size="5.8" dy="-3.5">2</tspan></text><text x="228.8" y="117.3" font-size="8.5" text-anchor="end" fill="#2b2b2b" stroke="#2b2b2b" stroke-width="0.22">10<tspan font-size="5.8" dy="-3.5">3</tspan></text><text x="250.9" y="150.8" font-size="8.5" text-anchor="start" fill="#2b2b2b" stroke="#2b2b2b" stroke-width="0.22">10<tspan font-size="5.8" dy="-3.5">3</tspan></text><text x="228.8" y="96.0" font-size="8.5" text-anchor="end" fill="#2b2b2b" stroke="#2b2b2b" stroke-width="0.22">10<tspan font-size="5.8" dy="-3.5">4</tspan></text><text x="272.20000000000005" y="150.8" font-size="8.5" text-anchor="start" fill="#2b2b2b" stroke="#2b2b2b" stroke-width="0.22">10<tspan font-size="5.8" dy="-3.5">4</tspan></text><text x="228.8" y="74.69999999999999" font-size="8.5" text-anchor="end" fill="#2b2b2b" stroke="#2b2b2b" stroke-width="0.22">10<tspan font-size="5.8" dy="-3.5">5</tspan></text><text x="293.5" y="150.8" font-size="8.5" text-anchor="start" fill="#2b2b2b" stroke="#2b2b2b" stroke-width="0.22">10<tspan font-size="5.8" dy="-3.5">5</tspan></text><text x="228.8" y="53.39999999999999" font-size="8.5" text-anchor="end" fill="#2b2b2b" stroke="#2b2b2b" stroke-width="0.22">10<tspan font-size="5.8" dy="-3.5">6</tspan></text><text x="314.8" y="150.8" font-size="8.5" text-anchor="start" fill="#2b2b2b" stroke="#2b2b2b" stroke-width="0.22">10<tspan font-size="5.8" dy="-3.5">6</tspan></text><text x="228.8" y="32.099999999999994" font-size="8.5" text-anchor="end" fill="#2b2b2b" stroke="#2b2b2b" stroke-width="0.22">10<tspan font-size="5.8" dy="-3.5">7</tspan></text><text x="336.1" y="150.8" font-size="8.5" text-anchor="start" fill="#2b2b2b" stroke="#2b2b2b" stroke-width="0.22">10<tspan font-size="5.8" dy="-3.5">7</tspan></text><path d="M415.4,10.9V150.4H485.6" stroke="#1a1a1a" stroke-width="1.1" fill="none"/><path d="M415.4,150.40h-3M415.4,105.63h-3M415.4,60.86h-3M415.4,16.09h-3M435.5,150.4v3M465.4,150.4v3" stroke="#1a1a1a" stroke-width="1"/><text x="409.2" y="153.3" font-size="8.2" text-anchor="end" font-weight="normal" fill="#222" stroke="#222" stroke-width="0.22" >0</text><text x="409.2" y="108.53" font-size="8.2" text-anchor="end" font-weight="normal" fill="#222" stroke="#222" stroke-width="0.22" >20</text><text x="409.2" y="63.76" font-size="8.2" text-anchor="end" font-weight="normal" fill="#222" stroke="#222" stroke-width="0.22" >40</text><text x="409.2" y="18.990000000000002" font-size="8.2" text-anchor="end" font-weight="normal" fill="#222" stroke="#222" stroke-width="0.22" >60</text><text transform="translate(393.4,80.7) rotate(-90)" font-size="9.4" font-weight="bold" text-anchor="middle" fill="#222" textLength="62" lengthAdjust="spacingAndGlyphs">% CD38 CD138 +ve</text><text transform="translate(437.9,157.3) rotate(-90)" font-size="8.3" text-anchor="end" fill="#1a1a1a" stroke="#1a1a1a" stroke-width="0.22">IL21</text><text transform="translate(468.0,156.8) rotate(-90)" font-size="8.3" text-anchor="end" fill="#1a1a1a" stroke="#1a1a1a" stroke-width="0.22">IL21 IL27</text><path d="M435.4,111.8L465.3,36.0M435.4,66.5L465.3,41.8M435.4,98.8L465.3,83.3M435.4,103.3L465.3,87.7" stroke="#111" stroke-width="1.0"/><circle cx="435.4" cy="66.5" r="3.2" fill="#21507c" stroke="#0c2134" stroke-width="0.9"/><circle cx="435.4" cy="98.8" r="3.2" fill="#21507c" stroke="#0c2134" stroke-width="0.9"/><circle cx="435.4" cy="103.3" r="3.2" fill="#21507c" stroke="#0c2134" stroke-width="0.9"/><circle cx="435.4" cy="111.8" r="3.2" fill="#21507c" stroke="#0c2134" stroke-width="0.9"/><circle cx="465.3" cy="36.0" r="3.2" fill="#c4163b" stroke="#560818" stroke-width="0.9"/><circle cx="465.3" cy="41.8" r="3.2" fill="#c4163b" stroke="#560818" stroke-width="0.9"/><circle cx="465.3" cy="83.3" r="3.2" fill="#c4163b" stroke="#560818" stroke-width="0.9"/><circle cx="465.3" cy="87.7" r="3.2" fill="#c4163b" stroke="#560818" stroke-width="0.9"/><text x="7.6" y="218.8" font-size="11" text-anchor="start" font-weight="bold" fill="#111" stroke="#111" stroke-width="0.22" >B</text><text x="85.2" y="218.9" font-size="10.0" text-anchor="middle" font-weight="normal" fill="#222" stroke="#222" stroke-width="0.22" textLength="22.2" lengthAdjust="spacingAndGlyphs">IL-21</text><text x="195.0" y="219.0" font-size="10.0" text-anchor="middle" font-weight="normal" fill="#222" stroke="#222" stroke-width="0.22" textLength="57.5" lengthAdjust="spacingAndGlyphs">IL-21 + IL-27</text><text x="19.1" y="265.6" font-size="8.7" text-anchor="start" font-weight="normal" fill="#2a2a2a" stroke="#2a2a2a" stroke-width="0.22" >d0</text><text x="19.1" y="302.6" font-size="8.7" text-anchor="start" font-weight="normal" fill="#2a2a2a" stroke="#2a2a2a" stroke-width="0.22" >d3</text><text x="19.1" y="340.6" font-size="8.7" text-anchor="start" font-weight="normal" fill="#2a2a2a" stroke="#2a2a2a" stroke-width="0.22" >d6</text><text x="19.1" y="379.3" font-size="8.7" text-anchor="start" font-weight="normal" fill="#2a2a2a" stroke="#2a2a2a" stroke-width="0.22" >d13</text><text x="19.1" y="417.0" font-size="8.7" text-anchor="start" font-weight="normal" fill="#2a2a2a" stroke="#2a2a2a" stroke-width="0.22" >d20</text><path d="M37.0,263.3L46.5,261.4L54.2,256.6L60.0,249.9L64.8,243.2L67.7,235.5L70.2,228.3L72.5,233.5L74.4,243.2L77.3,254.7L82.1,260.5L90.8,262.8L96.0,263.3L134.0,263.3Z" fill="#bfbfdb" stroke="none"/><path d="M37.0,263.3L46.5,261.4L54.2,256.6L60.0,249.9L64.8,243.2L67.7,235.5L70.2,228.3L72.5,233.5L74.4,243.2L77.3,254.7L82.1,260.5L90.8,262.8L96.0,263.3L134.0,263.3" fill="none" stroke="#1a1a1a" stroke-width="0.9" stroke-linejoin="round"/><path d="M37.0,301.7L54.2,301.0L60.0,299.5L63.8,294.7L66.7,285.0L69.6,275.5L72.5,270.7L74.4,268.7L76.3,270.7L79.2,277.4L83.1,288.9L86.0,296.6L89.8,300.5L92.7,301.4L134.0,301.7Z" fill="#bfbfdb" stroke="none"/><path d="M37.0,301.7L54.2,301.0L60.0,299.5L63.8,294.7L66.7,285.0L69.6,275.5L72.5,270.7L74.4,268.7L76.3,270.7L79.2,277.4L83.1,288.9L86.0,296.6L89.8,300.5L92.7,301.4L134.0,301.7" fill="none" stroke="#1a1a1a" stroke-width="0.9" stroke-linejoin="round"/><path d="M37.0,340.0L52.3,339.3L58.0,336.5L62.0,333.7L66.7,327.9L70.6,326.9L75.4,326.0L78.3,324.0L82.1,319.2L85.0,314.4L87.9,308.7L90.8,305.8L92.7,304.8L95.6,310.6L98.5,321.2L101.3,334.6L104.2,339.4L107.0,340.0L134.0,340.0Z" fill="#bfbfdb" stroke="none"/><path d="M37.0,340.0L52.3,339.3L58.0,336.5L62.0,333.7L66.7,327.9L70.6,326.9L75.4,326.0L78.3,324.0L82.1,319.2L85.0,314.4L87.9,308.7L90.8,305.8L92.7,304.8L95.6,310.6L98.5,321.2L101.3,334.6L104.2,339.4L107.0,340.0L134.0,340.0" fill="none" stroke="#1a1a1a" stroke-width="0.9" stroke-linejoin="round"/><path d="M37.0,378.4L50.4,377.8L60.0,376.8L69.6,373.6L75.4,372.6L81.2,369.7L87.0,365.9L92.7,362.0L95.6,357.2L97.5,351.5L100.4,347.6L102.3,348.6L104.2,355.3L107.1,366.8L109.0,374.5L112.0,377.6L115.0,378.2L134.0,378.4Z" fill="#bfbfdb" stroke="none"/><path d="M37.0,378.4L50.4,377.8L60.0,376.8L69.6,373.6L75.4,372.6L81.2,369.7L87.0,365.9L92.7,362.0L95.6,357.2L97.5,351.5L100.4,347.6L102.3,348.6L104.2,355.3L107.1,366.8L109.0,374.5L112.0,377.6L115.0,378.2L134.0,378.4" fill="none" stroke="#1a1a1a" stroke-width="0.9" stroke-linejoin="round"/><path d="M37.0,416.8L56.2,416.2L63.8,415.4L66.7,411.6L68.7,409.0L70.6,410.6L73.5,406.8L75.4,404.8L78.3,405.8L81.2,404.8L84.0,402.0L87.0,399.5L88.8,401.0L91.7,396.2L95.6,393.3L97.5,396.2L99.4,390.4L101.3,392.3L103.7,388.5L105.2,395.2L107.1,402.0L109.0,406.8L111.0,412.5L113.8,415.6L117.0,416.4L134.0,416.8Z" fill="#bfbfdb" stroke="none"/><path d="M37.0,416.8L56.2,416.2L63.8,415.4L66.7,411.6L68.7,409.0L70.6,410.6L73.5,406.8L75.4,404.8L78.3,405.8L81.2,404.8L84.0,402.0L87.0,399.5L88.8,401.0L91.7,396.2L95.6,393.3L97.5,396.2L99.4,390.4L101.3,392.3L103.7,388.5L105.2,395.2L107.1,402.0L109.0,406.8L111.0,412.5L113.8,415.6L117.0,416.4L134.0,416.8" fill="none" stroke="#1a1a1a" stroke-width="0.9" stroke-linejoin="round"/><rect x="37.0" y="224.9" width="97.0" height="191.9" fill="none" stroke="#1e1e1e" stroke-width="1.35"/><path d="M37.0,263.28H134.0M37.0,301.66H134.0M37.0,340.04H134.0M37.0,378.42H134.0" stroke="#1e1e1e" stroke-width="1.1"/><path d="M37.00,416.8v2.8M42.42,416.8v1.6M45.59,416.8v1.6M47.84,416.8v1.6M49.58,416.8v1.6M51.01,416.8v1.6M52.21,416.8v1.6M53.26,416.8v1.6M54.18,416.8v1.6M55.00,416.8v2.8M60.42,416.8v1.6M63.59,416.8v1.6M65.84,416.8v1.6M67.58,416.8v1.6M69.01,416.8v1.6M70.21,416.8v1.6M71.26,416.8v1.6M72.18,416.8v1.6M73.00,416.8v2.8M78.42,416.8v1.6M81.59,416.8v1.6M83.84,416.8v1.6M85.58,416.8v1.6M87.01,416.8v1.6M88.21,416.8v1.6M89.26,416.8v1.6M90.18,416.8v1.6M91.00,416.8v2.8M96.42,416.8v1.6M99.59,416.8v1.6M101.84,416.8v1.6M103.58,416.8v1.6M105.01,416.8v1.6M106.21,416.8v1.6M107.26,416.8v1.6M108.18,416.8v1.6M109.00,416.8v2.8M114.42,416.8v1.6M117.59,416.8v1.6M119.84,416.8v1.6M121.58,416.8v1.6M123.01,416.8v1.6M124.21,416.8v1.6M125.26,416.8v1.6M126.18,416.8v1.6M127.00,416.8v2.8M132.42,416.8v1.6" stroke="#333" stroke-width="0.7"/><path d="M148.7,262.5L158.5,260.5L164.2,256.6L170.0,248.9L174.8,240.3L177.7,232.6L180.2,227.8L182.5,233.5L184.4,243.2L187.3,254.7L192.1,260.5L198.8,262.4L203.0,262.7L240.9,262.5Z" fill="#ecbdb2" stroke="none"/><path d="M148.7,262.5L158.5,260.5L164.2,256.6L170.0,248.9L174.8,240.3L177.7,232.6L180.2,227.8L182.5,233.5L184.4,243.2L187.3,254.7L192.1,260.5L198.8,262.4L203.0,262.7L240.9,262.5" fill="none" stroke="#1a1a1a" stroke-width="0.9" stroke-linejoin="round"/><path d="M148.7,300.7L162.3,300.3L170.0,298.5L173.8,294.7L176.7,285.0L179.2,275.5L181.5,267.8L183.0,265.8L185.4,268.7L188.3,279.3L191.2,290.8L194.0,297.6L198.8,300.3L203.0,300.8L240.9,300.7Z" fill="#ecbdb2" stroke="none"/><path d="M148.7,300.7L162.3,300.3L170.0,298.5L173.8,294.7L176.7,285.0L179.2,275.5L181.5,267.8L183.0,265.8L185.4,268.7L188.3,279.3L191.2,290.8L194.0,297.6L198.8,300.3L203.0,300.8L240.9,300.7" fill="none" stroke="#1a1a1a" stroke-width="0.9" stroke-linejoin="round"/><path d="M148.7,339.0L156.5,338.3L166.2,336.5L172.0,333.7L176.7,329.8L179.6,328.8L183.5,329.2L186.3,327.9L190.2,323.0L194.0,316.3L197.0,309.6L199.8,304.8L201.7,303.5L204.6,307.7L207.5,319.2L210.4,331.7L213.3,337.5L218.0,338.6L222.0,339.0L240.9,339.0Z" fill="#ecbdb2" stroke="none"/><path d="M148.7,339.0L156.5,338.3L166.2,336.5L172.0,333.7L176.7,329.8L179.6,328.8L183.5,329.2L186.3,327.9L190.2,323.0L194.0,316.3L197.0,309.6L199.8,304.8L201.7,303.5L204.6,307.7L207.5,319.2L210.4,331.7L213.3,337.5L218.0,338.6L222.0,339.0L240.9,339.0" fill="none" stroke="#1a1a1a" stroke-width="0.9" stroke-linejoin="round"/><path d="M148.7,377.2L168.0,376.5L177.7,374.5L185.4,373.6L190.0,373.2L194.6,372.0L199.2,368.3L201.9,364.6L204.7,357.3L207.4,349.9L209.5,344.5L210.6,342.6L212.0,344.0L213.9,347.2L215.7,356.3L217.5,368.3L220.3,375.6L223.0,376.9L226.0,377.1L240.9,377.2Z" fill="#ecbdb2" stroke="none"/><path d="M148.7,377.2L168.0,376.5L177.7,374.5L185.4,373.6L190.0,373.2L194.6,372.0L199.2,368.3L201.9,364.6L204.7,357.3L207.4,349.9L209.5,344.5L210.6,342.6L212.0,344.0L213.9,347.2L215.7,356.3L217.5,368.3L220.3,375.6L223.0,376.9L226.0,377.1L240.9,377.2" fill="none" stroke="#1a1a1a" stroke-width="0.9" stroke-linejoin="round"/><path d="M148.7,415.4L172.0,414.7L176.7,412.5L179.6,410.6L182.5,409.7L185.4,410.6L188.3,409.0L192.1,406.8L195.4,406.8L197.9,401.0L199.8,399.0L201.7,397.2L203.7,394.3L206.5,392.3L209.4,385.6L211.3,387.5L213.3,386.6L215.8,391.4L217.7,401.0L220.0,410.6L222.9,414.2L226.0,415.2L240.9,415.4Z" fill="#ecbdb2" stroke="none"/><path d="M148.7,415.4L172.0,414.7L176.7,412.5L179.6,410.6L182.5,409.7L185.4,410.6L188.3,409.0L192.1,406.8L195.4,406.8L197.9,401.0L199.8,399.0L201.7,397.2L203.7,394.3L206.5,392.3L209.4,385.6L211.3,387.5L213.3,386.6L215.8,391.4L217.7,401.0L220.0,410.6L222.9,414.2L226.0,415.2L240.9,415.4" fill="none" stroke="#1a1a1a" stroke-width="0.9" stroke-linejoin="round"/><rect x="148.7" y="224.3" width="92.20000000000002" height="191.09999999999997" fill="none" stroke="#1e1e1e" stroke-width="1.35"/><path d="M148.7,262.52H240.9M148.7,300.74H240.9M148.7,338.96H240.9M148.7,377.18H240.9" stroke="#1e1e1e" stroke-width="1.1"/><path d="M148.70,415.4v2.8M154.12,415.4v1.6M157.29,415.4v1.6M159.54,415.4v1.6M161.28,415.4v1.6M162.71,415.4v1.6M163.91,415.4v1.6M164.96,415.4v1.6M165.88,415.4v1.6M166.70,415.4v2.8M172.12,415.4v1.6M175.29,415.4v1.6M177.54,415.4v1.6M179.28,415.4v1.6M180.71,415.4v1.6M181.91,415.4v1.6M182.96,415.4v1.6M183.88,415.4v1.6M184.70,415.4v2.8M190.12,415.4v1.6M193.29,415.4v1.6M195.54,415.4v1.6M197.28,415.4v1.6M198.71,415.4v1.6M199.91,415.4v1.6M200.96,415.4v1.6M201.88,415.4v1.6M202.70,415.4v2.8M208.12,415.4v1.6M211.29,415.4v1.6M213.54,415.4v1.6M215.28,415.4v1.6M216.71,415.4v1.6M217.91,415.4v1.6M218.96,415.4v1.6M219.88,415.4v1.6M220.70,415.4v2.8M226.12,415.4v1.6M229.29,415.4v1.6M231.54,415.4v1.6M233.28,415.4v1.6M234.71,415.4v1.6M235.91,415.4v1.6M236.96,415.4v1.6M237.88,415.4v1.6M238.70,415.4v2.8" stroke="#333" stroke-width="0.7"/><text x="38.199999999999996" y="430.9" font-size="7.9" text-anchor="start" fill="#2a2a2a" stroke="#2a2a2a" stroke-width="0.22">10<tspan font-size="5.4" dy="-3.2">2</tspan></text><text x="71.4" y="430.9" font-size="7.9" text-anchor="start" fill="#2a2a2a" stroke="#2a2a2a" stroke-width="0.22">10<tspan font-size="5.4" dy="-3.2">4</tspan></text><text x="108.4" y="430.9" font-size="7.9" text-anchor="start" fill="#2a2a2a" stroke="#2a2a2a" stroke-width="0.22">10<tspan font-size="5.4" dy="-3.2">6</tspan></text><text x="149.4" y="430.9" font-size="7.9" text-anchor="start" fill="#2a2a2a" stroke="#2a2a2a" stroke-width="0.22">10<tspan font-size="5.4" dy="-3.2">2</tspan></text><text x="181.3" y="430.9" font-size="7.9" text-anchor="start" fill="#2a2a2a" stroke="#2a2a2a" stroke-width="0.22">10<tspan font-size="5.4" dy="-3.2">4</tspan></text><text x="216.70000000000002" y="430.9" font-size="7.9" text-anchor="start" fill="#2a2a2a" stroke="#2a2a2a" stroke-width="0.22">10<tspan font-size="5.4" dy="-3.2">6</tspan></text><text x="37.6" y="447.9" font-size="9.8" fill="#1a1a1a" stroke="#1a1a1a" stroke-width="0.25" textLength="16.4" lengthAdjust="spacingAndGlyphs">CD38</text><path d="M58,444.6H236" stroke="#222" stroke-width="1.3"/><path d="M241.2,444.6L235.2,442.2L235.2,447Z" fill="#111"/><circle cx="311.3" cy="235.9" r="3.4" fill="#21507c" stroke="#0c2134" stroke-width="0.9"/><circle cx="311.3" cy="247.6" r="3.4" fill="#c4163b" stroke="#560818" stroke-width="0.9"/><text x="317.6" y="238.6" font-size="7.7" text-anchor="start" font-weight="normal" fill="#333" stroke="#333" stroke-width="0.22" >IL-21</text><text x="317.6" y="250.6" font-size="7.7" text-anchor="start" font-weight="normal" fill="#333" stroke="#333" stroke-width="0.22" >IL-21 + IL-27</text><path d="M308.2,259.4V420.5H512.6" stroke="#1a1a1a" stroke-width="1.1" fill="none"/><path d="M308.2,420.50h-3M308.2,381.15h-3M308.2,341.80h-3M308.2,302.45h-3M308.2,263.10h-3M326.6,420.5v3M368.4,420.5v3M410.3,420.5v3M452.1,420.5v3M494.0,420.5v3" stroke="#1a1a1a" stroke-width="1"/><text x="301.0" y="423.3" font-size="8.6" text-anchor="end" font-weight="normal" fill="#222" stroke="#222" stroke-width="0.22" textLength="5.2" lengthAdjust="spacing">0</text><text x="301.0" y="383.95" font-size="8.6" text-anchor="end" font-weight="normal" fill="#222" stroke="#222" stroke-width="0.22" textLength="29.4" lengthAdjust="spacing">100000</text><text x="301.0" y="344.6" font-size="8.6" text-anchor="end" font-weight="normal" fill="#222" stroke="#222" stroke-width="0.22" textLength="29.4" lengthAdjust="spacing">200000</text><text x="301.0" y="305.25" font-size="8.6" text-anchor="end" font-weight="normal" fill="#222" stroke="#222" stroke-width="0.22" textLength="29.4" lengthAdjust="spacing">300000</text><text x="301.0" y="265.90000000000003" font-size="8.6" text-anchor="end" font-weight="normal" fill="#222" stroke="#222" stroke-width="0.22" textLength="29.4" lengthAdjust="spacing">400000</text><text x="326.6" y="434.5" font-size="8.6" text-anchor="middle" font-weight="normal" fill="#222" stroke="#222" stroke-width="0.22" >0</text><text x="368.4" y="434.5" font-size="8.6" text-anchor="middle" font-weight="normal" fill="#222" stroke="#222" stroke-width="0.22" >3</text><text x="410.3" y="434.5" font-size="8.6" text-anchor="middle" font-weight="normal" fill="#222" stroke="#222" stroke-width="0.22" >6</text><text x="452.1" y="434.5" font-size="8.6" text-anchor="middle" font-weight="normal" fill="#222" stroke="#222" stroke-width="0.22" >13</text><text x="494.0" y="434.5" font-size="8.6" text-anchor="middle" font-weight="normal" fill="#222" stroke="#222" stroke-width="0.22" >20</text><text x="386.4" y="447.3" font-size="10.2" fill="#1a1a1a" stroke="#1a1a1a" stroke-width="0.3" textLength="48.0" lengthAdjust="spacingAndGlyphs">Day post set up</text><text transform="translate(266.0,339.3) rotate(-90)" font-size="10.2" text-anchor="middle" fill="#1a1a1a" stroke="#1a1a1a" stroke-width="0.3" textLength="31.6" lengthAdjust="spacingAndGlyphs">CD38 MFI</text><path d="M318.3,284.8V282.4H334.90000000000003V284.8" stroke="#222" stroke-width="1" fill="none"/><text x="326.6" y="277.2" font-size="8.0" text-anchor="middle" font-weight="normal" fill="#333" stroke="#333" stroke-width="0.22" >ns</text><path d="M360.09999999999997,284.8V282.4H376.7V284.8" stroke="#222" stroke-width="1" fill="none"/><text x="368.4" y="277.2" font-size="8.0" text-anchor="middle" font-weight="normal" fill="#333" stroke="#333" stroke-width="0.22" >ns</text><path d="M402.0,284.8V282.4H418.6V284.8" stroke="#222" stroke-width="1" fill="none"/><text x="410.3" y="277.2" font-size="8.0" text-anchor="middle" font-weight="normal" fill="#333" stroke="#333" stroke-width="0.22" >ns</text><path d="M443.8,284.8V282.4H460.40000000000003V284.8" stroke="#222" stroke-width="1" fill="none"/><text x="452.1" y="282.2" font-size="8.0" text-anchor="middle" font-weight="normal" fill="#333" stroke="#333" stroke-width="0.22" >***</text><path d="M485.7,284.8V282.4H502.3V284.8" stroke="#222" stroke-width="1" fill="none"/><text x="494.0" y="282.2" font-size="8.0" text-anchor="middle" font-weight="normal" fill="#333" stroke="#333" stroke-width="0.22" >****</text><path d="M318.6,418.6L334.6,418.6" stroke="#111" stroke-width="1.0"/><circle cx="318.6" cy="418.6" r="3.6" fill="#21507c" stroke="#0c2134" stroke-width="0.9"/><circle cx="318.6" cy="418.6" r="3.6" fill="#21507c" stroke="#0c2134" stroke-width="0.9"/><circle cx="334.6" cy="418.6" r="3.6" fill="#c4163b" stroke="#560818" stroke-width="0.9"/><circle cx="334.6" cy="418.6" r="3.6" fill="#c4163b" stroke="#560818" stroke-width="0.9"/><path d="M360.4,410.8L376.4,412.8M360.4,416.5L376.4,415.4" stroke="#111" stroke-width="1.0"/><circle cx="360.4" cy="410.8" r="3.6" fill="#21507c" stroke="#0c2134" stroke-width="0.9"/><circle cx="360.4" cy="413.6" r="3.6" fill="#21507c" stroke="#0c2134" stroke-width="0.9"/><circle cx="360.4" cy="416.5" r="3.6" fill="#21507c" stroke="#0c2134" stroke-width="0.9"/><circle cx="376.4" cy="412.8" r="3.6" fill="#c4163b" stroke="#560818" stroke-width="0.9"/><circle cx="376.4" cy="415.4" r="3.6" fill="#c4163b" stroke="#560818" stroke-width="0.9"/><path d="M402.3,378.6L418.3,365.2M402.3,381.9L418.3,375.0M402.3,392.4L418.3,379.6M402.3,394.2L418.3,384.1" stroke="#111" stroke-width="1.0"/><circle cx="402.3" cy="378.6" r="3.6" fill="#21507c" stroke="#0c2134" stroke-width="0.9"/><circle cx="402.3" cy="381.9" r="3.6" fill="#21507c" stroke="#0c2134" stroke-width="0.9"/><circle cx="402.3" cy="392.4" r="3.6" fill="#21507c" stroke="#0c2134" stroke-width="0.9"/><circle cx="402.3" cy="394.2" r="3.6" fill="#21507c" stroke="#0c2134" stroke-width="0.9"/><circle cx="418.3" cy="365.2" r="3.6" fill="#c4163b" stroke="#560818" stroke-width="0.9"/><circle cx="418.3" cy="375.0" r="3.6" fill="#c4163b" stroke="#560818" stroke-width="0.9"/><circle cx="418.3" cy="379.6" r="3.6" fill="#c4163b" stroke="#560818" stroke-width="0.9"/><circle cx="418.3" cy="384.1" r="3.6" fill="#c4163b" stroke="#560818" stroke-width="0.9"/><path d="M444.1,333.6L460.1,305.5M444.1,378.0L460.1,345.8M444.1,386.3L460.1,356.0M444.1,378.0L460.1,366.5" stroke="#111" stroke-width="1.0"/><circle cx="444.1" cy="333.6" r="3.6" fill="#21507c" stroke="#0c2134" stroke-width="0.9"/><circle cx="444.1" cy="378.0" r="3.6" fill="#21507c" stroke="#0c2134" stroke-width="0.9"/><circle cx="444.1" cy="378.0" r="3.6" fill="#21507c" stroke="#0c2134" stroke-width="0.9"/><circle cx="444.1" cy="386.3" r="3.6" fill="#21507c" stroke="#0c2134" stroke-width="0.9"/><circle cx="460.1" cy="305.5" r="3.6" fill="#c4163b" stroke="#560818" stroke-width="0.9"/><circle cx="460.1" cy="345.8" r="3.6" fill="#c4163b" stroke="#560818" stroke-width="0.9"/><circle cx="460.1" cy="356.0" r="3.6" fill="#c4163b" stroke="#560818" stroke-width="0.9"/><circle cx="460.1" cy="366.5" r="3.6" fill="#c4163b" stroke="#560818" stroke-width="0.9"/><path d="M486.0,333.8L502.0,304.8M486.0,365.6L502.0,312.9M486.0,371.9L502.0,336.4M486.0,377.4L502.0,341.4" stroke="#111" stroke-width="1.0"/><circle cx="486.0" cy="333.8" r="3.6" fill="#21507c" stroke="#0c2134" stroke-width="0.9"/><circle cx="486.0" cy="365.6" r="3.6" fill="#21507c" stroke="#0c2134" stroke-width="0.9"/><circle cx="486.0" cy="371.9" r="3.6" fill="#21507c" stroke="#0c2134" stroke-width="0.9"/><circle cx="486.0" cy="377.4" r="3.6" fill="#21507c" stroke="#0c2134" stroke-width="0.9"/><circle cx="502.0" cy="304.8" r="3.6" fill="#c4163b" stroke="#560818" stroke-width="0.9"/><circle cx="502.0" cy="312.9" r="3.6" fill="#c4163b" stroke="#560818" stroke-width="0.9"/><circle cx="502.0" cy="336.4" r="3.6" fill="#c4163b" stroke="#560818" stroke-width="0.9"/><circle cx="502.0" cy="341.4" r="3.6" fill="#c4163b" stroke="#560818" stroke-width="0.9"/></svg></body></html>
